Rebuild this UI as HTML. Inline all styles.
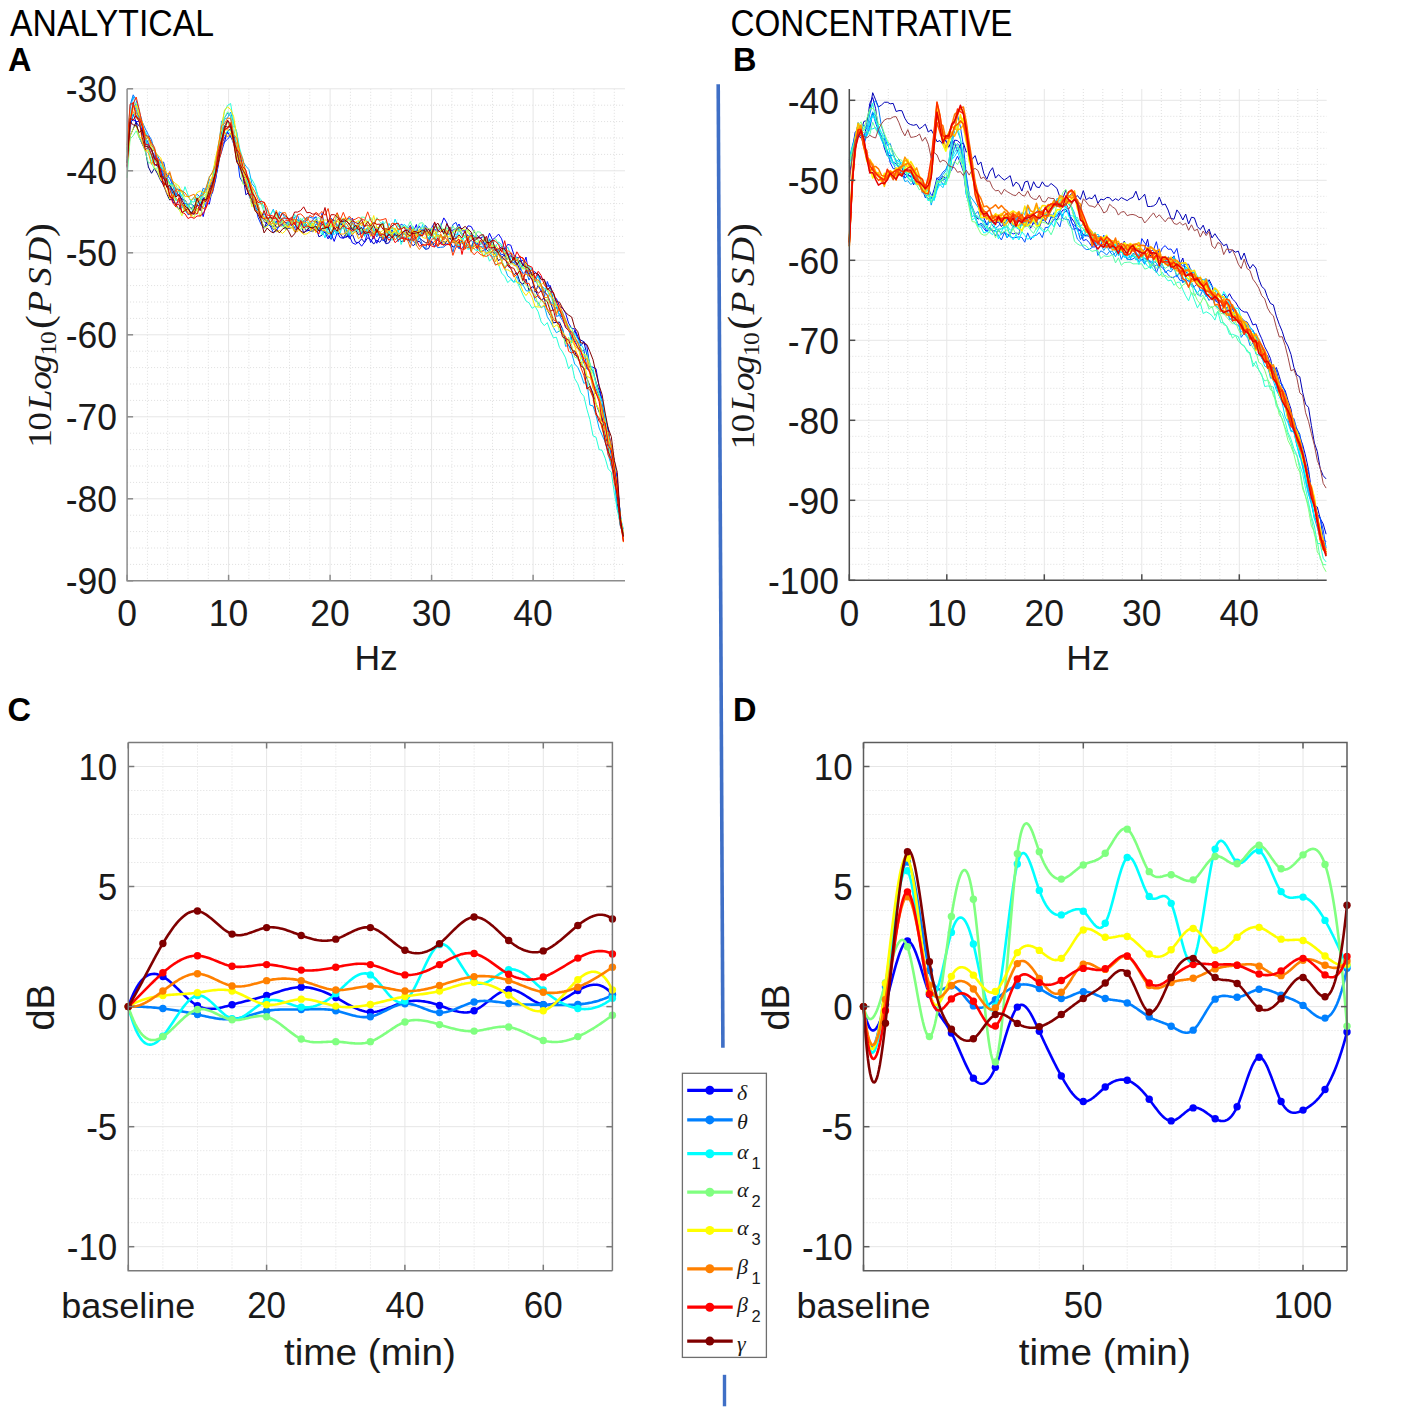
<!DOCTYPE html><html><head><meta charset="utf-8"><style>html,body{margin:0;padding:0;background:#fff;}svg{display:block;}</style></head><body><svg width="1417" height="1415" viewBox="0 0 1417 1415">
<rect width="1417" height="1415" fill="#ffffff"/>
<line x1="147.4" y1="88.8" x2="147.4" y2="580.8" stroke="#dedede" stroke-width="1" stroke-dasharray="1 2"/>
<line x1="167.7" y1="88.8" x2="167.7" y2="580.8" stroke="#dedede" stroke-width="1" stroke-dasharray="1 2"/>
<line x1="188" y1="88.8" x2="188" y2="580.8" stroke="#dedede" stroke-width="1" stroke-dasharray="1 2"/>
<line x1="208.3" y1="88.8" x2="208.3" y2="580.8" stroke="#dedede" stroke-width="1" stroke-dasharray="1 2"/>
<line x1="248.9" y1="88.8" x2="248.9" y2="580.8" stroke="#dedede" stroke-width="1" stroke-dasharray="1 2"/>
<line x1="269.2" y1="88.8" x2="269.2" y2="580.8" stroke="#dedede" stroke-width="1" stroke-dasharray="1 2"/>
<line x1="289.5" y1="88.8" x2="289.5" y2="580.8" stroke="#dedede" stroke-width="1" stroke-dasharray="1 2"/>
<line x1="309.8" y1="88.8" x2="309.8" y2="580.8" stroke="#dedede" stroke-width="1" stroke-dasharray="1 2"/>
<line x1="350.4" y1="88.8" x2="350.4" y2="580.8" stroke="#dedede" stroke-width="1" stroke-dasharray="1 2"/>
<line x1="370.7" y1="88.8" x2="370.7" y2="580.8" stroke="#dedede" stroke-width="1" stroke-dasharray="1 2"/>
<line x1="391" y1="88.8" x2="391" y2="580.8" stroke="#dedede" stroke-width="1" stroke-dasharray="1 2"/>
<line x1="411.3" y1="88.8" x2="411.3" y2="580.8" stroke="#dedede" stroke-width="1" stroke-dasharray="1 2"/>
<line x1="451.9" y1="88.8" x2="451.9" y2="580.8" stroke="#dedede" stroke-width="1" stroke-dasharray="1 2"/>
<line x1="472.2" y1="88.8" x2="472.2" y2="580.8" stroke="#dedede" stroke-width="1" stroke-dasharray="1 2"/>
<line x1="492.5" y1="88.8" x2="492.5" y2="580.8" stroke="#dedede" stroke-width="1" stroke-dasharray="1 2"/>
<line x1="512.8" y1="88.8" x2="512.8" y2="580.8" stroke="#dedede" stroke-width="1" stroke-dasharray="1 2"/>
<line x1="553.4" y1="88.8" x2="553.4" y2="580.8" stroke="#dedede" stroke-width="1" stroke-dasharray="1 2"/>
<line x1="573.7" y1="88.8" x2="573.7" y2="580.8" stroke="#dedede" stroke-width="1" stroke-dasharray="1 2"/>
<line x1="594" y1="88.8" x2="594" y2="580.8" stroke="#dedede" stroke-width="1" stroke-dasharray="1 2"/>
<line x1="614.3" y1="88.8" x2="614.3" y2="580.8" stroke="#dedede" stroke-width="1" stroke-dasharray="1 2"/>
<line x1="127.1" y1="105.2" x2="625" y2="105.2" stroke="#dedede" stroke-width="1" stroke-dasharray="1 2"/>
<line x1="127.1" y1="121.6" x2="625" y2="121.6" stroke="#dedede" stroke-width="1" stroke-dasharray="1 2"/>
<line x1="127.1" y1="138" x2="625" y2="138" stroke="#dedede" stroke-width="1" stroke-dasharray="1 2"/>
<line x1="127.1" y1="154.4" x2="625" y2="154.4" stroke="#dedede" stroke-width="1" stroke-dasharray="1 2"/>
<line x1="127.1" y1="187.2" x2="625" y2="187.2" stroke="#dedede" stroke-width="1" stroke-dasharray="1 2"/>
<line x1="127.1" y1="203.6" x2="625" y2="203.6" stroke="#dedede" stroke-width="1" stroke-dasharray="1 2"/>
<line x1="127.1" y1="220" x2="625" y2="220" stroke="#dedede" stroke-width="1" stroke-dasharray="1 2"/>
<line x1="127.1" y1="236.4" x2="625" y2="236.4" stroke="#dedede" stroke-width="1" stroke-dasharray="1 2"/>
<line x1="127.1" y1="269.2" x2="625" y2="269.2" stroke="#dedede" stroke-width="1" stroke-dasharray="1 2"/>
<line x1="127.1" y1="285.6" x2="625" y2="285.6" stroke="#dedede" stroke-width="1" stroke-dasharray="1 2"/>
<line x1="127.1" y1="302" x2="625" y2="302" stroke="#dedede" stroke-width="1" stroke-dasharray="1 2"/>
<line x1="127.1" y1="318.4" x2="625" y2="318.4" stroke="#dedede" stroke-width="1" stroke-dasharray="1 2"/>
<line x1="127.1" y1="351.2" x2="625" y2="351.2" stroke="#dedede" stroke-width="1" stroke-dasharray="1 2"/>
<line x1="127.1" y1="367.6" x2="625" y2="367.6" stroke="#dedede" stroke-width="1" stroke-dasharray="1 2"/>
<line x1="127.1" y1="384" x2="625" y2="384" stroke="#dedede" stroke-width="1" stroke-dasharray="1 2"/>
<line x1="127.1" y1="400.4" x2="625" y2="400.4" stroke="#dedede" stroke-width="1" stroke-dasharray="1 2"/>
<line x1="127.1" y1="433.2" x2="625" y2="433.2" stroke="#dedede" stroke-width="1" stroke-dasharray="1 2"/>
<line x1="127.1" y1="449.6" x2="625" y2="449.6" stroke="#dedede" stroke-width="1" stroke-dasharray="1 2"/>
<line x1="127.1" y1="466" x2="625" y2="466" stroke="#dedede" stroke-width="1" stroke-dasharray="1 2"/>
<line x1="127.1" y1="482.4" x2="625" y2="482.4" stroke="#dedede" stroke-width="1" stroke-dasharray="1 2"/>
<line x1="127.1" y1="515.2" x2="625" y2="515.2" stroke="#dedede" stroke-width="1" stroke-dasharray="1 2"/>
<line x1="127.1" y1="531.6" x2="625" y2="531.6" stroke="#dedede" stroke-width="1" stroke-dasharray="1 2"/>
<line x1="127.1" y1="548" x2="625" y2="548" stroke="#dedede" stroke-width="1" stroke-dasharray="1 2"/>
<line x1="127.1" y1="564.4" x2="625" y2="564.4" stroke="#dedede" stroke-width="1" stroke-dasharray="1 2"/>
<line x1="228.6" y1="88.8" x2="228.6" y2="580.8" stroke="#e6e6e6" stroke-width="1"/>
<line x1="330.1" y1="88.8" x2="330.1" y2="580.8" stroke="#e6e6e6" stroke-width="1"/>
<line x1="431.6" y1="88.8" x2="431.6" y2="580.8" stroke="#e6e6e6" stroke-width="1"/>
<line x1="533.1" y1="88.8" x2="533.1" y2="580.8" stroke="#e6e6e6" stroke-width="1"/>
<line x1="127.1" y1="88.8" x2="625" y2="88.8" stroke="#e6e6e6" stroke-width="1"/>
<line x1="127.1" y1="170.8" x2="625" y2="170.8" stroke="#e6e6e6" stroke-width="1"/>
<line x1="127.1" y1="252.8" x2="625" y2="252.8" stroke="#e6e6e6" stroke-width="1"/>
<line x1="127.1" y1="334.8" x2="625" y2="334.8" stroke="#e6e6e6" stroke-width="1"/>
<line x1="127.1" y1="416.8" x2="625" y2="416.8" stroke="#e6e6e6" stroke-width="1"/>
<line x1="127.1" y1="498.8" x2="625" y2="498.8" stroke="#e6e6e6" stroke-width="1"/>
<line x1="868.8" y1="89" x2="868.8" y2="580.3" stroke="#dedede" stroke-width="1" stroke-dasharray="1 2"/>
<line x1="888.3" y1="89" x2="888.3" y2="580.3" stroke="#dedede" stroke-width="1" stroke-dasharray="1 2"/>
<line x1="907.8" y1="89" x2="907.8" y2="580.3" stroke="#dedede" stroke-width="1" stroke-dasharray="1 2"/>
<line x1="927.3" y1="89" x2="927.3" y2="580.3" stroke="#dedede" stroke-width="1" stroke-dasharray="1 2"/>
<line x1="966.3" y1="89" x2="966.3" y2="580.3" stroke="#dedede" stroke-width="1" stroke-dasharray="1 2"/>
<line x1="985.8" y1="89" x2="985.8" y2="580.3" stroke="#dedede" stroke-width="1" stroke-dasharray="1 2"/>
<line x1="1005.3" y1="89" x2="1005.3" y2="580.3" stroke="#dedede" stroke-width="1" stroke-dasharray="1 2"/>
<line x1="1024.8" y1="89" x2="1024.8" y2="580.3" stroke="#dedede" stroke-width="1" stroke-dasharray="1 2"/>
<line x1="1063.8" y1="89" x2="1063.8" y2="580.3" stroke="#dedede" stroke-width="1" stroke-dasharray="1 2"/>
<line x1="1083.3" y1="89" x2="1083.3" y2="580.3" stroke="#dedede" stroke-width="1" stroke-dasharray="1 2"/>
<line x1="1102.8" y1="89" x2="1102.8" y2="580.3" stroke="#dedede" stroke-width="1" stroke-dasharray="1 2"/>
<line x1="1122.3" y1="89" x2="1122.3" y2="580.3" stroke="#dedede" stroke-width="1" stroke-dasharray="1 2"/>
<line x1="1161.3" y1="89" x2="1161.3" y2="580.3" stroke="#dedede" stroke-width="1" stroke-dasharray="1 2"/>
<line x1="1180.8" y1="89" x2="1180.8" y2="580.3" stroke="#dedede" stroke-width="1" stroke-dasharray="1 2"/>
<line x1="1200.3" y1="89" x2="1200.3" y2="580.3" stroke="#dedede" stroke-width="1" stroke-dasharray="1 2"/>
<line x1="1219.8" y1="89" x2="1219.8" y2="580.3" stroke="#dedede" stroke-width="1" stroke-dasharray="1 2"/>
<line x1="1258.8" y1="89" x2="1258.8" y2="580.3" stroke="#dedede" stroke-width="1" stroke-dasharray="1 2"/>
<line x1="1278.3" y1="89" x2="1278.3" y2="580.3" stroke="#dedede" stroke-width="1" stroke-dasharray="1 2"/>
<line x1="1297.8" y1="89" x2="1297.8" y2="580.3" stroke="#dedede" stroke-width="1" stroke-dasharray="1 2"/>
<line x1="1317.3" y1="89" x2="1317.3" y2="580.3" stroke="#dedede" stroke-width="1" stroke-dasharray="1 2"/>
<line x1="849.3" y1="116.3" x2="1326.7" y2="116.3" stroke="#dedede" stroke-width="1" stroke-dasharray="1 2"/>
<line x1="849.3" y1="132.3" x2="1326.7" y2="132.3" stroke="#dedede" stroke-width="1" stroke-dasharray="1 2"/>
<line x1="849.3" y1="148.3" x2="1326.7" y2="148.3" stroke="#dedede" stroke-width="1" stroke-dasharray="1 2"/>
<line x1="849.3" y1="164.3" x2="1326.7" y2="164.3" stroke="#dedede" stroke-width="1" stroke-dasharray="1 2"/>
<line x1="849.3" y1="196.3" x2="1326.7" y2="196.3" stroke="#dedede" stroke-width="1" stroke-dasharray="1 2"/>
<line x1="849.3" y1="212.3" x2="1326.7" y2="212.3" stroke="#dedede" stroke-width="1" stroke-dasharray="1 2"/>
<line x1="849.3" y1="228.3" x2="1326.7" y2="228.3" stroke="#dedede" stroke-width="1" stroke-dasharray="1 2"/>
<line x1="849.3" y1="244.3" x2="1326.7" y2="244.3" stroke="#dedede" stroke-width="1" stroke-dasharray="1 2"/>
<line x1="849.3" y1="276.3" x2="1326.7" y2="276.3" stroke="#dedede" stroke-width="1" stroke-dasharray="1 2"/>
<line x1="849.3" y1="292.3" x2="1326.7" y2="292.3" stroke="#dedede" stroke-width="1" stroke-dasharray="1 2"/>
<line x1="849.3" y1="308.3" x2="1326.7" y2="308.3" stroke="#dedede" stroke-width="1" stroke-dasharray="1 2"/>
<line x1="849.3" y1="324.3" x2="1326.7" y2="324.3" stroke="#dedede" stroke-width="1" stroke-dasharray="1 2"/>
<line x1="849.3" y1="356.3" x2="1326.7" y2="356.3" stroke="#dedede" stroke-width="1" stroke-dasharray="1 2"/>
<line x1="849.3" y1="372.3" x2="1326.7" y2="372.3" stroke="#dedede" stroke-width="1" stroke-dasharray="1 2"/>
<line x1="849.3" y1="388.3" x2="1326.7" y2="388.3" stroke="#dedede" stroke-width="1" stroke-dasharray="1 2"/>
<line x1="849.3" y1="404.3" x2="1326.7" y2="404.3" stroke="#dedede" stroke-width="1" stroke-dasharray="1 2"/>
<line x1="849.3" y1="436.3" x2="1326.7" y2="436.3" stroke="#dedede" stroke-width="1" stroke-dasharray="1 2"/>
<line x1="849.3" y1="452.3" x2="1326.7" y2="452.3" stroke="#dedede" stroke-width="1" stroke-dasharray="1 2"/>
<line x1="849.3" y1="468.3" x2="1326.7" y2="468.3" stroke="#dedede" stroke-width="1" stroke-dasharray="1 2"/>
<line x1="849.3" y1="484.3" x2="1326.7" y2="484.3" stroke="#dedede" stroke-width="1" stroke-dasharray="1 2"/>
<line x1="849.3" y1="516.3" x2="1326.7" y2="516.3" stroke="#dedede" stroke-width="1" stroke-dasharray="1 2"/>
<line x1="849.3" y1="532.3" x2="1326.7" y2="532.3" stroke="#dedede" stroke-width="1" stroke-dasharray="1 2"/>
<line x1="849.3" y1="548.3" x2="1326.7" y2="548.3" stroke="#dedede" stroke-width="1" stroke-dasharray="1 2"/>
<line x1="849.3" y1="564.3" x2="1326.7" y2="564.3" stroke="#dedede" stroke-width="1" stroke-dasharray="1 2"/>
<line x1="946.8" y1="89" x2="946.8" y2="580.3" stroke="#e6e6e6" stroke-width="1"/>
<line x1="1044.3" y1="89" x2="1044.3" y2="580.3" stroke="#e6e6e6" stroke-width="1"/>
<line x1="1141.8" y1="89" x2="1141.8" y2="580.3" stroke="#e6e6e6" stroke-width="1"/>
<line x1="1239.3" y1="89" x2="1239.3" y2="580.3" stroke="#e6e6e6" stroke-width="1"/>
<line x1="849.3" y1="100.3" x2="1326.7" y2="100.3" stroke="#e6e6e6" stroke-width="1"/>
<line x1="849.3" y1="180.3" x2="1326.7" y2="180.3" stroke="#e6e6e6" stroke-width="1"/>
<line x1="849.3" y1="260.3" x2="1326.7" y2="260.3" stroke="#e6e6e6" stroke-width="1"/>
<line x1="849.3" y1="340.3" x2="1326.7" y2="340.3" stroke="#e6e6e6" stroke-width="1"/>
<line x1="849.3" y1="420.3" x2="1326.7" y2="420.3" stroke="#e6e6e6" stroke-width="1"/>
<line x1="849.3" y1="500.3" x2="1326.7" y2="500.3" stroke="#e6e6e6" stroke-width="1"/>
<line x1="162.9" y1="742.5" x2="162.9" y2="1270.7" stroke="#dedede" stroke-width="1" stroke-dasharray="1 2"/>
<line x1="197.5" y1="742.5" x2="197.5" y2="1270.7" stroke="#dedede" stroke-width="1" stroke-dasharray="1 2"/>
<line x1="232" y1="742.5" x2="232" y2="1270.7" stroke="#dedede" stroke-width="1" stroke-dasharray="1 2"/>
<line x1="301.2" y1="742.5" x2="301.2" y2="1270.7" stroke="#dedede" stroke-width="1" stroke-dasharray="1 2"/>
<line x1="335.8" y1="742.5" x2="335.8" y2="1270.7" stroke="#dedede" stroke-width="1" stroke-dasharray="1 2"/>
<line x1="370.4" y1="742.5" x2="370.4" y2="1270.7" stroke="#dedede" stroke-width="1" stroke-dasharray="1 2"/>
<line x1="439.5" y1="742.5" x2="439.5" y2="1270.7" stroke="#dedede" stroke-width="1" stroke-dasharray="1 2"/>
<line x1="474.1" y1="742.5" x2="474.1" y2="1270.7" stroke="#dedede" stroke-width="1" stroke-dasharray="1 2"/>
<line x1="508.7" y1="742.5" x2="508.7" y2="1270.7" stroke="#dedede" stroke-width="1" stroke-dasharray="1 2"/>
<line x1="577.8" y1="742.5" x2="577.8" y2="1270.7" stroke="#dedede" stroke-width="1" stroke-dasharray="1 2"/>
<line x1="128.3" y1="1222.7" x2="612.4" y2="1222.7" stroke="#dedede" stroke-width="1" stroke-dasharray="1 2"/>
<line x1="128.3" y1="1198.7" x2="612.4" y2="1198.7" stroke="#dedede" stroke-width="1" stroke-dasharray="1 2"/>
<line x1="128.3" y1="1174.7" x2="612.4" y2="1174.7" stroke="#dedede" stroke-width="1" stroke-dasharray="1 2"/>
<line x1="128.3" y1="1150.7" x2="612.4" y2="1150.7" stroke="#dedede" stroke-width="1" stroke-dasharray="1 2"/>
<line x1="128.3" y1="1102.6" x2="612.4" y2="1102.6" stroke="#dedede" stroke-width="1" stroke-dasharray="1 2"/>
<line x1="128.3" y1="1078.6" x2="612.4" y2="1078.6" stroke="#dedede" stroke-width="1" stroke-dasharray="1 2"/>
<line x1="128.3" y1="1054.6" x2="612.4" y2="1054.6" stroke="#dedede" stroke-width="1" stroke-dasharray="1 2"/>
<line x1="128.3" y1="1030.6" x2="612.4" y2="1030.6" stroke="#dedede" stroke-width="1" stroke-dasharray="1 2"/>
<line x1="128.3" y1="982.6" x2="612.4" y2="982.6" stroke="#dedede" stroke-width="1" stroke-dasharray="1 2"/>
<line x1="128.3" y1="958.6" x2="612.4" y2="958.6" stroke="#dedede" stroke-width="1" stroke-dasharray="1 2"/>
<line x1="128.3" y1="934.6" x2="612.4" y2="934.6" stroke="#dedede" stroke-width="1" stroke-dasharray="1 2"/>
<line x1="128.3" y1="910.6" x2="612.4" y2="910.6" stroke="#dedede" stroke-width="1" stroke-dasharray="1 2"/>
<line x1="128.3" y1="862.5" x2="612.4" y2="862.5" stroke="#dedede" stroke-width="1" stroke-dasharray="1 2"/>
<line x1="128.3" y1="838.5" x2="612.4" y2="838.5" stroke="#dedede" stroke-width="1" stroke-dasharray="1 2"/>
<line x1="128.3" y1="814.5" x2="612.4" y2="814.5" stroke="#dedede" stroke-width="1" stroke-dasharray="1 2"/>
<line x1="128.3" y1="790.5" x2="612.4" y2="790.5" stroke="#dedede" stroke-width="1" stroke-dasharray="1 2"/>
<line x1="266.6" y1="742.5" x2="266.6" y2="1270.7" stroke="#e6e6e6" stroke-width="1"/>
<line x1="404.9" y1="742.5" x2="404.9" y2="1270.7" stroke="#e6e6e6" stroke-width="1"/>
<line x1="543.3" y1="742.5" x2="543.3" y2="1270.7" stroke="#e6e6e6" stroke-width="1"/>
<line x1="128.3" y1="766.5" x2="612.4" y2="766.5" stroke="#e6e6e6" stroke-width="1"/>
<line x1="128.3" y1="886.5" x2="612.4" y2="886.5" stroke="#e6e6e6" stroke-width="1"/>
<line x1="128.3" y1="1006.6" x2="612.4" y2="1006.6" stroke="#e6e6e6" stroke-width="1"/>
<line x1="128.3" y1="1126.7" x2="612.4" y2="1126.7" stroke="#e6e6e6" stroke-width="1"/>
<line x1="128.3" y1="1246.7" x2="612.4" y2="1246.7" stroke="#e6e6e6" stroke-width="1"/>
<line x1="907.5" y1="742.5" x2="907.5" y2="1270.7" stroke="#dedede" stroke-width="1" stroke-dasharray="1 2"/>
<line x1="951.4" y1="742.5" x2="951.4" y2="1270.7" stroke="#dedede" stroke-width="1" stroke-dasharray="1 2"/>
<line x1="995.4" y1="742.5" x2="995.4" y2="1270.7" stroke="#dedede" stroke-width="1" stroke-dasharray="1 2"/>
<line x1="1039.3" y1="742.5" x2="1039.3" y2="1270.7" stroke="#dedede" stroke-width="1" stroke-dasharray="1 2"/>
<line x1="1127.2" y1="742.5" x2="1127.2" y2="1270.7" stroke="#dedede" stroke-width="1" stroke-dasharray="1 2"/>
<line x1="1171.2" y1="742.5" x2="1171.2" y2="1270.7" stroke="#dedede" stroke-width="1" stroke-dasharray="1 2"/>
<line x1="1215.1" y1="742.5" x2="1215.1" y2="1270.7" stroke="#dedede" stroke-width="1" stroke-dasharray="1 2"/>
<line x1="1259.1" y1="742.5" x2="1259.1" y2="1270.7" stroke="#dedede" stroke-width="1" stroke-dasharray="1 2"/>
<line x1="863.5" y1="1222.7" x2="1347" y2="1222.7" stroke="#dedede" stroke-width="1" stroke-dasharray="1 2"/>
<line x1="863.5" y1="1198.7" x2="1347" y2="1198.7" stroke="#dedede" stroke-width="1" stroke-dasharray="1 2"/>
<line x1="863.5" y1="1174.7" x2="1347" y2="1174.7" stroke="#dedede" stroke-width="1" stroke-dasharray="1 2"/>
<line x1="863.5" y1="1150.7" x2="1347" y2="1150.7" stroke="#dedede" stroke-width="1" stroke-dasharray="1 2"/>
<line x1="863.5" y1="1102.6" x2="1347" y2="1102.6" stroke="#dedede" stroke-width="1" stroke-dasharray="1 2"/>
<line x1="863.5" y1="1078.6" x2="1347" y2="1078.6" stroke="#dedede" stroke-width="1" stroke-dasharray="1 2"/>
<line x1="863.5" y1="1054.6" x2="1347" y2="1054.6" stroke="#dedede" stroke-width="1" stroke-dasharray="1 2"/>
<line x1="863.5" y1="1030.6" x2="1347" y2="1030.6" stroke="#dedede" stroke-width="1" stroke-dasharray="1 2"/>
<line x1="863.5" y1="982.6" x2="1347" y2="982.6" stroke="#dedede" stroke-width="1" stroke-dasharray="1 2"/>
<line x1="863.5" y1="958.6" x2="1347" y2="958.6" stroke="#dedede" stroke-width="1" stroke-dasharray="1 2"/>
<line x1="863.5" y1="934.6" x2="1347" y2="934.6" stroke="#dedede" stroke-width="1" stroke-dasharray="1 2"/>
<line x1="863.5" y1="910.6" x2="1347" y2="910.6" stroke="#dedede" stroke-width="1" stroke-dasharray="1 2"/>
<line x1="863.5" y1="862.5" x2="1347" y2="862.5" stroke="#dedede" stroke-width="1" stroke-dasharray="1 2"/>
<line x1="863.5" y1="838.5" x2="1347" y2="838.5" stroke="#dedede" stroke-width="1" stroke-dasharray="1 2"/>
<line x1="863.5" y1="814.5" x2="1347" y2="814.5" stroke="#dedede" stroke-width="1" stroke-dasharray="1 2"/>
<line x1="863.5" y1="790.5" x2="1347" y2="790.5" stroke="#dedede" stroke-width="1" stroke-dasharray="1 2"/>
<line x1="1083.3" y1="742.5" x2="1083.3" y2="1270.7" stroke="#e6e6e6" stroke-width="1"/>
<line x1="1303" y1="742.5" x2="1303" y2="1270.7" stroke="#e6e6e6" stroke-width="1"/>
<line x1="863.5" y1="766.5" x2="1347" y2="766.5" stroke="#e6e6e6" stroke-width="1"/>
<line x1="863.5" y1="886.5" x2="1347" y2="886.5" stroke="#e6e6e6" stroke-width="1"/>
<line x1="863.5" y1="1006.6" x2="1347" y2="1006.6" stroke="#e6e6e6" stroke-width="1"/>
<line x1="863.5" y1="1126.7" x2="1347" y2="1126.7" stroke="#e6e6e6" stroke-width="1"/>
<line x1="863.5" y1="1246.7" x2="1347" y2="1246.7" stroke="#e6e6e6" stroke-width="1"/>
<polyline points="128.3,1006.6 130.03,1001.84 131.76,997.52 133.49,993.61 135.22,990.11 136.95,987 138.67,984.25 140.4,981.87 142.13,979.83 143.86,978.11 145.59,976.71 147.32,975.6 149.05,974.78 150.78,974.23 152.51,973.93 154.24,973.86 155.96,974.02 157.69,974.39 159.42,974.95 161.15,975.69 162.88,976.59 164.61,977.64 166.34,978.82 168.07,980.11 169.8,981.51 171.53,983 173.25,984.56 174.98,986.18 176.71,987.84 178.44,989.53 180.17,991.23 181.9,992.93 183.63,994.61 185.36,996.26 187.09,997.86 188.81,999.4 190.54,1000.87 192.27,1002.23 194,1003.5 195.73,1004.64 197.46,1005.64 199.19,1006.49 200.92,1007.2 202.65,1007.78 204.38,1008.22 206.11,1008.55 207.83,1008.76 209.56,1008.88 211.29,1008.89 213.02,1008.82 214.75,1008.68 216.48,1008.46 218.21,1008.18 219.94,1007.84 221.67,1007.46 223.4,1007.04 225.12,1006.6 226.85,1006.13 228.58,1005.65 230.31,1005.16 232.04,1004.68 233.77,1004.21 235.5,1003.75 237.23,1003.29 238.96,1002.85 240.69,1002.41 242.41,1001.97 244.14,1001.54 245.87,1001.11 247.6,1000.68 249.33,1000.25 251.06,999.82 252.79,999.38 254.52,998.93 256.25,998.48 257.98,998.03 259.7,997.56 261.43,997.08 263.16,996.58 264.89,996.08 266.62,995.56 268.35,995.02 270.08,994.47 271.81,993.91 273.54,993.34 275.26,992.78 276.99,992.22 278.72,991.66 280.45,991.12 282.18,990.6 283.91,990.1 285.64,989.62 287.37,989.17 289.1,988.76 290.83,988.38 292.56,988.05 294.28,987.76 296.01,987.52 297.74,987.34 299.47,987.21 301.2,987.15 302.93,987.16 304.66,987.23 306.39,987.36 308.12,987.56 309.85,987.81 311.57,988.12 313.3,988.49 315.03,988.91 316.76,989.39 318.49,989.91 320.22,990.48 321.95,991.1 323.68,991.76 325.41,992.47 327.13,993.21 328.86,994 330.59,994.82 332.32,995.67 334.05,996.56 335.78,997.48 337.51,998.42 339.24,999.39 340.97,1000.37 342.7,1001.36 344.43,1002.35 346.15,1003.33 347.88,1004.3 349.61,1005.24 351.34,1006.15 353.07,1007.03 354.8,1007.86 356.53,1008.64 358.26,1009.36 359.99,1010.01 361.72,1010.59 363.44,1011.09 365.17,1011.5 366.9,1011.81 368.63,1012.02 370.36,1012.12 372.09,1012.11 373.82,1011.98 375.55,1011.76 377.28,1011.44 379,1011.05 380.73,1010.59 382.46,1010.06 384.19,1009.49 385.92,1008.87 387.65,1008.22 389.38,1007.55 391.11,1006.86 392.84,1006.17 394.57,1005.49 396.3,1004.82 398.02,1004.17 399.75,1003.56 401.48,1003 403.21,1002.49 404.94,1002.04 406.67,1001.66 408.4,1001.35 410.13,1001.11 411.86,1000.94 413.59,1000.83 415.31,1000.78 417.04,1000.8 418.77,1000.87 420.5,1000.99 422.23,1001.17 423.96,1001.4 425.69,1001.68 427.42,1002 429.15,1002.37 430.88,1002.78 432.6,1003.23 434.33,1003.72 436.06,1004.25 437.79,1004.81 439.52,1005.4 441.25,1006.02 442.98,1006.66 444.71,1007.31 446.44,1007.96 448.17,1008.6 449.89,1009.22 451.62,1009.82 453.35,1010.38 455.08,1010.89 456.81,1011.34 458.54,1011.73 460.27,1012.04 462,1012.27 463.73,1012.41 465.46,1012.43 467.18,1012.35 468.91,1012.14 470.64,1011.8 472.37,1011.32 474.1,1010.68 475.83,1009.89 477.56,1008.96 479.29,1007.9 481.02,1006.74 482.75,1005.49 484.47,1004.18 486.2,1002.82 487.93,1001.43 489.66,1000.03 491.39,998.64 493.12,997.29 494.85,995.98 496.58,994.74 498.31,993.58 500.04,992.54 501.76,991.61 503.49,990.83 505.22,990.22 506.95,989.79 508.68,989.55 510.41,989.53 512.14,989.72 513.87,990.08 515.6,990.6 517.33,991.27 519.05,992.05 520.78,992.94 522.51,993.91 524.24,994.94 525.97,996.01 527.7,997.11 529.43,998.21 531.16,999.29 532.89,1000.33 534.62,1001.31 536.34,1002.22 538.07,1003.03 539.8,1003.72 541.53,1004.28 543.26,1004.68 544.99,1004.91 546.72,1004.97 548.45,1004.88 550.18,1004.65 551.9,1004.28 553.63,1003.8 555.36,1003.2 557.09,1002.51 558.82,1001.72 560.55,1000.86 562.28,999.94 564.01,998.96 565.74,997.94 567.47,996.89 569.2,995.81 570.92,994.73 572.65,993.64 574.38,992.57 576.11,991.53 577.84,990.51 579.57,989.55 581.3,988.64 583.03,987.79 584.76,987.03 586.49,986.35 588.21,985.78 589.94,985.32 591.67,984.98 593.4,984.78 595.13,984.72 596.86,984.82 598.59,985.09 600.32,985.54 602.05,986.17 603.78,987.01 605.5,988.06 607.23,989.33 608.96,990.84 610.69,992.59 612.42,994.6" fill="none" stroke="#0000ff" stroke-width="2.6" stroke-linejoin="round"/>
<circle cx="128.3" cy="1006.6" r="3.7" fill="#0000ff"/>
<circle cx="162.88" cy="976.59" r="3.7" fill="#0000ff"/>
<circle cx="197.46" cy="1005.64" r="3.7" fill="#0000ff"/>
<circle cx="232.04" cy="1004.68" r="3.7" fill="#0000ff"/>
<circle cx="266.62" cy="995.56" r="3.7" fill="#0000ff"/>
<circle cx="301.2" cy="987.15" r="3.7" fill="#0000ff"/>
<circle cx="335.78" cy="997.48" r="3.7" fill="#0000ff"/>
<circle cx="370.36" cy="1012.12" r="3.7" fill="#0000ff"/>
<circle cx="404.94" cy="1002.04" r="3.7" fill="#0000ff"/>
<circle cx="439.52" cy="1005.4" r="3.7" fill="#0000ff"/>
<circle cx="474.1" cy="1010.68" r="3.7" fill="#0000ff"/>
<circle cx="508.68" cy="989.55" r="3.7" fill="#0000ff"/>
<circle cx="543.26" cy="1004.68" r="3.7" fill="#0000ff"/>
<circle cx="577.84" cy="990.51" r="3.7" fill="#0000ff"/>
<circle cx="612.42" cy="994.6" r="3.7" fill="#0000ff"/>
<polyline points="128.3,1006.6 130.03,1006.58 131.76,1006.57 133.49,1006.58 135.22,1006.6 136.95,1006.63 138.67,1006.68 140.4,1006.73 142.13,1006.8 143.86,1006.88 145.59,1006.97 147.32,1007.08 149.05,1007.19 150.78,1007.32 152.51,1007.46 154.24,1007.61 155.96,1007.77 157.69,1007.94 159.42,1008.12 161.15,1008.32 162.88,1008.52 164.61,1008.73 166.34,1008.96 168.07,1009.19 169.8,1009.43 171.53,1009.69 173.25,1009.95 174.98,1010.22 176.71,1010.5 178.44,1010.79 180.17,1011.09 181.9,1011.39 183.63,1011.71 185.36,1012.03 187.09,1012.37 188.81,1012.71 190.54,1013.05 192.27,1013.41 194,1013.77 195.73,1014.15 197.46,1014.52 199.19,1014.91 200.92,1015.3 202.65,1015.69 204.38,1016.07 206.11,1016.45 207.83,1016.82 209.56,1017.18 211.29,1017.52 213.02,1017.84 214.75,1018.14 216.48,1018.41 218.21,1018.65 219.94,1018.85 221.67,1019.03 223.4,1019.16 225.12,1019.24 226.85,1019.28 228.58,1019.27 230.31,1019.21 232.04,1019.09 233.77,1018.9 235.5,1018.67 237.23,1018.38 238.96,1018.05 240.69,1017.68 242.41,1017.28 244.14,1016.84 245.87,1016.39 247.6,1015.91 249.33,1015.42 251.06,1014.92 252.79,1014.42 254.52,1013.92 256.25,1013.43 257.98,1012.95 259.7,1012.49 261.43,1012.05 263.16,1011.64 264.89,1011.26 266.62,1010.92 268.35,1010.63 270.08,1010.37 271.81,1010.15 273.54,1009.97 275.26,1009.82 276.99,1009.7 278.72,1009.61 280.45,1009.54 282.18,1009.49 283.91,1009.45 285.64,1009.44 287.37,1009.43 289.1,1009.44 290.83,1009.45 292.56,1009.46 294.28,1009.48 296.01,1009.49 297.74,1009.49 299.47,1009.49 301.2,1009.48 302.93,1009.46 304.66,1009.42 306.39,1009.38 308.12,1009.33 309.85,1009.28 311.57,1009.24 313.3,1009.2 315.03,1009.16 316.76,1009.15 318.49,1009.14 320.22,1009.16 321.95,1009.19 323.68,1009.26 325.41,1009.35 327.13,1009.47 328.86,1009.63 330.59,1009.83 332.32,1010.07 334.05,1010.35 335.78,1010.68 337.51,1011.06 339.24,1011.49 340.97,1011.95 342.7,1012.43 344.43,1012.93 346.15,1013.44 347.88,1013.95 349.61,1014.45 351.34,1014.94 353.07,1015.4 354.8,1015.82 356.53,1016.2 358.26,1016.53 359.99,1016.8 361.72,1017.01 363.44,1017.13 365.17,1017.17 366.9,1017.11 368.63,1016.95 370.36,1016.68 372.09,1016.3 373.82,1015.8 375.55,1015.22 377.28,1014.55 379,1013.81 380.73,1013.02 382.46,1012.2 384.19,1011.34 385.92,1010.47 387.65,1009.59 389.38,1008.73 391.11,1007.9 392.84,1007.1 394.57,1006.36 396.3,1005.68 398.02,1005.08 399.75,1004.57 401.48,1004.16 403.21,1003.87 404.94,1003.72 406.67,1003.7 408.4,1003.82 410.13,1004.05 411.86,1004.38 413.59,1004.81 415.31,1005.31 417.04,1005.87 418.77,1006.48 420.5,1007.13 422.23,1007.8 423.96,1008.47 425.69,1009.14 427.42,1009.79 429.15,1010.4 430.88,1010.97 432.6,1011.47 434.33,1011.9 436.06,1012.24 437.79,1012.48 439.52,1012.6 441.25,1012.6 442.98,1012.48 444.71,1012.25 446.44,1011.92 448.17,1011.5 449.89,1011.01 451.62,1010.45 453.35,1009.84 455.08,1009.18 456.81,1008.48 458.54,1007.77 460.27,1007.04 462,1006.31 463.73,1005.59 465.46,1004.89 467.18,1004.21 468.91,1003.58 470.64,1003 472.37,1002.48 474.1,1002.04 475.83,1001.67 477.56,1001.39 479.29,1001.17 481.02,1001.02 482.75,1000.94 484.47,1000.91 486.2,1000.93 487.93,1001 489.66,1001.11 491.39,1001.26 493.12,1001.43 494.85,1001.63 496.58,1001.85 498.31,1002.08 500.04,1002.33 501.76,1002.57 503.49,1002.81 505.22,1003.05 506.95,1003.27 508.68,1003.48 510.41,1003.66 512.14,1003.82 513.87,1003.96 515.6,1004.09 517.33,1004.19 519.05,1004.28 520.78,1004.36 522.51,1004.42 524.24,1004.47 525.97,1004.51 527.7,1004.54 529.43,1004.56 531.16,1004.58 532.89,1004.6 534.62,1004.61 536.34,1004.62 538.07,1004.63 539.8,1004.64 541.53,1004.66 543.26,1004.68 544.99,1004.71 546.72,1004.74 548.45,1004.77 550.18,1004.81 551.9,1004.84 553.63,1004.88 555.36,1004.91 557.09,1004.94 558.82,1004.96 560.55,1004.98 562.28,1004.98 564.01,1004.98 565.74,1004.97 567.47,1004.94 569.2,1004.9 570.92,1004.85 572.65,1004.77 574.38,1004.68 576.11,1004.57 577.84,1004.44 579.57,1004.28 581.3,1004.1 583.03,1003.9 584.76,1003.67 586.49,1003.41 588.21,1003.11 589.94,1002.79 591.67,1002.44 593.4,1002.05 595.13,1001.62 596.86,1001.16 598.59,1000.66 600.32,1000.11 602.05,999.53 603.78,998.9 605.5,998.23 607.23,997.52 608.96,996.75 610.69,995.94 612.42,995.08" fill="none" stroke="#0080ff" stroke-width="2.6" stroke-linejoin="round"/>
<circle cx="128.3" cy="1006.6" r="3.7" fill="#0080ff"/>
<circle cx="162.88" cy="1008.52" r="3.7" fill="#0080ff"/>
<circle cx="197.46" cy="1014.52" r="3.7" fill="#0080ff"/>
<circle cx="232.04" cy="1019.09" r="3.7" fill="#0080ff"/>
<circle cx="266.62" cy="1010.92" r="3.7" fill="#0080ff"/>
<circle cx="301.2" cy="1009.48" r="3.7" fill="#0080ff"/>
<circle cx="335.78" cy="1010.68" r="3.7" fill="#0080ff"/>
<circle cx="370.36" cy="1016.68" r="3.7" fill="#0080ff"/>
<circle cx="404.94" cy="1003.72" r="3.7" fill="#0080ff"/>
<circle cx="439.52" cy="1012.6" r="3.7" fill="#0080ff"/>
<circle cx="474.1" cy="1002.04" r="3.7" fill="#0080ff"/>
<circle cx="508.68" cy="1003.48" r="3.7" fill="#0080ff"/>
<circle cx="543.26" cy="1004.68" r="3.7" fill="#0080ff"/>
<circle cx="577.84" cy="1004.44" r="3.7" fill="#0080ff"/>
<circle cx="612.42" cy="995.08" r="3.7" fill="#0080ff"/>
<polyline points="128.3,1006.6 130.03,1013.01 131.76,1018.74 133.49,1023.82 135.22,1028.28 136.95,1032.14 138.67,1035.42 140.4,1038.16 142.13,1040.38 143.86,1042.11 145.59,1043.37 147.32,1044.19 149.05,1044.59 150.78,1044.61 152.51,1044.27 154.24,1043.59 155.96,1042.61 157.69,1041.35 159.42,1039.83 161.15,1038.08 162.88,1036.13 164.61,1034.01 166.34,1031.74 168.07,1029.34 169.8,1026.85 171.53,1024.29 173.25,1021.68 174.98,1019.07 176.71,1016.46 178.44,1013.88 180.17,1011.37 181.9,1008.95 183.63,1006.65 185.36,1004.48 187.09,1002.49 188.81,1000.69 190.54,999.11 192.27,997.79 194,996.73 195.73,995.98 197.46,995.56 199.19,995.48 200.92,995.72 202.65,996.25 204.38,997.04 206.11,998.05 207.83,999.26 209.56,1000.64 211.29,1002.14 213.02,1003.74 214.75,1005.4 216.48,1007.1 218.21,1008.8 219.94,1010.47 221.67,1012.07 223.4,1013.59 225.12,1014.97 226.85,1016.2 228.58,1017.23 230.31,1018.05 232.04,1018.61 233.77,1018.89 235.5,1018.9 237.23,1018.68 238.96,1018.24 240.69,1017.61 242.41,1016.81 244.14,1015.86 245.87,1014.79 247.6,1013.63 249.33,1012.39 251.06,1011.1 252.79,1009.78 254.52,1008.46 256.25,1007.15 257.98,1005.89 259.7,1004.7 261.43,1003.6 263.16,1002.61 264.89,1001.77 266.62,1001.08 268.35,1000.57 270.08,1000.23 271.81,1000.05 273.54,1000.01 275.26,1000.1 276.99,1000.3 278.72,1000.6 280.45,1000.99 282.18,1001.45 283.91,1001.96 285.64,1002.52 287.37,1003.11 289.1,1003.7 290.83,1004.3 292.56,1004.89 294.28,1005.44 296.01,1005.95 297.74,1006.4 299.47,1006.79 301.2,1007.08 302.93,1007.28 304.66,1007.38 306.39,1007.38 308.12,1007.28 309.85,1007.09 311.57,1006.8 313.3,1006.42 315.03,1005.95 316.76,1005.39 318.49,1004.74 320.22,1004 321.95,1003.18 323.68,1002.27 325.41,1001.28 327.13,1000.2 328.86,999.05 330.59,997.81 332.32,996.5 334.05,995.1 335.78,993.63 337.51,992.09 339.24,990.5 340.97,988.87 342.7,987.22 344.43,985.58 346.15,983.96 347.88,982.38 349.61,980.87 351.34,979.45 353.07,978.12 354.8,976.92 356.53,975.86 358.26,974.97 359.99,974.25 361.72,973.74 363.44,973.45 365.17,973.4 366.9,973.62 368.63,974.11 370.36,974.91 372.09,976.01 373.82,977.4 375.55,979.02 377.28,980.83 379,982.79 380.73,984.86 382.46,986.99 384.19,989.15 385.92,991.28 387.65,993.35 389.38,995.31 391.11,997.12 392.84,998.74 394.57,1000.12 396.3,1001.23 398.02,1002.01 399.75,1002.43 401.48,1002.44 403.21,1002.01 404.94,1001.08 406.67,999.63 408.4,997.7 410.13,995.35 411.86,992.64 413.59,989.61 415.31,986.32 417.04,982.83 418.77,979.2 420.5,975.48 422.23,971.73 423.96,968 425.69,964.35 427.42,960.83 429.15,957.5 430.88,954.42 432.6,951.64 434.33,949.22 436.06,947.21 437.79,945.67 439.52,944.65 441.25,944.2 442.98,944.28 444.71,944.85 446.44,945.85 448.17,947.23 449.89,948.96 451.62,950.98 453.35,953.23 455.08,955.69 456.81,958.28 458.54,960.98 460.27,963.72 462,966.47 463.73,969.16 465.46,971.76 467.18,974.22 468.91,976.48 470.64,978.5 472.37,980.24 474.1,981.63 475.83,982.65 477.56,983.32 479.29,983.66 481.02,983.7 482.75,983.49 484.47,983.04 486.2,982.39 487.93,981.57 489.66,980.61 491.39,979.54 493.12,978.39 494.85,977.2 496.58,975.98 498.31,974.79 500.04,973.63 501.76,972.56 503.49,971.59 505.22,970.76 506.95,970.09 508.68,969.62 510.41,969.38 512.14,969.35 513.87,969.53 515.6,969.89 517.33,970.43 519.05,971.13 520.78,971.97 522.51,972.95 524.24,974.05 525.97,975.25 527.7,976.54 529.43,977.92 531.16,979.35 532.89,980.84 534.62,982.36 536.34,983.91 538.07,985.46 539.8,987.01 541.53,988.54 543.26,990.03 544.99,991.48 546.72,992.89 548.45,994.24 550.18,995.55 551.9,996.8 553.63,998 555.36,999.15 557.09,1000.24 558.82,1001.27 560.55,1002.24 562.28,1003.16 564.01,1004.01 565.74,1004.81 567.47,1005.54 569.2,1006.2 570.92,1006.8 572.65,1007.34 574.38,1007.8 576.11,1008.2 577.84,1008.52 579.57,1008.77 581.3,1008.95 583.03,1009.06 584.76,1009.09 586.49,1009.04 588.21,1008.91 589.94,1008.7 591.67,1008.42 593.4,1008.05 595.13,1007.59 596.86,1007.06 598.59,1006.43 600.32,1005.72 602.05,1004.92 603.78,1004.03 605.5,1003.05 607.23,1001.98 608.96,1000.81 610.69,999.55 612.42,998.2" fill="none" stroke="#00ffff" stroke-width="2.6" stroke-linejoin="round"/>
<circle cx="128.3" cy="1006.6" r="3.7" fill="#00ffff"/>
<circle cx="162.88" cy="1036.13" r="3.7" fill="#00ffff"/>
<circle cx="197.46" cy="995.56" r="3.7" fill="#00ffff"/>
<circle cx="232.04" cy="1018.61" r="3.7" fill="#00ffff"/>
<circle cx="266.62" cy="1001.08" r="3.7" fill="#00ffff"/>
<circle cx="301.2" cy="1007.08" r="3.7" fill="#00ffff"/>
<circle cx="335.78" cy="993.63" r="3.7" fill="#00ffff"/>
<circle cx="370.36" cy="974.91" r="3.7" fill="#00ffff"/>
<circle cx="404.94" cy="1001.08" r="3.7" fill="#00ffff"/>
<circle cx="439.52" cy="944.65" r="3.7" fill="#00ffff"/>
<circle cx="474.1" cy="981.63" r="3.7" fill="#00ffff"/>
<circle cx="508.68" cy="969.62" r="3.7" fill="#00ffff"/>
<circle cx="543.26" cy="990.03" r="3.7" fill="#00ffff"/>
<circle cx="577.84" cy="1008.52" r="3.7" fill="#00ffff"/>
<circle cx="612.42" cy="998.2" r="3.7" fill="#00ffff"/>
<polyline points="128.3,1006.6 130.03,1011.65 131.76,1016.22 133.49,1020.33 135.22,1023.99 136.95,1027.23 138.67,1030.06 140.4,1032.49 142.13,1034.55 143.86,1036.26 145.59,1037.63 147.32,1038.67 149.05,1039.42 150.78,1039.88 152.51,1040.07 154.24,1040.02 155.96,1039.73 157.69,1039.22 159.42,1038.53 161.15,1037.65 162.88,1036.61 164.61,1035.43 166.34,1034.13 168.07,1032.71 169.8,1031.21 171.53,1029.64 173.25,1028.01 174.98,1026.35 176.71,1024.66 178.44,1022.98 180.17,1021.31 181.9,1019.68 183.63,1018.1 185.36,1016.59 187.09,1015.17 188.81,1013.85 190.54,1012.66 192.27,1011.61 194,1010.72 195.73,1010 197.46,1009.48 199.19,1009.17 200.92,1009.05 202.65,1009.1 204.38,1009.32 206.11,1009.67 207.83,1010.15 209.56,1010.74 211.29,1011.41 213.02,1012.15 214.75,1012.95 216.48,1013.77 218.21,1014.62 219.94,1015.46 221.67,1016.28 223.4,1017.06 225.12,1017.79 226.85,1018.45 228.58,1019.02 230.31,1019.47 232.04,1019.81 233.77,1020 235.5,1020.06 237.23,1020.01 238.96,1019.86 240.69,1019.63 242.41,1019.33 244.14,1018.98 245.87,1018.59 247.6,1018.18 249.33,1017.77 251.06,1017.36 252.79,1016.98 254.52,1016.64 256.25,1016.36 257.98,1016.15 259.7,1016.02 261.43,1015.99 263.16,1016.09 264.89,1016.31 266.62,1016.68 268.35,1017.22 270.08,1017.9 271.81,1018.71 273.54,1019.64 275.26,1020.68 276.99,1021.81 278.72,1023.02 280.45,1024.29 282.18,1025.6 283.91,1026.95 285.64,1028.31 287.37,1029.68 289.1,1031.04 290.83,1032.37 292.56,1033.66 294.28,1034.9 296.01,1036.07 297.74,1037.15 299.47,1038.14 301.2,1039.01 302.93,1039.76 304.66,1040.4 306.39,1040.92 308.12,1041.34 309.85,1041.67 311.57,1041.92 313.3,1042.09 315.03,1042.2 316.76,1042.25 318.49,1042.25 320.22,1042.22 321.95,1042.16 323.68,1042.07 325.41,1041.98 327.13,1041.88 328.86,1041.79 330.59,1041.71 332.32,1041.65 334.05,1041.63 335.78,1041.65 337.51,1041.72 339.24,1041.83 340.97,1041.98 342.7,1042.15 344.43,1042.34 346.15,1042.53 347.88,1042.73 349.61,1042.92 351.34,1043.1 353.07,1043.25 354.8,1043.37 356.53,1043.45 358.26,1043.48 359.99,1043.46 361.72,1043.37 363.44,1043.2 365.17,1042.96 366.9,1042.62 368.63,1042.19 370.36,1041.65 372.09,1041.01 373.82,1040.25 375.55,1039.41 377.28,1038.48 379,1037.49 380.73,1036.44 382.46,1035.34 384.19,1034.21 385.92,1033.05 387.65,1031.88 389.38,1030.71 391.11,1029.55 392.84,1028.41 394.57,1027.3 396.3,1026.23 398.02,1025.23 399.75,1024.28 401.48,1023.42 403.21,1022.64 404.94,1021.97 406.67,1021.4 408.4,1020.94 410.13,1020.58 411.86,1020.31 413.59,1020.14 415.31,1020.05 417.04,1020.04 418.77,1020.1 420.5,1020.23 422.23,1020.42 423.96,1020.67 425.69,1020.98 427.42,1021.32 429.15,1021.71 430.88,1022.14 432.6,1022.59 434.33,1023.07 436.06,1023.57 437.79,1024.09 439.52,1024.61 441.25,1025.13 442.98,1025.66 444.71,1026.18 446.44,1026.69 448.17,1027.19 449.89,1027.68 451.62,1028.15 453.35,1028.6 455.08,1029.02 456.81,1029.42 458.54,1029.79 460.27,1030.12 462,1030.41 463.73,1030.66 465.46,1030.86 467.18,1031.02 468.91,1031.12 470.64,1031.17 472.37,1031.16 474.1,1031.09 475.83,1030.95 477.56,1030.76 479.29,1030.52 481.02,1030.23 482.75,1029.92 484.47,1029.58 486.2,1029.22 487.93,1028.86 489.66,1028.5 491.39,1028.15 493.12,1027.81 494.85,1027.5 496.58,1027.23 498.31,1027 500.04,1026.83 501.76,1026.71 503.49,1026.66 505.22,1026.69 506.95,1026.8 508.68,1027.01 510.41,1027.31 512.14,1027.71 513.87,1028.2 515.6,1028.75 517.33,1029.38 519.05,1030.06 520.78,1030.79 522.51,1031.55 524.24,1032.35 525.97,1033.16 527.7,1033.99 529.43,1034.82 531.16,1035.65 532.89,1036.45 534.62,1037.23 536.34,1037.98 538.07,1038.69 539.8,1039.34 541.53,1039.93 543.26,1040.45 544.99,1040.9 546.72,1041.26 548.45,1041.55 550.18,1041.77 551.9,1041.91 553.63,1041.99 555.36,1041.99 557.09,1041.93 558.82,1041.8 560.55,1041.61 562.28,1041.36 564.01,1041.05 565.74,1040.68 567.47,1040.25 569.2,1039.77 570.92,1039.24 572.65,1038.65 574.38,1038.02 576.11,1037.34 577.84,1036.61 579.57,1035.84 581.3,1035.03 583.03,1034.18 584.76,1033.29 586.49,1032.36 588.21,1031.39 589.94,1030.4 591.67,1029.37 593.4,1028.31 595.13,1027.23 596.86,1026.12 598.59,1024.98 600.32,1023.83 602.05,1022.65 603.78,1021.45 605.5,1020.24 607.23,1019.01 608.96,1017.76 610.69,1016.51 612.42,1015.24" fill="none" stroke="#80ff80" stroke-width="2.6" stroke-linejoin="round"/>
<circle cx="128.3" cy="1006.6" r="3.7" fill="#80ff80"/>
<circle cx="162.88" cy="1036.61" r="3.7" fill="#80ff80"/>
<circle cx="197.46" cy="1009.48" r="3.7" fill="#80ff80"/>
<circle cx="232.04" cy="1019.81" r="3.7" fill="#80ff80"/>
<circle cx="266.62" cy="1016.68" r="3.7" fill="#80ff80"/>
<circle cx="301.2" cy="1039.01" r="3.7" fill="#80ff80"/>
<circle cx="335.78" cy="1041.65" r="3.7" fill="#80ff80"/>
<circle cx="370.36" cy="1041.65" r="3.7" fill="#80ff80"/>
<circle cx="404.94" cy="1021.97" r="3.7" fill="#80ff80"/>
<circle cx="439.52" cy="1024.61" r="3.7" fill="#80ff80"/>
<circle cx="474.1" cy="1031.09" r="3.7" fill="#80ff80"/>
<circle cx="508.68" cy="1027.01" r="3.7" fill="#80ff80"/>
<circle cx="543.26" cy="1040.45" r="3.7" fill="#80ff80"/>
<circle cx="577.84" cy="1036.61" r="3.7" fill="#80ff80"/>
<circle cx="612.42" cy="1015.24" r="3.7" fill="#80ff80"/>
<polyline points="128.3,1006.6 130.03,1005.58 131.76,1004.62 133.49,1003.73 135.22,1002.89 136.95,1002.11 138.67,1001.38 140.4,1000.7 142.13,1000.07 143.86,999.49 145.59,998.95 147.32,998.46 149.05,998 150.78,997.59 152.51,997.21 154.24,996.86 155.96,996.54 157.69,996.26 159.42,996 161.15,995.77 162.88,995.56 164.61,995.36 166.34,995.19 168.07,995.04 169.8,994.89 171.53,994.76 173.25,994.64 174.98,994.52 176.71,994.41 178.44,994.31 180.17,994.2 181.9,994.09 183.63,993.98 185.36,993.86 187.09,993.73 188.81,993.6 190.54,993.45 192.27,993.28 194,993.1 195.73,992.9 197.46,992.67 199.19,992.43 200.92,992.16 202.65,991.89 204.38,991.61 206.11,991.32 207.83,991.05 209.56,990.78 211.29,990.53 213.02,990.3 214.75,990.11 216.48,989.94 218.21,989.82 219.94,989.74 221.67,989.72 223.4,989.75 225.12,989.85 226.85,990.02 228.58,990.26 230.31,990.58 232.04,990.99 233.77,991.49 235.5,992.08 237.23,992.73 238.96,993.45 240.69,994.22 242.41,995.02 244.14,995.86 245.87,996.72 247.6,997.59 249.33,998.45 251.06,999.3 252.79,1000.13 254.52,1000.93 256.25,1001.68 257.98,1002.38 259.7,1003.01 261.43,1003.57 263.16,1004.04 264.89,1004.41 266.62,1004.68 268.35,1004.83 270.08,1004.88 271.81,1004.83 273.54,1004.69 275.26,1004.48 276.99,1004.2 278.72,1003.87 280.45,1003.49 282.18,1003.07 283.91,1002.63 285.64,1002.18 287.37,1001.72 289.1,1001.27 290.83,1000.84 292.56,1000.43 294.28,1000.06 296.01,999.74 297.74,999.47 299.47,999.28 301.2,999.16 302.93,999.12 304.66,999.17 306.39,999.3 308.12,999.49 309.85,999.74 311.57,1000.05 313.3,1000.41 315.03,1000.8 316.76,1001.23 318.49,1001.68 320.22,1002.15 321.95,1002.64 323.68,1003.13 325.41,1003.62 327.13,1004.1 328.86,1004.56 330.59,1005 332.32,1005.41 334.05,1005.79 335.78,1006.12 337.51,1006.4 339.24,1006.64 340.97,1006.82 342.7,1006.96 344.43,1007.06 346.15,1007.11 347.88,1007.13 349.61,1007.11 351.34,1007.05 353.07,1006.95 354.8,1006.82 356.53,1006.66 358.26,1006.47 359.99,1006.25 361.72,1006 363.44,1005.73 365.17,1005.44 366.9,1005.13 368.63,1004.79 370.36,1004.44 372.09,1004.07 373.82,1003.69 375.55,1003.29 377.28,1002.89 379,1002.47 380.73,1002.05 382.46,1001.62 384.19,1001.2 385.92,1000.77 387.65,1000.34 389.38,999.91 391.11,999.49 392.84,999.07 394.57,998.67 396.3,998.27 398.02,997.89 399.75,997.52 401.48,997.17 403.21,996.83 404.94,996.52 406.67,996.22 408.4,995.95 410.13,995.69 411.86,995.44 413.59,995.21 415.31,994.98 417.04,994.76 418.77,994.54 420.5,994.31 422.23,994.09 423.96,993.86 425.69,993.61 427.42,993.36 429.15,993.09 430.88,992.8 432.6,992.49 434.33,992.16 436.06,991.8 437.79,991.41 439.52,990.99 441.25,990.54 442.98,990.05 444.71,989.55 446.44,989.02 448.17,988.48 449.89,987.93 451.62,987.38 453.35,986.84 455.08,986.3 456.81,985.78 458.54,985.28 460.27,984.8 462,984.36 463.73,983.95 465.46,983.59 467.18,983.27 468.91,983 470.64,982.8 472.37,982.66 474.1,982.59 475.83,982.59 477.56,982.67 479.29,982.83 481.02,983.05 482.75,983.34 484.47,983.7 486.2,984.13 487.93,984.62 489.66,985.18 491.39,985.8 493.12,986.48 494.85,987.21 496.58,988.01 498.31,988.86 500.04,989.77 501.76,990.73 503.49,991.74 505.22,992.81 506.95,993.92 508.68,995.08 510.41,996.28 512.14,997.51 513.87,998.77 515.6,1000.03 517.33,1001.29 519.05,1002.53 520.78,1003.73 522.51,1004.89 524.24,1006 525.97,1007.03 527.7,1007.98 529.43,1008.84 531.16,1009.59 532.89,1010.21 534.62,1010.7 536.34,1011.04 538.07,1011.23 539.8,1011.23 541.53,1011.06 543.26,1010.68 544.99,1010.1 546.72,1009.32 548.45,1008.36 550.18,1007.23 551.9,1005.96 553.63,1004.55 555.36,1003.03 557.09,1001.41 558.82,999.69 560.55,997.91 562.28,996.08 564.01,994.2 565.74,992.3 567.47,990.4 569.2,988.5 570.92,986.63 572.65,984.8 574.38,983.03 576.11,981.32 577.84,979.71 579.57,978.2 581.3,976.8 583.03,975.54 584.76,974.44 586.49,973.49 588.21,972.73 589.94,972.17 591.67,971.82 593.4,971.7 595.13,971.83 596.86,972.22 598.59,972.88 600.32,973.83 602.05,975.1 603.78,976.69 605.5,978.61 607.23,980.9 608.96,983.55 610.69,986.59 612.42,990.03" fill="none" stroke="#ffff00" stroke-width="2.6" stroke-linejoin="round"/>
<circle cx="128.3" cy="1006.6" r="3.7" fill="#ffff00"/>
<circle cx="162.88" cy="995.56" r="3.7" fill="#ffff00"/>
<circle cx="197.46" cy="992.67" r="3.7" fill="#ffff00"/>
<circle cx="232.04" cy="990.99" r="3.7" fill="#ffff00"/>
<circle cx="266.62" cy="1004.68" r="3.7" fill="#ffff00"/>
<circle cx="301.2" cy="999.16" r="3.7" fill="#ffff00"/>
<circle cx="335.78" cy="1006.12" r="3.7" fill="#ffff00"/>
<circle cx="370.36" cy="1004.44" r="3.7" fill="#ffff00"/>
<circle cx="404.94" cy="996.52" r="3.7" fill="#ffff00"/>
<circle cx="439.52" cy="990.99" r="3.7" fill="#ffff00"/>
<circle cx="474.1" cy="982.59" r="3.7" fill="#ffff00"/>
<circle cx="508.68" cy="995.08" r="3.7" fill="#ffff00"/>
<circle cx="543.26" cy="1010.68" r="3.7" fill="#ffff00"/>
<circle cx="577.84" cy="979.71" r="3.7" fill="#ffff00"/>
<circle cx="612.42" cy="990.03" r="3.7" fill="#ffff00"/>
<polyline points="128.3,1006.6 130.03,1006.74 131.76,1006.75 133.49,1006.62 135.22,1006.37 136.95,1005.99 138.67,1005.51 140.4,1004.92 142.13,1004.23 143.86,1003.45 145.59,1002.59 147.32,1001.65 149.05,1000.65 150.78,999.58 152.51,998.46 154.24,997.29 155.96,996.08 157.69,994.84 159.42,993.58 161.15,992.29 162.88,990.99 164.61,989.69 166.34,988.39 168.07,987.11 169.8,985.84 171.53,984.59 173.25,983.37 174.98,982.2 176.71,981.07 178.44,979.99 180.17,978.98 181.9,978.03 183.63,977.15 185.36,976.36 187.09,975.66 188.81,975.05 190.54,974.55 192.27,974.15 194,973.88 195.73,973.73 197.46,973.71 199.19,973.82 200.92,974.07 202.65,974.42 204.38,974.88 206.11,975.43 207.83,976.06 209.56,976.75 211.29,977.49 213.02,978.28 214.75,979.09 216.48,979.91 218.21,980.74 219.94,981.56 221.67,982.35 223.4,983.11 225.12,983.82 226.85,984.48 228.58,985.06 230.31,985.55 232.04,985.95 233.77,986.24 235.5,986.43 237.23,986.53 238.96,986.54 240.69,986.47 242.41,986.32 244.14,986.11 245.87,985.84 247.6,985.52 249.33,985.15 251.06,984.75 252.79,984.32 254.52,983.86 256.25,983.39 257.98,982.92 259.7,982.44 261.43,981.97 263.16,981.51 264.89,981.08 266.62,980.67 268.35,980.3 270.08,979.96 271.81,979.66 273.54,979.4 275.26,979.18 276.99,978.99 278.72,978.84 280.45,978.73 282.18,978.67 283.91,978.64 285.64,978.65 287.37,978.7 289.1,978.8 290.83,978.94 292.56,979.12 294.28,979.34 296.01,979.6 297.74,979.91 299.47,980.27 301.2,980.67 302.93,981.11 304.66,981.6 306.39,982.11 308.12,982.66 309.85,983.22 311.57,983.8 313.3,984.39 315.03,984.98 316.76,985.57 318.49,986.14 320.22,986.7 321.95,987.24 323.68,987.75 325.41,988.23 327.13,988.67 328.86,989.06 330.59,989.4 332.32,989.68 334.05,989.89 335.78,990.03 337.51,990.1 339.24,990.1 340.97,990.04 342.7,989.92 344.43,989.75 346.15,989.54 347.88,989.29 349.61,989.02 351.34,988.73 353.07,988.42 354.8,988.11 356.53,987.8 358.26,987.49 359.99,987.2 361.72,986.94 363.44,986.7 365.17,986.5 366.9,986.35 368.63,986.24 370.36,986.19 372.09,986.21 373.82,986.28 375.55,986.41 377.28,986.58 379,986.79 380.73,987.04 382.46,987.32 384.19,987.63 385.92,987.95 387.65,988.28 389.38,988.62 391.11,988.96 392.84,989.3 394.57,989.62 396.3,989.93 398.02,990.21 399.75,990.46 401.48,990.68 403.21,990.86 404.94,990.99 406.67,991.07 408.4,991.1 410.13,991.09 411.86,991.02 413.59,990.91 415.31,990.76 417.04,990.58 418.77,990.35 420.5,990.09 422.23,989.79 423.96,989.46 425.69,989.11 427.42,988.72 429.15,988.32 430.88,987.89 432.6,987.44 434.33,986.97 436.06,986.48 437.79,985.98 439.52,985.47 441.25,984.95 442.98,984.42 444.71,983.89 446.44,983.35 448.17,982.82 449.89,982.29 451.62,981.76 453.35,981.24 455.08,980.73 456.81,980.24 458.54,979.76 460.27,979.3 462,978.86 463.73,978.45 465.46,978.06 467.18,977.69 468.91,977.36 470.64,977.07 472.37,976.81 474.1,976.59 475.83,976.41 477.56,976.27 479.29,976.17 481.02,976.11 482.75,976.1 484.47,976.12 486.2,976.18 487.93,976.28 489.66,976.42 491.39,976.6 493.12,976.81 494.85,977.07 496.58,977.36 498.31,977.69 500.04,978.06 501.76,978.46 503.49,978.9 505.22,979.37 506.95,979.88 508.68,980.43 510.41,981.01 512.14,981.62 513.87,982.25 515.6,982.91 517.33,983.58 519.05,984.26 520.78,984.95 522.51,985.64 524.24,986.32 525.97,987 527.7,987.66 529.43,988.3 531.16,988.92 532.89,989.51 534.62,990.07 536.34,990.59 538.07,991.07 539.8,991.5 541.53,991.88 543.26,992.19 544.99,992.45 546.72,992.65 548.45,992.78 550.18,992.86 551.9,992.88 553.63,992.85 555.36,992.75 557.09,992.61 558.82,992.41 560.55,992.16 562.28,991.87 564.01,991.52 565.74,991.13 567.47,990.69 569.2,990.2 570.92,989.67 572.65,989.1 574.38,988.49 576.11,987.84 577.84,987.15 579.57,986.43 581.3,985.66 583.03,984.86 584.76,984.03 586.49,983.17 588.21,982.28 589.94,981.35 591.67,980.4 593.4,979.42 595.13,978.42 596.86,977.39 598.59,976.33 600.32,975.26 602.05,974.16 603.78,973.05 605.5,971.92 607.23,970.76 608.96,969.6 610.69,968.42 612.42,967.22" fill="none" stroke="#ff8000" stroke-width="2.6" stroke-linejoin="round"/>
<circle cx="128.3" cy="1006.6" r="3.7" fill="#ff8000"/>
<circle cx="162.88" cy="990.99" r="3.7" fill="#ff8000"/>
<circle cx="197.46" cy="973.71" r="3.7" fill="#ff8000"/>
<circle cx="232.04" cy="985.95" r="3.7" fill="#ff8000"/>
<circle cx="266.62" cy="980.67" r="3.7" fill="#ff8000"/>
<circle cx="301.2" cy="980.67" r="3.7" fill="#ff8000"/>
<circle cx="335.78" cy="990.03" r="3.7" fill="#ff8000"/>
<circle cx="370.36" cy="986.19" r="3.7" fill="#ff8000"/>
<circle cx="404.94" cy="990.99" r="3.7" fill="#ff8000"/>
<circle cx="439.52" cy="985.47" r="3.7" fill="#ff8000"/>
<circle cx="474.1" cy="976.59" r="3.7" fill="#ff8000"/>
<circle cx="508.68" cy="980.43" r="3.7" fill="#ff8000"/>
<circle cx="543.26" cy="992.19" r="3.7" fill="#ff8000"/>
<circle cx="577.84" cy="987.15" r="3.7" fill="#ff8000"/>
<circle cx="612.42" cy="967.22" r="3.7" fill="#ff8000"/>
<polyline points="128.3,1006.6 130.03,1004.96 131.76,1003.3 133.49,1001.61 135.22,999.9 136.95,998.17 138.67,996.43 140.4,994.68 142.13,992.92 143.86,991.17 145.59,989.41 147.32,987.66 149.05,985.92 150.78,984.19 152.51,982.48 154.24,980.78 155.96,979.11 157.69,977.47 159.42,975.86 161.15,974.28 162.88,972.75 164.61,971.25 166.34,969.8 168.07,968.4 169.8,967.05 171.53,965.76 173.25,964.53 174.98,963.36 176.71,962.26 178.44,961.24 180.17,960.28 181.9,959.41 183.63,958.62 185.36,957.91 187.09,957.3 188.81,956.78 190.54,956.35 192.27,956.03 194,955.81 195.73,955.7 197.46,955.7 199.19,955.81 200.92,956.03 202.65,956.35 204.38,956.75 206.11,957.22 207.83,957.76 209.56,958.35 211.29,958.98 213.02,959.65 214.75,960.34 216.48,961.05 218.21,961.75 219.94,962.45 221.67,963.13 223.4,963.79 225.12,964.4 226.85,964.96 228.58,965.47 230.31,965.91 232.04,966.26 233.77,966.53 235.5,966.72 237.23,966.83 238.96,966.88 240.69,966.86 242.41,966.79 244.14,966.68 245.87,966.53 247.6,966.35 249.33,966.15 251.06,965.94 252.79,965.71 254.52,965.49 256.25,965.28 257.98,965.08 259.7,964.9 261.43,964.76 263.16,964.65 264.89,964.59 266.62,964.58 268.35,964.63 270.08,964.74 271.81,964.9 273.54,965.1 275.26,965.34 276.99,965.61 278.72,965.92 280.45,966.25 282.18,966.59 283.91,966.95 285.64,967.32 287.37,967.69 289.1,968.06 290.83,968.42 292.56,968.76 294.28,969.09 296.01,969.39 297.74,969.67 299.47,969.91 301.2,970.1 302.93,970.26 304.66,970.37 306.39,970.44 308.12,970.47 309.85,970.47 311.57,970.43 313.3,970.35 315.03,970.25 316.76,970.11 318.49,969.95 320.22,969.76 321.95,969.54 323.68,969.31 325.41,969.06 327.13,968.78 328.86,968.49 330.59,968.19 332.32,967.88 334.05,967.56 335.78,967.22 337.51,966.89 339.24,966.55 340.97,966.21 342.7,965.88 344.43,965.55 346.15,965.25 347.88,964.95 349.61,964.69 351.34,964.44 353.07,964.23 354.8,964.05 356.53,963.9 358.26,963.8 359.99,963.75 361.72,963.74 363.44,963.79 365.17,963.89 366.9,964.05 368.63,964.28 370.36,964.58 372.09,964.95 373.82,965.39 375.55,965.88 377.28,966.42 379,967 380.73,967.61 382.46,968.25 384.19,968.9 385.92,969.55 387.65,970.21 389.38,970.86 391.11,971.49 392.84,972.09 394.57,972.66 396.3,973.19 398.02,973.67 399.75,974.09 401.48,974.44 403.21,974.71 404.94,974.91 406.67,975.01 408.4,975.02 410.13,974.96 411.86,974.81 413.59,974.58 415.31,974.28 417.04,973.91 418.77,973.48 420.5,972.99 422.23,972.43 423.96,971.83 425.69,971.17 427.42,970.47 429.15,969.73 430.88,968.94 432.6,968.12 434.33,967.28 436.06,966.4 437.79,965.5 439.52,964.58 441.25,963.65 442.98,962.71 444.71,961.77 446.44,960.83 448.17,959.92 449.89,959.02 451.62,958.16 453.35,957.34 455.08,956.57 456.81,955.85 458.54,955.2 460.27,954.62 462,954.12 463.73,953.71 465.46,953.39 467.18,953.18 468.91,953.08 470.64,953.1 472.37,953.25 474.1,953.54 475.83,953.96 477.56,954.52 479.29,955.2 481.02,955.99 482.75,956.88 484.47,957.85 486.2,958.9 487.93,960.02 489.66,961.18 491.39,962.39 493.12,963.63 494.85,964.88 496.58,966.14 498.31,967.4 500.04,968.64 501.76,969.85 503.49,971.02 505.22,972.14 506.95,973.2 508.68,974.19 510.41,975.09 512.14,975.91 513.87,976.64 515.6,977.29 517.33,977.86 519.05,978.35 520.78,978.76 522.51,979.09 524.24,979.33 525.97,979.5 527.7,979.6 529.43,979.61 531.16,979.55 532.89,979.42 534.62,979.21 536.34,978.92 538.07,978.57 539.8,978.14 541.53,977.64 543.26,977.07 544.99,976.43 546.72,975.72 548.45,974.96 550.18,974.14 551.9,973.27 553.63,972.36 555.36,971.42 557.09,970.44 558.82,969.43 560.55,968.4 562.28,967.36 564.01,966.3 565.74,965.24 567.47,964.18 569.2,963.12 570.92,962.07 572.65,961.04 574.38,960.03 576.11,959.05 577.84,958.1 579.57,957.19 581.3,956.31 583.03,955.49 584.76,954.72 586.49,954.01 588.21,953.36 589.94,952.78 591.67,952.28 593.4,951.86 595.13,951.52 596.86,951.27 598.59,951.12 600.32,951.07 602.05,951.13 603.78,951.3 605.5,951.59 607.23,952 608.96,952.53 610.69,953.21 612.42,954.02" fill="none" stroke="#ff0000" stroke-width="2.6" stroke-linejoin="round"/>
<circle cx="128.3" cy="1006.6" r="3.7" fill="#ff0000"/>
<circle cx="162.88" cy="972.75" r="3.7" fill="#ff0000"/>
<circle cx="197.46" cy="955.7" r="3.7" fill="#ff0000"/>
<circle cx="232.04" cy="966.26" r="3.7" fill="#ff0000"/>
<circle cx="266.62" cy="964.58" r="3.7" fill="#ff0000"/>
<circle cx="301.2" cy="970.1" r="3.7" fill="#ff0000"/>
<circle cx="335.78" cy="967.22" r="3.7" fill="#ff0000"/>
<circle cx="370.36" cy="964.58" r="3.7" fill="#ff0000"/>
<circle cx="404.94" cy="974.91" r="3.7" fill="#ff0000"/>
<circle cx="439.52" cy="964.58" r="3.7" fill="#ff0000"/>
<circle cx="474.1" cy="953.54" r="3.7" fill="#ff0000"/>
<circle cx="508.68" cy="974.19" r="3.7" fill="#ff0000"/>
<circle cx="543.26" cy="977.07" r="3.7" fill="#ff0000"/>
<circle cx="577.84" cy="958.1" r="3.7" fill="#ff0000"/>
<circle cx="612.42" cy="954.02" r="3.7" fill="#ff0000"/>
<polyline points="128.3,1006.6 130.03,1003.71 131.76,1000.74 133.49,997.7 135.22,994.61 136.95,991.46 138.67,988.27 140.4,985.04 142.13,981.78 143.86,978.51 145.59,975.22 147.32,971.92 149.05,968.64 150.78,965.36 152.51,962.11 154.24,958.88 155.96,955.69 157.69,952.54 159.42,949.45 161.15,946.42 162.88,943.45 164.61,940.57 166.34,937.77 168.07,935.06 169.8,932.45 171.53,929.95 173.25,927.57 174.98,925.31 176.71,923.19 178.44,921.21 180.17,919.37 181.9,917.7 183.63,916.19 185.36,914.85 187.09,913.7 188.81,912.73 190.54,911.97 192.27,911.41 194,911.06 195.73,910.94 197.46,911.04 199.19,911.38 200.92,911.93 202.65,912.68 204.38,913.6 206.11,914.68 207.83,915.88 209.56,917.19 211.29,918.58 213.02,920.04 214.75,921.54 216.48,923.07 218.21,924.59 219.94,926.08 221.67,927.54 223.4,928.92 225.12,930.22 226.85,931.41 228.58,932.46 230.31,933.36 232.04,934.09 233.77,934.62 235.5,934.98 237.23,935.16 238.96,935.2 240.69,935.1 242.41,934.87 244.14,934.55 245.87,934.13 247.6,933.63 249.33,933.08 251.06,932.48 252.79,931.85 254.52,931.21 256.25,930.57 257.98,929.95 259.7,929.36 261.43,928.81 263.16,928.33 264.89,927.92 266.62,927.61 268.35,927.4 270.08,927.29 271.81,927.28 273.54,927.36 275.26,927.52 276.99,927.75 278.72,928.06 280.45,928.43 282.18,928.86 283.91,929.33 285.64,929.86 287.37,930.42 289.1,931.01 290.83,931.63 292.56,932.27 294.28,932.92 296.01,933.58 297.74,934.24 299.47,934.89 301.2,935.53 302.93,936.15 304.66,936.75 306.39,937.32 308.12,937.87 309.85,938.37 311.57,938.84 313.3,939.27 315.03,939.65 316.76,939.98 318.49,940.25 320.22,940.47 321.95,940.62 323.68,940.71 325.41,940.73 327.13,940.67 328.86,940.54 330.59,940.32 332.32,940.02 334.05,939.62 335.78,939.13 337.51,938.55 339.24,937.88 340.97,937.14 342.7,936.35 344.43,935.51 346.15,934.65 347.88,933.77 349.61,932.9 351.34,932.04 353.07,931.2 354.8,930.42 356.53,929.69 358.26,929.03 359.99,928.45 361.72,927.98 363.44,927.62 365.17,927.39 366.9,927.3 368.63,927.37 370.36,927.61 372.09,928.03 373.82,928.61 375.55,929.35 377.28,930.23 379,931.23 380.73,932.34 382.46,933.54 384.19,934.81 385.92,936.14 387.65,937.52 389.38,938.92 391.11,940.33 392.84,941.74 394.57,943.13 396.3,944.49 398.02,945.79 399.75,947.03 401.48,948.18 403.21,949.24 404.94,950.18 406.67,950.99 408.4,951.68 410.13,952.24 411.86,952.67 413.59,952.98 415.31,953.17 417.04,953.23 418.77,953.18 420.5,953 422.23,952.71 423.96,952.31 425.69,951.79 427.42,951.16 429.15,950.41 430.88,949.56 432.6,948.6 434.33,947.53 436.06,946.35 437.79,945.08 439.52,943.69 441.25,942.21 442.98,940.65 444.71,939.02 446.44,937.33 448.17,935.61 449.89,933.88 451.62,932.14 453.35,930.42 455.08,928.73 456.81,927.09 458.54,925.51 460.27,924.02 462,922.63 463.73,921.35 465.46,920.2 467.18,919.21 468.91,918.37 470.64,917.73 472.37,917.28 474.1,917.04 475.83,917.04 477.56,917.25 479.29,917.66 481.02,918.26 482.75,919.03 484.47,919.95 486.2,921.01 487.93,922.2 489.66,923.5 491.39,924.89 493.12,926.36 494.85,927.9 496.58,929.48 498.31,931.09 500.04,932.72 501.76,934.35 503.49,935.96 505.22,937.55 506.95,939.09 508.68,940.57 510.41,941.98 512.14,943.31 513.87,944.56 515.6,945.72 517.33,946.8 519.05,947.79 520.78,948.69 522.51,949.49 524.24,950.2 525.97,950.81 527.7,951.32 529.43,951.72 531.16,952.02 532.89,952.2 534.62,952.28 536.34,952.24 538.07,952.09 539.8,951.81 541.53,951.42 543.26,950.9 544.99,950.25 546.72,949.49 548.45,948.61 550.18,947.64 551.9,946.57 553.63,945.42 555.36,944.2 557.09,942.91 558.82,941.56 560.55,940.16 562.28,938.73 564.01,937.26 565.74,935.77 567.47,934.26 569.2,932.76 570.92,931.25 572.65,929.76 574.38,928.29 576.11,926.85 577.84,925.45 579.57,924.09 581.3,922.79 583.03,921.56 584.76,920.4 586.49,919.32 588.21,918.33 589.94,917.45 591.67,916.67 593.4,916.01 595.13,915.47 596.86,915.07 598.59,914.81 600.32,914.71 602.05,914.76 603.78,914.99 605.5,915.39 607.23,915.98 608.96,916.77 610.69,917.76 612.42,918.96" fill="none" stroke="#800000" stroke-width="2.6" stroke-linejoin="round"/>
<circle cx="128.3" cy="1006.6" r="3.7" fill="#800000"/>
<circle cx="162.88" cy="943.45" r="3.7" fill="#800000"/>
<circle cx="197.46" cy="911.04" r="3.7" fill="#800000"/>
<circle cx="232.04" cy="934.09" r="3.7" fill="#800000"/>
<circle cx="266.62" cy="927.61" r="3.7" fill="#800000"/>
<circle cx="301.2" cy="935.53" r="3.7" fill="#800000"/>
<circle cx="335.78" cy="939.13" r="3.7" fill="#800000"/>
<circle cx="370.36" cy="927.61" r="3.7" fill="#800000"/>
<circle cx="404.94" cy="950.18" r="3.7" fill="#800000"/>
<circle cx="439.52" cy="943.69" r="3.7" fill="#800000"/>
<circle cx="474.1" cy="917.04" r="3.7" fill="#800000"/>
<circle cx="508.68" cy="940.57" r="3.7" fill="#800000"/>
<circle cx="543.26" cy="950.9" r="3.7" fill="#800000"/>
<circle cx="577.84" cy="925.45" r="3.7" fill="#800000"/>
<circle cx="612.42" cy="918.96" r="3.7" fill="#800000"/>
<polyline points="863.5,1006.6 864.6,1012.14 865.7,1016.88 866.8,1020.85 867.9,1024.09 868.99,1026.63 870.09,1028.51 871.19,1029.75 872.29,1030.4 873.39,1030.5 874.49,1030.06 875.59,1029.13 876.69,1027.74 877.79,1025.93 878.88,1023.72 879.98,1021.16 881.08,1018.28 882.18,1015.1 883.28,1011.68 884.38,1008.03 885.48,1004.2 886.58,1000.21 887.68,996.11 888.77,991.93 889.87,987.69 890.97,983.44 892.07,979.21 893.17,975.03 894.27,970.94 895.37,966.97 896.47,963.15 897.57,959.53 898.66,956.12 899.76,952.98 900.86,950.13 901.96,947.6 903.06,945.43 904.16,943.66 905.26,942.32 906.36,941.44 907.46,941.05 908.55,941.19 909.65,941.81 910.75,942.9 911.85,944.4 912.95,946.28 914.05,948.5 915.15,951.03 916.25,953.83 917.34,956.86 918.44,960.08 919.54,963.45 920.64,966.94 921.74,970.52 922.84,974.13 923.94,977.75 925.04,981.33 926.14,984.85 927.23,988.26 928.33,991.52 929.43,994.6 930.53,997.46 931.63,1000.12 932.73,1002.6 933.83,1004.91 934.93,1007.06 936.03,1009.08 937.12,1010.99 938.22,1012.79 939.32,1014.52 940.42,1016.17 941.52,1017.78 942.62,1019.36 943.72,1020.93 944.82,1022.51 945.92,1024.1 947.01,1025.73 948.11,1027.42 949.21,1029.19 950.31,1031.05 951.41,1033.01 952.51,1035.1 953.61,1037.29 954.71,1039.58 955.81,1041.96 956.9,1044.39 958,1046.88 959.1,1049.39 960.2,1051.93 961.3,1054.47 962.4,1057 963.5,1059.49 964.6,1061.95 965.7,1064.34 966.79,1066.66 967.89,1068.89 968.99,1071.02 970.09,1073.02 971.19,1074.89 972.29,1076.6 973.39,1078.15 974.49,1079.52 975.59,1080.7 976.68,1081.69 977.78,1082.5 978.88,1083.11 979.98,1083.52 981.08,1083.74 982.18,1083.75 983.28,1083.57 984.38,1083.17 985.48,1082.57 986.57,1081.76 987.67,1080.73 988.77,1079.49 989.87,1078.03 990.97,1076.34 992.07,1074.44 993.17,1072.3 994.27,1069.94 995.37,1067.35 996.46,1064.52 997.56,1061.49 998.66,1058.29 999.76,1054.95 1000.86,1051.5 1001.96,1047.96 1003.06,1044.38 1004.16,1040.77 1005.25,1037.17 1006.35,1033.62 1007.45,1030.14 1008.55,1026.76 1009.65,1023.51 1010.75,1020.43 1011.85,1017.54 1012.95,1014.87 1014.05,1012.47 1015.14,1010.34 1016.24,1008.54 1017.34,1007.08 1018.44,1005.99 1019.54,1005.26 1020.64,1004.87 1021.74,1004.8 1022.84,1005.03 1023.94,1005.54 1025.03,1006.32 1026.13,1007.33 1027.23,1008.57 1028.33,1010.01 1029.43,1011.63 1030.53,1013.42 1031.63,1015.36 1032.73,1017.42 1033.83,1019.58 1034.92,1021.84 1036.02,1024.16 1037.12,1026.53 1038.22,1028.92 1039.32,1031.33 1040.42,1033.73 1041.52,1036.12 1042.62,1038.49 1043.72,1040.86 1044.81,1043.2 1045.91,1045.54 1047.01,1047.85 1048.11,1050.15 1049.21,1052.43 1050.31,1054.69 1051.41,1056.93 1052.51,1059.15 1053.61,1061.34 1054.7,1063.52 1055.8,1065.66 1056.9,1067.78 1058,1069.88 1059.1,1071.94 1060.2,1073.98 1061.3,1075.99 1062.4,1077.96 1063.5,1079.9 1064.59,1081.8 1065.69,1083.64 1066.79,1085.43 1067.89,1087.16 1068.99,1088.82 1070.09,1090.41 1071.19,1091.91 1072.29,1093.33 1073.39,1094.66 1074.48,1095.89 1075.58,1097.02 1076.68,1098.03 1077.78,1098.93 1078.88,1099.7 1079.98,1100.34 1081.08,1100.85 1082.18,1101.22 1083.28,1101.44 1084.37,1101.51 1085.47,1101.43 1086.57,1101.22 1087.67,1100.89 1088.77,1100.45 1089.87,1099.9 1090.97,1099.26 1092.07,1098.53 1093.16,1097.73 1094.26,1096.87 1095.36,1095.96 1096.46,1095 1097.56,1094.01 1098.66,1093 1099.76,1091.98 1100.86,1090.95 1101.96,1089.94 1103.05,1088.94 1104.15,1087.97 1105.25,1087.03 1106.35,1086.15 1107.45,1085.31 1108.55,1084.53 1109.65,1083.79 1110.75,1083.11 1111.85,1082.49 1112.94,1081.92 1114.04,1081.41 1115.14,1080.96 1116.24,1080.57 1117.34,1080.25 1118.44,1079.98 1119.54,1079.78 1120.64,1079.65 1121.74,1079.58 1122.83,1079.59 1123.93,1079.66 1125.03,1079.8 1126.13,1080.02 1127.23,1080.31 1128.33,1080.68 1129.43,1081.12 1130.53,1081.63 1131.63,1082.21 1132.72,1082.86 1133.82,1083.57 1134.92,1084.35 1136.02,1085.18 1137.12,1086.08 1138.22,1087.03 1139.32,1088.04 1140.42,1089.11 1141.52,1090.22 1142.61,1091.38 1143.71,1092.59 1144.81,1093.85 1145.91,1095.15 1147.01,1096.49 1148.11,1097.86 1149.21,1099.28 1150.31,1100.73 1151.41,1102.2 1152.5,1103.69 1153.6,1105.18 1154.7,1106.66 1155.8,1108.12 1156.9,1109.56 1158,1110.96 1159.1,1112.31 1160.2,1113.6 1161.3,1114.82 1162.39,1115.95 1163.49,1117 1164.59,1117.95 1165.69,1118.78 1166.79,1119.49 1167.89,1120.06 1168.99,1120.5 1170.09,1120.77 1171.18,1120.89 1172.28,1120.83 1173.38,1120.61 1174.48,1120.25 1175.58,1119.76 1176.68,1119.17 1177.78,1118.47 1178.88,1117.7 1179.98,1116.87 1181.07,1115.99 1182.17,1115.08 1183.27,1114.16 1184.37,1113.24 1185.47,1112.34 1186.57,1111.47 1187.67,1110.66 1188.77,1109.91 1189.87,1109.25 1190.96,1108.68 1192.06,1108.24 1193.16,1107.92 1194.26,1107.75 1195.36,1107.72 1196.46,1107.81 1197.56,1108.02 1198.66,1108.34 1199.76,1108.76 1200.85,1109.25 1201.95,1109.83 1203.05,1110.47 1204.15,1111.16 1205.25,1111.89 1206.35,1112.66 1207.45,1113.45 1208.55,1114.25 1209.65,1115.06 1210.74,1115.85 1211.84,1116.63 1212.94,1117.37 1214.04,1118.07 1215.14,1118.73 1216.24,1119.32 1217.34,1119.84 1218.44,1120.28 1219.54,1120.63 1220.63,1120.88 1221.73,1121.02 1222.83,1121.05 1223.93,1120.96 1225.03,1120.73 1226.13,1120.35 1227.23,1119.83 1228.33,1119.14 1229.43,1118.28 1230.52,1117.24 1231.62,1116.01 1232.72,1114.59 1233.82,1112.95 1234.92,1111.1 1236.02,1109.03 1237.12,1106.72 1238.22,1104.18 1239.32,1101.43 1240.41,1098.5 1241.51,1095.44 1242.61,1092.28 1243.71,1089.06 1244.81,1085.81 1245.91,1082.57 1247.01,1079.36 1248.11,1076.24 1249.21,1073.24 1250.3,1070.38 1251.4,1067.71 1252.5,1065.26 1253.6,1063.08 1254.7,1061.18 1255.8,1059.62 1256.9,1058.42 1258,1057.62 1259.1,1057.26 1260.19,1057.36 1261.29,1057.9 1262.39,1058.84 1263.49,1060.15 1264.59,1061.78 1265.69,1063.71 1266.79,1065.9 1267.89,1068.31 1268.98,1070.9 1270.08,1073.65 1271.18,1076.51 1272.28,1079.44 1273.38,1082.42 1274.48,1085.41 1275.58,1088.36 1276.68,1091.25 1277.78,1094.04 1278.87,1096.69 1279.97,1099.17 1281.07,1101.44 1282.17,1103.47 1283.27,1105.27 1284.37,1106.84 1285.47,1108.2 1286.57,1109.36 1287.67,1110.33 1288.76,1111.12 1289.86,1111.75 1290.96,1112.21 1292.06,1112.53 1293.16,1112.71 1294.26,1112.77 1295.36,1112.72 1296.46,1112.56 1297.56,1112.31 1298.65,1111.98 1299.75,1111.59 1300.85,1111.13 1301.95,1110.62 1303.05,1110.08 1304.15,1109.51 1305.25,1108.92 1306.35,1108.29 1307.45,1107.62 1308.54,1106.92 1309.64,1106.17 1310.74,1105.38 1311.84,1104.54 1312.94,1103.64 1314.04,1102.69 1315.14,1101.69 1316.24,1100.62 1317.34,1099.48 1318.43,1098.28 1319.53,1097.01 1320.63,1095.66 1321.73,1094.23 1322.83,1092.72 1323.93,1091.12 1325.03,1089.43 1326.13,1087.66 1327.23,1085.79 1328.32,1083.82 1329.42,1081.74 1330.52,1079.57 1331.62,1077.28 1332.72,1074.89 1333.82,1072.37 1334.92,1069.74 1336.02,1066.99 1337.12,1064.11 1338.21,1061.11 1339.31,1057.97 1340.41,1054.7 1341.51,1051.29 1342.61,1047.74 1343.71,1044.04 1344.81,1040.2 1345.91,1036.2 1347.01,1032.05" fill="none" stroke="#0000ff" stroke-width="2.6" stroke-linejoin="round"/>
<circle cx="863.5" cy="1006.6" r="3.7" fill="#0000ff"/>
<circle cx="885.48" cy="1004.2" r="3.7" fill="#0000ff"/>
<circle cx="907.46" cy="941.05" r="3.7" fill="#0000ff"/>
<circle cx="929.43" cy="994.6" r="3.7" fill="#0000ff"/>
<circle cx="951.41" cy="1033.01" r="3.7" fill="#0000ff"/>
<circle cx="973.39" cy="1078.15" r="3.7" fill="#0000ff"/>
<circle cx="995.37" cy="1067.35" r="3.7" fill="#0000ff"/>
<circle cx="1017.34" cy="1007.08" r="3.7" fill="#0000ff"/>
<circle cx="1039.32" cy="1031.33" r="3.7" fill="#0000ff"/>
<circle cx="1061.3" cy="1075.99" r="3.7" fill="#0000ff"/>
<circle cx="1083.28" cy="1101.44" r="3.7" fill="#0000ff"/>
<circle cx="1105.25" cy="1087.03" r="3.7" fill="#0000ff"/>
<circle cx="1127.23" cy="1080.31" r="3.7" fill="#0000ff"/>
<circle cx="1149.21" cy="1099.28" r="3.7" fill="#0000ff"/>
<circle cx="1171.18" cy="1120.89" r="3.7" fill="#0000ff"/>
<circle cx="1193.16" cy="1107.92" r="3.7" fill="#0000ff"/>
<circle cx="1215.14" cy="1118.73" r="3.7" fill="#0000ff"/>
<circle cx="1237.12" cy="1106.72" r="3.7" fill="#0000ff"/>
<circle cx="1259.1" cy="1057.26" r="3.7" fill="#0000ff"/>
<circle cx="1281.07" cy="1101.44" r="3.7" fill="#0000ff"/>
<circle cx="1303.05" cy="1110.08" r="3.7" fill="#0000ff"/>
<circle cx="1325.03" cy="1089.43" r="3.7" fill="#0000ff"/>
<circle cx="1347.01" cy="1032.05" r="3.7" fill="#0000ff"/>
<polyline points="863.5,1006.6 864.6,1016.57 865.7,1024.97 866.8,1031.87 867.9,1037.35 868.99,1041.46 870.09,1044.28 871.19,1045.88 872.29,1046.33 873.39,1045.69 874.49,1044.04 875.59,1041.44 876.69,1037.95 877.79,1033.66 878.88,1028.63 879.98,1022.92 881.08,1016.6 882.18,1009.75 883.28,1002.44 884.38,994.72 885.48,986.67 886.58,978.36 887.68,969.86 888.77,961.24 889.87,952.55 890.97,943.88 892.07,935.3 893.17,926.86 894.27,918.64 895.37,910.71 896.47,903.13 897.57,895.98 898.66,889.33 899.76,883.23 900.86,877.76 901.96,873 903.06,869 904.16,865.84 905.26,863.58 906.36,862.3 907.46,862.06 908.55,862.9 909.65,864.77 910.75,867.57 911.85,871.2 912.95,875.59 914.05,880.65 915.15,886.27 916.25,892.38 917.34,898.88 918.44,905.68 919.54,912.69 920.64,919.83 921.74,927 922.84,934.12 923.94,941.08 925.04,947.82 926.14,954.22 927.23,960.21 928.33,965.7 929.43,970.59 930.53,974.81 931.63,978.4 932.73,981.39 933.83,983.84 934.93,985.78 936.03,987.26 937.12,988.34 938.22,989.05 939.32,989.44 940.42,989.56 941.52,989.44 942.62,989.15 943.72,988.72 944.82,988.2 945.92,987.63 947.01,987.06 948.11,986.54 949.21,986.11 950.31,985.82 951.41,985.71 952.51,985.82 953.61,986.14 954.71,986.65 955.81,987.33 956.9,988.17 958,989.13 959.1,990.21 960.2,991.39 961.3,992.64 962.4,993.94 963.5,995.29 964.6,996.65 965.7,998.01 966.79,999.35 967.89,1000.65 968.99,1001.89 970.09,1003.05 971.19,1004.12 972.29,1005.07 973.39,1005.88 974.49,1006.54 975.59,1007.06 976.68,1007.43 977.78,1007.68 978.88,1007.79 979.98,1007.79 981.08,1007.68 982.18,1007.47 983.28,1007.16 984.38,1006.77 985.48,1006.29 986.57,1005.74 987.67,1005.13 988.77,1004.46 989.87,1003.74 990.97,1002.97 992.07,1002.17 993.17,1001.35 994.27,1000.5 995.37,999.64 996.46,998.77 997.56,997.9 998.66,997.03 999.76,996.17 1000.86,995.31 1001.96,994.47 1003.06,993.63 1004.16,992.82 1005.25,992.02 1006.35,991.25 1007.45,990.5 1008.55,989.78 1009.65,989.09 1010.75,988.44 1011.85,987.83 1012.95,987.26 1014.05,986.74 1015.14,986.27 1016.24,985.84 1017.34,985.47 1018.44,985.16 1019.54,984.9 1020.64,984.7 1021.74,984.56 1022.84,984.46 1023.94,984.42 1025.03,984.43 1026.13,984.49 1027.23,984.59 1028.33,984.75 1029.43,984.94 1030.53,985.19 1031.63,985.47 1032.73,985.8 1033.83,986.17 1034.92,986.58 1036.02,987.03 1037.12,987.52 1038.22,988.04 1039.32,988.59 1040.42,989.18 1041.52,989.8 1042.62,990.43 1043.72,991.09 1044.81,991.75 1045.91,992.41 1047.01,993.07 1048.11,993.72 1049.21,994.35 1050.31,994.96 1051.41,995.54 1052.51,996.09 1053.61,996.59 1054.7,997.05 1055.8,997.45 1056.9,997.79 1058,998.07 1059.1,998.27 1060.2,998.4 1061.3,998.44 1062.4,998.39 1063.5,998.25 1064.59,998.05 1065.69,997.77 1066.79,997.45 1067.89,997.07 1068.99,996.65 1070.09,996.21 1071.19,995.74 1072.29,995.26 1073.39,994.78 1074.48,994.3 1075.58,993.84 1076.68,993.4 1077.78,992.99 1078.88,992.62 1079.98,992.3 1081.08,992.03 1082.18,991.84 1083.28,991.71 1084.37,991.67 1085.47,991.71 1086.57,991.82 1087.67,992 1088.77,992.23 1089.87,992.51 1090.97,992.84 1092.07,993.22 1093.16,993.62 1094.26,994.05 1095.36,994.5 1096.46,994.97 1097.56,995.44 1098.66,995.91 1099.76,996.38 1100.86,996.84 1101.96,997.28 1103.05,997.7 1104.15,998.09 1105.25,998.44 1106.35,998.75 1107.45,999.02 1108.55,999.25 1109.65,999.46 1110.75,999.65 1111.85,999.81 1112.94,999.97 1114.04,1000.11 1115.14,1000.26 1116.24,1000.4 1117.34,1000.55 1118.44,1000.71 1119.54,1000.89 1120.64,1001.08 1121.74,1001.31 1122.83,1001.57 1123.93,1001.86 1125.03,1002.19 1126.13,1002.57 1127.23,1003 1128.33,1003.48 1129.43,1004.02 1130.53,1004.6 1131.63,1005.22 1132.72,1005.88 1133.82,1006.57 1134.92,1007.29 1136.02,1008.03 1137.12,1008.79 1138.22,1009.56 1139.32,1010.34 1140.42,1011.12 1141.52,1011.9 1142.61,1012.68 1143.71,1013.44 1144.81,1014.19 1145.91,1014.92 1147.01,1015.62 1148.11,1016.29 1149.21,1016.92 1150.31,1017.52 1151.41,1018.08 1152.5,1018.61 1153.6,1019.11 1154.7,1019.59 1155.8,1020.04 1156.9,1020.48 1158,1020.9 1159.1,1021.32 1160.2,1021.72 1161.3,1022.13 1162.39,1022.54 1163.49,1022.95 1164.59,1023.37 1165.69,1023.8 1166.79,1024.25 1167.89,1024.72 1168.99,1025.21 1170.09,1025.74 1171.18,1026.29 1172.28,1026.87 1173.38,1027.48 1174.48,1028.11 1175.58,1028.73 1176.68,1029.35 1177.78,1029.94 1178.88,1030.51 1179.98,1031.03 1181.07,1031.51 1182.17,1031.92 1183.27,1032.25 1184.37,1032.5 1185.47,1032.66 1186.57,1032.7 1187.67,1032.63 1188.77,1032.43 1189.87,1032.09 1190.96,1031.6 1192.06,1030.95 1193.16,1030.13 1194.26,1029.13 1195.36,1027.96 1196.46,1026.65 1197.56,1025.2 1198.66,1023.64 1199.76,1022 1200.85,1020.27 1201.95,1018.49 1203.05,1016.67 1204.15,1014.82 1205.25,1012.98 1206.35,1011.14 1207.45,1009.34 1208.55,1007.59 1209.65,1005.91 1210.74,1004.32 1211.84,1002.82 1212.94,1001.46 1214.04,1000.23 1215.14,999.16 1216.24,998.26 1217.34,997.52 1218.44,996.94 1219.54,996.49 1220.63,996.16 1221.73,995.95 1222.83,995.83 1223.93,995.8 1225.03,995.84 1226.13,995.93 1227.23,996.08 1228.33,996.25 1229.43,996.44 1230.52,996.64 1231.62,996.84 1232.72,997.01 1233.82,997.15 1234.92,997.24 1236.02,997.28 1237.12,997.24 1238.22,997.11 1239.32,996.92 1240.41,996.65 1241.51,996.32 1242.61,995.93 1243.71,995.51 1244.81,995.04 1245.91,994.55 1247.01,994.03 1248.11,993.5 1249.21,992.97 1250.3,992.44 1251.4,991.93 1252.5,991.43 1253.6,990.96 1254.7,990.53 1255.8,990.14 1256.9,989.8 1258,989.52 1259.1,989.31 1260.19,989.18 1261.29,989.12 1262.39,989.12 1263.49,989.19 1264.59,989.31 1265.69,989.49 1266.79,989.72 1267.89,990 1268.98,990.31 1270.08,990.66 1271.18,991.04 1272.28,991.44 1273.38,991.87 1274.48,992.31 1275.58,992.77 1276.68,993.23 1277.78,993.7 1278.87,994.17 1279.97,994.63 1281.07,995.08 1282.17,995.51 1283.27,995.94 1284.37,996.35 1285.47,996.76 1286.57,997.17 1287.67,997.58 1288.76,998 1289.86,998.43 1290.96,998.86 1292.06,999.31 1293.16,999.78 1294.26,1000.28 1295.36,1000.79 1296.46,1001.34 1297.56,1001.92 1298.65,1002.53 1299.75,1003.18 1300.85,1003.87 1301.95,1004.61 1303.05,1005.4 1304.15,1006.24 1305.25,1007.11 1306.35,1008.02 1307.45,1008.95 1308.54,1009.89 1309.64,1010.83 1310.74,1011.76 1311.84,1012.67 1312.94,1013.55 1314.04,1014.38 1315.14,1015.16 1316.24,1015.88 1317.34,1016.53 1318.43,1017.09 1319.53,1017.56 1320.63,1017.92 1321.73,1018.17 1322.83,1018.3 1323.93,1018.28 1325.03,1018.12 1326.13,1017.81 1327.23,1017.33 1328.32,1016.67 1329.42,1015.82 1330.52,1014.77 1331.62,1013.52 1332.72,1012.04 1333.82,1010.34 1334.92,1008.4 1336.02,1006.2 1337.12,1003.75 1338.21,1001.02 1339.31,998.01 1340.41,994.71 1341.51,991.11 1342.61,987.19 1343.71,982.95 1344.81,978.38 1345.91,973.46 1347.01,968.18" fill="none" stroke="#0080ff" stroke-width="2.6" stroke-linejoin="round"/>
<circle cx="863.5" cy="1006.6" r="3.7" fill="#0080ff"/>
<circle cx="885.48" cy="986.67" r="3.7" fill="#0080ff"/>
<circle cx="907.46" cy="862.06" r="3.7" fill="#0080ff"/>
<circle cx="929.43" cy="970.59" r="3.7" fill="#0080ff"/>
<circle cx="951.41" cy="985.71" r="3.7" fill="#0080ff"/>
<circle cx="973.39" cy="1005.88" r="3.7" fill="#0080ff"/>
<circle cx="995.37" cy="999.64" r="3.7" fill="#0080ff"/>
<circle cx="1017.34" cy="985.47" r="3.7" fill="#0080ff"/>
<circle cx="1039.32" cy="988.59" r="3.7" fill="#0080ff"/>
<circle cx="1061.3" cy="998.44" r="3.7" fill="#0080ff"/>
<circle cx="1083.28" cy="991.71" r="3.7" fill="#0080ff"/>
<circle cx="1105.25" cy="998.44" r="3.7" fill="#0080ff"/>
<circle cx="1127.23" cy="1003" r="3.7" fill="#0080ff"/>
<circle cx="1149.21" cy="1016.92" r="3.7" fill="#0080ff"/>
<circle cx="1171.18" cy="1026.29" r="3.7" fill="#0080ff"/>
<circle cx="1193.16" cy="1030.13" r="3.7" fill="#0080ff"/>
<circle cx="1215.14" cy="999.16" r="3.7" fill="#0080ff"/>
<circle cx="1237.12" cy="997.24" r="3.7" fill="#0080ff"/>
<circle cx="1259.1" cy="989.31" r="3.7" fill="#0080ff"/>
<circle cx="1281.07" cy="995.08" r="3.7" fill="#0080ff"/>
<circle cx="1303.05" cy="1005.4" r="3.7" fill="#0080ff"/>
<circle cx="1325.03" cy="1018.12" r="3.7" fill="#0080ff"/>
<circle cx="1347.01" cy="968.18" r="3.7" fill="#0080ff"/>
<polyline points="863.5,1006.6 864.6,1017.83 865.7,1027.34 866.8,1035.21 867.9,1041.52 868.99,1046.35 870.09,1049.76 871.19,1051.85 872.29,1052.67 873.39,1052.31 874.49,1050.85 875.59,1048.36 876.69,1044.92 877.79,1040.6 878.88,1035.47 879.98,1029.63 881.08,1023.13 882.18,1016.07 883.28,1008.5 884.38,1000.52 885.48,992.19 886.58,983.6 887.68,974.81 888.77,965.91 889.87,956.97 890.97,948.07 892.07,939.28 893.17,930.67 894.27,922.34 895.37,914.34 896.47,906.76 897.57,899.68 898.66,893.17 899.76,887.3 900.86,882.15 901.96,877.8 903.06,874.33 904.16,871.81 905.26,870.31 906.36,869.92 907.46,870.7 908.55,872.71 909.65,875.86 910.75,880.02 911.85,885.09 912.95,890.93 914.05,897.44 915.15,904.5 916.25,911.99 917.34,919.78 918.44,927.77 919.54,935.83 920.64,943.85 921.74,951.7 922.84,959.27 923.94,966.45 925.04,973.1 926.14,979.12 927.23,984.39 928.33,988.79 929.43,992.19 930.53,994.52 931.63,995.83 932.73,996.18 933.83,995.65 934.93,994.34 936.03,992.3 937.12,989.63 938.22,986.39 939.32,982.68 940.42,978.56 941.52,974.12 942.62,969.43 943.72,964.57 944.82,959.62 945.92,954.66 947.01,949.76 948.11,945.01 949.21,940.48 950.31,936.26 951.41,932.41 952.51,929 953.61,926.05 954.71,923.55 955.81,921.48 956.9,919.85 958,918.65 959.1,917.88 960.2,917.52 961.3,917.58 962.4,918.05 963.5,918.91 964.6,920.18 965.7,921.84 966.79,923.88 967.89,926.3 968.99,929.1 970.09,932.27 971.19,935.8 972.29,939.69 973.39,943.93 974.49,948.51 975.59,953.37 976.68,958.43 977.78,963.62 978.88,968.87 979.98,974.11 981.08,979.26 982.18,984.26 983.28,989.03 984.38,993.5 985.48,997.6 986.57,1001.25 987.67,1004.39 988.77,1006.94 989.87,1008.83 990.97,1009.99 992.07,1010.35 993.17,1009.83 994.27,1008.36 995.37,1005.88 996.46,1002.33 997.56,997.8 998.66,992.38 999.76,986.17 1000.86,979.28 1001.96,971.82 1003.06,963.88 1004.16,955.56 1005.25,946.98 1006.35,938.23 1007.45,929.41 1008.55,920.62 1009.65,911.98 1010.75,903.58 1011.85,895.52 1012.95,887.91 1014.05,880.85 1015.14,874.44 1016.24,868.78 1017.34,863.98 1018.44,860.11 1019.54,857.15 1020.64,855.02 1021.74,853.68 1022.84,853.06 1023.94,853.1 1025.03,853.75 1026.13,854.95 1027.23,856.63 1028.33,858.74 1029.43,861.22 1030.53,864.01 1031.63,867.05 1032.73,870.28 1033.83,873.64 1034.92,877.08 1036.02,880.54 1037.12,883.94 1038.22,887.25 1039.32,890.39 1040.42,893.32 1041.52,896.04 1042.62,898.55 1043.72,900.85 1044.81,902.96 1045.91,904.87 1047.01,906.6 1048.11,908.15 1049.21,909.52 1050.31,910.73 1051.41,911.77 1052.51,912.66 1053.61,913.4 1054.7,914 1055.8,914.45 1056.9,914.78 1058,914.98 1059.1,915.06 1060.2,915.02 1061.3,914.88 1062.4,914.64 1063.5,914.31 1064.59,913.91 1065.69,913.45 1066.79,912.95 1067.89,912.43 1068.99,911.9 1070.09,911.38 1071.19,910.88 1072.29,910.42 1073.39,910.01 1074.48,909.67 1075.58,909.41 1076.68,909.25 1077.78,909.21 1078.88,909.3 1079.98,909.54 1081.08,909.94 1082.18,910.51 1083.28,911.28 1084.37,912.25 1085.47,913.39 1086.57,914.67 1087.67,916.06 1088.77,917.51 1089.87,918.99 1090.97,920.47 1092.07,921.91 1093.16,923.27 1094.26,924.53 1095.36,925.64 1096.46,926.57 1097.56,927.29 1098.66,927.75 1099.76,927.93 1100.86,927.79 1101.96,927.29 1103.05,926.39 1104.15,925.07 1105.25,923.29 1106.35,921.02 1107.45,918.31 1108.55,915.21 1109.65,911.78 1110.75,908.07 1111.85,904.15 1112.94,900.06 1114.04,895.87 1115.14,891.63 1116.24,887.38 1117.34,883.2 1118.44,879.14 1119.54,875.24 1120.64,871.58 1121.74,868.2 1122.83,865.15 1123.93,862.51 1125.03,860.31 1126.13,858.62 1127.23,857.5 1128.33,856.97 1129.43,857.02 1130.53,857.58 1131.63,858.6 1132.72,860.04 1133.82,861.84 1134.92,863.95 1136.02,866.33 1137.12,868.91 1138.22,871.65 1139.32,874.49 1140.42,877.39 1141.52,880.29 1142.61,883.15 1143.71,885.9 1144.81,888.51 1145.91,890.91 1147.01,893.06 1148.11,894.9 1149.21,896.39 1150.31,897.49 1151.41,898.23 1152.5,898.66 1153.6,898.82 1154.7,898.76 1155.8,898.52 1156.9,898.17 1158,897.73 1159.1,897.26 1160.2,896.8 1161.3,896.41 1162.39,896.12 1163.49,895.99 1164.59,896.06 1165.69,896.38 1166.79,897 1167.89,897.96 1168.99,899.31 1170.09,901.09 1171.18,903.36 1172.28,906.13 1173.38,909.37 1174.48,912.98 1175.58,916.9 1176.68,921.05 1177.78,925.35 1178.88,929.74 1179.98,934.13 1181.07,938.46 1182.17,942.65 1183.27,946.62 1184.37,950.29 1185.47,953.6 1186.57,956.48 1187.67,958.83 1188.77,960.6 1189.87,961.7 1190.96,962.06 1192.06,961.6 1193.16,960.26 1194.26,957.98 1195.36,954.83 1196.46,950.89 1197.56,946.25 1198.66,941 1199.76,935.23 1200.85,929.03 1201.95,922.48 1203.05,915.67 1204.15,908.69 1205.25,901.64 1206.35,894.59 1207.45,887.64 1208.55,880.87 1209.65,874.38 1210.74,868.25 1211.84,862.56 1212.94,857.42 1214.04,852.9 1215.14,849.09 1216.24,846.07 1217.34,843.78 1218.44,842.19 1219.54,841.21 1220.63,840.8 1221.73,840.9 1222.83,841.45 1223.93,842.38 1225.03,843.65 1226.13,845.18 1227.23,846.92 1228.33,848.81 1229.43,850.8 1230.52,852.82 1231.62,854.81 1232.72,856.72 1233.82,858.48 1234.92,860.04 1236.02,861.33 1237.12,862.3 1238.22,862.9 1239.32,863.16 1240.41,863.12 1241.51,862.8 1242.61,862.24 1243.71,861.49 1244.81,860.57 1245.91,859.53 1247.01,858.41 1248.11,857.23 1249.21,856.04 1250.3,854.87 1251.4,853.77 1252.5,852.75 1253.6,851.88 1254.7,851.17 1255.8,850.67 1256.9,850.41 1258,850.43 1259.1,850.78 1260.19,851.46 1261.29,852.47 1262.39,853.77 1263.49,855.33 1264.59,857.13 1265.69,859.14 1266.79,861.31 1267.89,863.63 1268.98,866.06 1270.08,868.57 1271.18,871.14 1272.28,873.72 1273.38,876.3 1274.48,878.84 1275.58,881.32 1276.68,883.69 1277.78,885.93 1278.87,888.02 1279.97,889.92 1281.07,891.59 1282.17,893.03 1283.27,894.23 1284.37,895.22 1285.47,896.02 1286.57,896.63 1287.67,897.09 1288.76,897.41 1289.86,897.61 1290.96,897.71 1292.06,897.71 1293.16,897.66 1294.26,897.55 1295.36,897.41 1296.46,897.26 1297.56,897.11 1298.65,896.99 1299.75,896.91 1300.85,896.9 1301.95,896.96 1303.05,897.11 1304.15,897.38 1305.25,897.77 1306.35,898.26 1307.45,898.85 1308.54,899.55 1309.64,900.35 1310.74,901.25 1311.84,902.24 1312.94,903.33 1314.04,904.5 1315.14,905.75 1316.24,907.09 1317.34,908.51 1318.43,910.01 1319.53,911.57 1320.63,913.21 1321.73,914.92 1322.83,916.68 1323.93,918.52 1325.03,920.4 1326.13,922.35 1327.23,924.34 1328.32,926.39 1329.42,928.48 1330.52,930.62 1331.62,932.79 1332.72,935 1333.82,937.25 1334.92,939.53 1336.02,941.83 1337.12,944.16 1338.21,946.52 1339.31,948.89 1340.41,951.28 1341.51,953.68 1342.61,956.09 1343.71,958.51 1344.81,960.94 1345.91,963.36 1347.01,965.78" fill="none" stroke="#00ffff" stroke-width="2.6" stroke-linejoin="round"/>
<circle cx="863.5" cy="1006.6" r="3.7" fill="#00ffff"/>
<circle cx="885.48" cy="992.19" r="3.7" fill="#00ffff"/>
<circle cx="907.46" cy="870.7" r="3.7" fill="#00ffff"/>
<circle cx="929.43" cy="992.19" r="3.7" fill="#00ffff"/>
<circle cx="951.41" cy="932.41" r="3.7" fill="#00ffff"/>
<circle cx="973.39" cy="943.93" r="3.7" fill="#00ffff"/>
<circle cx="995.37" cy="1005.88" r="3.7" fill="#00ffff"/>
<circle cx="1017.34" cy="863.98" r="3.7" fill="#00ffff"/>
<circle cx="1039.32" cy="890.39" r="3.7" fill="#00ffff"/>
<circle cx="1061.3" cy="914.88" r="3.7" fill="#00ffff"/>
<circle cx="1083.28" cy="911.28" r="3.7" fill="#00ffff"/>
<circle cx="1105.25" cy="923.29" r="3.7" fill="#00ffff"/>
<circle cx="1127.23" cy="857.5" r="3.7" fill="#00ffff"/>
<circle cx="1149.21" cy="896.39" r="3.7" fill="#00ffff"/>
<circle cx="1171.18" cy="903.36" r="3.7" fill="#00ffff"/>
<circle cx="1193.16" cy="960.26" r="3.7" fill="#00ffff"/>
<circle cx="1215.14" cy="849.09" r="3.7" fill="#00ffff"/>
<circle cx="1237.12" cy="862.3" r="3.7" fill="#00ffff"/>
<circle cx="1259.1" cy="850.78" r="3.7" fill="#00ffff"/>
<circle cx="1281.07" cy="891.59" r="3.7" fill="#00ffff"/>
<circle cx="1303.05" cy="897.11" r="3.7" fill="#00ffff"/>
<circle cx="1325.03" cy="920.4" r="3.7" fill="#00ffff"/>
<circle cx="1347.01" cy="965.78" r="3.7" fill="#00ffff"/>
<polyline points="863.5,1006.6 864.6,1010.46 865.7,1013.56 866.8,1015.93 867.9,1017.62 868.99,1018.65 870.09,1019.08 871.19,1018.93 872.29,1018.25 873.39,1017.07 874.49,1015.44 875.59,1013.39 876.69,1010.96 877.79,1008.2 878.88,1005.13 879.98,1001.8 881.08,998.25 882.18,994.52 883.28,990.64 884.38,986.65 885.48,982.59 886.58,978.5 887.68,974.43 888.77,970.4 889.87,966.46 890.97,962.64 892.07,958.99 893.17,955.54 894.27,952.33 895.37,949.41 896.47,946.8 897.57,944.55 898.66,942.7 899.76,941.28 900.86,940.34 901.96,939.91 903.06,940.03 904.16,940.75 905.26,942.09 906.36,944.1 907.46,946.82 908.55,950.26 909.65,954.35 910.75,959.01 911.85,964.15 912.95,969.66 914.05,975.47 915.15,981.48 916.25,987.6 917.34,993.74 918.44,999.8 919.54,1005.71 920.64,1011.36 921.74,1016.67 922.84,1021.55 923.94,1025.9 925.04,1029.64 926.14,1032.67 927.23,1034.9 928.33,1036.25 929.43,1036.61 930.53,1035.94 931.63,1034.27 932.73,1031.67 933.83,1028.22 934.93,1024 936.03,1019.07 937.12,1013.5 938.22,1007.38 939.32,1000.76 940.42,993.73 941.52,986.36 942.62,978.72 943.72,970.88 944.82,962.91 945.92,954.89 947.01,946.9 948.11,938.99 949.21,931.25 950.31,923.75 951.41,916.56 952.51,909.75 953.61,903.35 954.71,897.41 955.81,891.96 956.9,887.02 958,882.65 959.1,878.86 960.2,875.7 961.3,873.21 962.4,871.41 963.5,870.33 964.6,870.03 965.7,870.52 966.79,871.85 967.89,874.04 968.99,877.14 970.09,881.18 971.19,886.19 972.29,892.21 973.39,899.28 974.49,907.38 975.59,916.41 976.68,926.22 977.78,936.64 978.88,947.52 979.98,958.71 981.08,970.06 982.18,981.41 983.28,992.62 984.38,1003.51 985.48,1013.96 986.57,1023.79 987.67,1032.86 988.77,1041.01 989.87,1048.09 990.97,1053.95 992.07,1058.42 993.17,1061.37 994.27,1062.64 995.37,1062.06 996.46,1059.55 997.56,1055.21 998.66,1049.22 999.76,1041.73 1000.86,1032.91 1001.96,1022.92 1003.06,1011.94 1004.16,1000.13 1005.25,987.64 1006.35,974.66 1007.45,961.34 1008.55,947.85 1009.65,934.36 1010.75,921.02 1011.85,908.01 1012.95,895.5 1014.05,883.64 1015.14,872.6 1016.24,862.55 1017.34,853.66 1018.44,846.04 1019.54,839.67 1020.64,834.46 1021.74,830.35 1022.84,827.26 1023.94,825.1 1025.03,823.82 1026.13,823.33 1027.23,823.55 1028.33,824.41 1029.43,825.84 1030.53,827.76 1031.63,830.1 1032.73,832.77 1033.83,835.71 1034.92,838.84 1036.02,842.08 1037.12,845.36 1038.22,848.6 1039.32,851.74 1040.42,854.69 1041.52,857.46 1042.62,860.05 1043.72,862.46 1044.81,864.7 1045.91,866.76 1047.01,868.65 1048.11,870.37 1049.21,871.93 1050.31,873.33 1051.41,874.57 1052.51,875.66 1053.61,876.59 1054.7,877.38 1055.8,878.01 1056.9,878.51 1058,878.86 1059.1,879.08 1060.2,879.16 1061.3,879.11 1062.4,878.93 1063.5,878.63 1064.59,878.23 1065.69,877.72 1066.79,877.14 1067.89,876.47 1068.99,875.74 1070.09,874.95 1071.19,874.12 1072.29,873.25 1073.39,872.36 1074.48,871.45 1075.58,870.54 1076.68,869.63 1077.78,868.75 1078.88,867.89 1079.98,867.07 1081.08,866.3 1082.18,865.58 1083.28,864.94 1084.37,864.37 1085.47,863.87 1086.57,863.43 1087.67,863.03 1088.77,862.67 1089.87,862.32 1090.97,861.99 1092.07,861.65 1093.16,861.3 1094.26,860.93 1095.36,860.51 1096.46,860.05 1097.56,859.53 1098.66,858.93 1099.76,858.25 1100.86,857.47 1101.96,856.59 1103.05,855.59 1104.15,854.45 1105.25,853.18 1106.35,851.75 1107.45,850.2 1108.55,848.54 1109.65,846.8 1110.75,845.01 1111.85,843.2 1112.94,841.38 1114.04,839.58 1115.14,837.84 1116.24,836.17 1117.34,834.6 1118.44,833.15 1119.54,831.86 1120.64,830.74 1121.74,829.82 1122.83,829.14 1123.93,828.7 1125.03,828.54 1126.13,828.69 1127.23,829.17 1128.33,829.99 1129.43,831.13 1130.53,832.57 1131.63,834.27 1132.72,836.2 1133.82,838.33 1134.92,840.62 1136.02,843.06 1137.12,845.6 1138.22,848.22 1139.32,850.87 1140.42,853.55 1141.52,856.2 1142.61,858.81 1143.71,861.33 1144.81,863.75 1145.91,866.02 1147.01,868.11 1148.11,870.01 1149.21,871.66 1150.31,873.06 1151.41,874.21 1152.5,875.14 1153.6,875.85 1154.7,876.38 1155.8,876.74 1156.9,876.94 1158,877.02 1159.1,876.98 1160.2,876.85 1161.3,876.65 1162.39,876.4 1163.49,876.11 1164.59,875.81 1165.69,875.51 1166.79,875.24 1167.89,875.01 1168.99,874.85 1170.09,874.77 1171.18,874.79 1172.28,874.92 1173.38,875.16 1174.48,875.49 1175.58,875.9 1176.68,876.37 1177.78,876.88 1178.88,877.41 1179.98,877.96 1181.07,878.51 1182.17,879.03 1183.27,879.53 1184.37,879.97 1185.47,880.35 1186.57,880.64 1187.67,880.84 1188.77,880.92 1189.87,880.88 1190.96,880.69 1192.06,880.35 1193.16,879.83 1194.26,879.12 1195.36,878.24 1196.46,877.22 1197.56,876.06 1198.66,874.8 1199.76,873.44 1200.85,872.02 1201.95,870.55 1203.05,869.05 1204.15,867.54 1205.25,866.05 1206.35,864.59 1207.45,863.18 1208.55,861.85 1209.65,860.61 1210.74,859.48 1211.84,858.49 1212.94,857.66 1214.04,857 1215.14,856.54 1216.24,856.28 1217.34,856.22 1218.44,856.34 1219.54,856.6 1220.63,857 1221.73,857.5 1222.83,858.09 1223.93,858.74 1225.03,859.44 1226.13,860.16 1227.23,860.88 1228.33,861.57 1229.43,862.22 1230.52,862.81 1231.62,863.31 1232.72,863.7 1233.82,863.96 1234.92,864.07 1236.02,864 1237.12,863.74 1238.22,863.27 1239.32,862.61 1240.41,861.77 1241.51,860.8 1242.61,859.7 1243.71,858.51 1244.81,857.24 1245.91,855.93 1247.01,854.59 1248.11,853.26 1249.21,851.95 1250.3,850.69 1251.4,849.5 1252.5,848.4 1253.6,847.43 1254.7,846.61 1255.8,845.96 1256.9,845.49 1258,845.25 1259.1,845.25 1260.19,845.51 1261.29,846.01 1262.39,846.73 1263.49,847.64 1264.59,848.73 1265.69,849.95 1266.79,851.3 1267.89,852.75 1268.98,854.26 1270.08,855.83 1271.18,857.42 1272.28,859.01 1273.38,860.57 1274.48,862.09 1275.58,863.53 1276.68,864.87 1277.78,866.09 1278.87,867.17 1279.97,868.07 1281.07,868.78 1282.17,869.28 1283.27,869.57 1284.37,869.67 1285.47,869.59 1286.57,869.35 1287.67,868.95 1288.76,868.41 1289.86,867.75 1290.96,866.97 1292.06,866.1 1293.16,865.14 1294.26,864.11 1295.36,863.02 1296.46,861.88 1297.56,860.71 1298.65,859.53 1299.75,858.33 1300.85,857.15 1301.95,855.99 1303.05,854.86 1304.15,853.78 1305.25,852.76 1306.35,851.82 1307.45,850.99 1308.54,850.26 1309.64,849.67 1310.74,849.23 1311.84,848.95 1312.94,848.85 1314.04,848.95 1315.14,849.26 1316.24,849.8 1317.34,850.6 1318.43,851.65 1319.53,852.99 1320.63,854.62 1321.73,856.57 1322.83,858.85 1323.93,861.47 1325.03,864.46 1326.13,867.83 1327.23,871.6 1328.32,875.78 1329.42,880.39 1330.52,885.45 1331.62,890.97 1332.72,896.97 1333.82,903.47 1334.92,910.49 1336.02,918.03 1337.12,926.12 1338.21,934.77 1339.31,944.01 1340.41,953.84 1341.51,964.28 1342.61,975.36 1343.71,987.08 1344.81,999.46 1345.91,1012.53 1347.01,1026.29" fill="none" stroke="#80ff80" stroke-width="2.6" stroke-linejoin="round"/>
<circle cx="863.5" cy="1006.6" r="3.7" fill="#80ff80"/>
<circle cx="885.48" cy="982.59" r="3.7" fill="#80ff80"/>
<circle cx="907.46" cy="946.82" r="3.7" fill="#80ff80"/>
<circle cx="929.43" cy="1036.61" r="3.7" fill="#80ff80"/>
<circle cx="951.41" cy="916.56" r="3.7" fill="#80ff80"/>
<circle cx="973.39" cy="899.28" r="3.7" fill="#80ff80"/>
<circle cx="995.37" cy="1062.06" r="3.7" fill="#80ff80"/>
<circle cx="1017.34" cy="853.66" r="3.7" fill="#80ff80"/>
<circle cx="1039.32" cy="851.74" r="3.7" fill="#80ff80"/>
<circle cx="1061.3" cy="879.11" r="3.7" fill="#80ff80"/>
<circle cx="1083.28" cy="864.94" r="3.7" fill="#80ff80"/>
<circle cx="1105.25" cy="853.18" r="3.7" fill="#80ff80"/>
<circle cx="1127.23" cy="829.17" r="3.7" fill="#80ff80"/>
<circle cx="1149.21" cy="871.66" r="3.7" fill="#80ff80"/>
<circle cx="1171.18" cy="874.79" r="3.7" fill="#80ff80"/>
<circle cx="1193.16" cy="879.83" r="3.7" fill="#80ff80"/>
<circle cx="1215.14" cy="856.54" r="3.7" fill="#80ff80"/>
<circle cx="1237.12" cy="863.74" r="3.7" fill="#80ff80"/>
<circle cx="1259.1" cy="845.25" r="3.7" fill="#80ff80"/>
<circle cx="1281.07" cy="868.78" r="3.7" fill="#80ff80"/>
<circle cx="1303.05" cy="854.86" r="3.7" fill="#80ff80"/>
<circle cx="1325.03" cy="864.46" r="3.7" fill="#80ff80"/>
<circle cx="1347.01" cy="1026.29" r="3.7" fill="#80ff80"/>
<polyline points="863.5,1006.6 864.6,1017.38 865.7,1026.45 866.8,1033.88 867.9,1039.75 868.99,1044.13 870.09,1047.1 871.19,1048.74 872.29,1049.13 873.39,1048.33 874.49,1046.44 875.59,1043.52 876.69,1039.65 877.79,1034.92 878.88,1029.38 879.98,1023.13 881.08,1016.24 882.18,1008.78 883.28,1000.84 884.38,992.48 885.48,983.79 886.58,974.84 887.68,965.71 888.77,956.48 889.87,947.22 890.97,938.01 892.07,928.93 893.17,920.05 894.27,911.45 895.37,903.2 896.47,895.39 897.57,888.09 898.66,881.37 899.76,875.32 900.86,870.01 901.96,865.51 903.06,861.91 904.16,859.28 905.26,857.7 906.36,857.24 907.46,857.98 908.55,859.96 909.65,863.12 910.75,867.32 911.85,872.47 912.95,878.45 914.05,885.16 915.15,892.47 916.25,900.27 917.34,908.47 918.44,916.93 919.54,925.56 920.64,934.25 921.74,942.87 922.84,951.32 923.94,959.49 925.04,967.26 926.14,974.53 927.23,981.19 928.33,987.11 929.43,992.19 930.53,996.36 931.63,999.63 932.73,1002.07 933.83,1003.75 934.93,1004.72 936.03,1005.05 937.12,1004.79 938.22,1004.01 939.32,1002.77 940.42,1001.14 941.52,999.16 942.62,996.91 943.72,994.45 944.82,991.83 945.92,989.12 947.01,986.38 948.11,983.67 949.21,981.06 950.31,978.59 951.41,976.35 952.51,974.36 953.61,972.65 954.71,971.19 955.81,969.97 956.9,968.99 958,968.23 959.1,967.68 960.2,967.34 961.3,967.19 962.4,967.22 963.5,967.42 964.6,967.78 965.7,968.29 966.79,968.93 967.89,969.71 968.99,970.61 970.09,971.61 971.19,972.7 972.29,973.89 973.39,975.15 974.49,976.47 975.59,977.84 976.68,979.24 977.78,980.66 978.88,982.07 979.98,983.46 981.08,984.82 982.18,986.12 983.28,987.36 984.38,988.5 985.48,989.54 986.57,990.47 987.67,991.25 988.77,991.88 989.87,992.34 990.97,992.61 992.07,992.67 993.17,992.52 994.27,992.12 995.37,991.47 996.46,990.56 997.56,989.39 998.66,988 999.76,986.41 1000.86,984.64 1001.96,982.71 1003.06,980.66 1004.16,978.49 1005.25,976.24 1006.35,973.93 1007.45,971.58 1008.55,969.21 1009.65,966.86 1010.75,964.53 1011.85,962.26 1012.95,960.07 1014.05,957.99 1015.14,956.03 1016.24,954.22 1017.34,952.58 1018.44,951.13 1019.54,949.87 1020.64,948.79 1021.74,947.89 1022.84,947.15 1023.94,946.56 1025.03,946.13 1026.13,945.83 1027.23,945.67 1028.33,945.63 1029.43,945.71 1030.53,945.9 1031.63,946.2 1032.73,946.58 1033.83,947.05 1034.92,947.6 1036.02,948.22 1037.12,948.9 1038.22,949.64 1039.32,950.42 1040.42,951.24 1041.52,952.08 1042.62,952.94 1043.72,953.8 1044.81,954.66 1045.91,955.49 1047.01,956.29 1048.11,957.05 1049.21,957.75 1050.31,958.38 1051.41,958.93 1052.51,959.39 1053.61,959.74 1054.7,959.98 1055.8,960.1 1056.9,960.07 1058,959.89 1059.1,959.55 1060.2,959.04 1061.3,958.34 1062.4,957.45 1063.5,956.38 1064.59,955.15 1065.69,953.78 1066.79,952.3 1067.89,950.72 1068.99,949.07 1070.09,947.36 1071.19,945.62 1072.29,943.86 1073.39,942.11 1074.48,940.38 1075.58,938.71 1076.68,937.1 1077.78,935.58 1078.88,934.16 1079.98,932.88 1081.08,931.75 1082.18,930.78 1083.28,930.01 1084.37,929.44 1085.47,929.06 1086.57,928.87 1087.67,928.83 1088.77,928.95 1089.87,929.19 1090.97,929.55 1092.07,930 1093.16,930.54 1094.26,931.14 1095.36,931.79 1096.46,932.47 1097.56,933.17 1098.66,933.88 1099.76,934.56 1100.86,935.22 1101.96,935.83 1103.05,936.38 1104.15,936.84 1105.25,937.21 1106.35,937.47 1107.45,937.64 1108.55,937.71 1109.65,937.71 1110.75,937.64 1111.85,937.51 1112.94,937.34 1114.04,937.14 1115.14,936.93 1116.24,936.7 1117.34,936.47 1118.44,936.26 1119.54,936.08 1120.64,935.94 1121.74,935.84 1122.83,935.8 1123.93,935.84 1125.03,935.96 1126.13,936.17 1127.23,936.49 1128.33,936.93 1129.43,937.47 1130.53,938.11 1131.63,938.84 1132.72,939.64 1133.82,940.51 1134.92,941.44 1136.02,942.42 1137.12,943.43 1138.22,944.46 1139.32,945.52 1140.42,946.58 1141.52,947.63 1142.61,948.67 1143.71,949.68 1144.81,950.66 1145.91,951.59 1147.01,952.47 1148.11,953.28 1149.21,954.02 1150.31,954.67 1151.41,955.23 1152.5,955.71 1153.6,956.09 1154.7,956.39 1155.8,956.6 1156.9,956.72 1158,956.74 1159.1,956.68 1160.2,956.52 1161.3,956.27 1162.39,955.92 1163.49,955.48 1164.59,954.95 1165.69,954.32 1166.79,953.59 1167.89,952.76 1168.99,951.84 1170.09,950.82 1171.18,949.7 1172.28,948.48 1173.38,947.18 1174.48,945.81 1175.58,944.39 1176.68,942.94 1177.78,941.47 1178.88,940 1179.98,938.55 1181.07,937.13 1182.17,935.77 1183.27,934.47 1184.37,933.25 1185.47,932.14 1186.57,931.14 1187.67,930.28 1188.77,929.57 1189.87,929.02 1190.96,928.66 1192.06,928.51 1193.16,928.57 1194.26,928.86 1195.36,929.36 1196.46,930.05 1197.56,930.91 1198.66,931.93 1199.76,933.06 1200.85,934.31 1201.95,935.63 1203.05,937.02 1204.15,938.45 1205.25,939.9 1206.35,941.34 1207.45,942.76 1208.55,944.13 1209.65,945.44 1210.74,946.65 1211.84,947.75 1212.94,948.72 1214.04,949.54 1215.14,950.18 1216.24,950.62 1217.34,950.88 1218.44,950.97 1219.54,950.89 1220.63,950.67 1221.73,950.3 1222.83,949.81 1223.93,949.2 1225.03,948.49 1226.13,947.68 1227.23,946.8 1228.33,945.85 1229.43,944.84 1230.52,943.79 1231.62,942.71 1232.72,941.6 1233.82,940.49 1234.92,939.38 1236.02,938.28 1237.12,937.21 1238.22,936.18 1239.32,935.19 1240.41,934.24 1241.51,933.33 1242.61,932.48 1243.71,931.68 1244.81,930.93 1245.91,930.24 1247.01,929.61 1248.11,929.04 1249.21,928.54 1250.3,928.1 1251.4,927.74 1252.5,927.44 1253.6,927.22 1254.7,927.09 1255.8,927.03 1256.9,927.05 1258,927.17 1259.1,927.37 1260.19,927.66 1261.29,928.03 1262.39,928.48 1263.49,928.99 1264.59,929.57 1265.69,930.19 1266.79,930.84 1267.89,931.54 1268.98,932.25 1270.08,932.98 1271.18,933.71 1272.28,934.44 1273.38,935.16 1274.48,935.86 1275.58,936.53 1276.68,937.16 1277.78,937.74 1278.87,938.27 1279.97,938.74 1281.07,939.13 1282.17,939.45 1283.27,939.69 1284.37,939.87 1285.47,939.99 1286.57,940.06 1287.67,940.09 1288.76,940.09 1289.86,940.06 1290.96,940.01 1292.06,939.96 1293.16,939.9 1294.26,939.84 1295.36,939.8 1296.46,939.79 1297.56,939.8 1298.65,939.85 1299.75,939.94 1300.85,940.09 1301.95,940.3 1303.05,940.57 1304.15,940.92 1305.25,941.35 1306.35,941.84 1307.45,942.39 1308.54,943 1309.64,943.66 1310.74,944.38 1311.84,945.13 1312.94,945.93 1314.04,946.76 1315.14,947.62 1316.24,948.51 1317.34,949.41 1318.43,950.33 1319.53,951.27 1320.63,952.21 1321.73,953.15 1322.83,954.09 1323.93,955.02 1325.03,955.94 1326.13,956.84 1327.23,957.72 1328.32,958.58 1329.42,959.4 1330.52,960.19 1331.62,960.94 1332.72,961.64 1333.82,962.3 1334.92,962.9 1336.02,963.44 1337.12,963.91 1338.21,964.32 1339.31,964.66 1340.41,964.92 1341.51,965.1 1342.61,965.19 1343.71,965.18 1344.81,965.09 1345.91,964.89 1347.01,964.58" fill="none" stroke="#ffff00" stroke-width="2.6" stroke-linejoin="round"/>
<circle cx="863.5" cy="1006.6" r="3.7" fill="#ffff00"/>
<circle cx="885.48" cy="983.79" r="3.7" fill="#ffff00"/>
<circle cx="907.46" cy="857.98" r="3.7" fill="#ffff00"/>
<circle cx="929.43" cy="992.19" r="3.7" fill="#ffff00"/>
<circle cx="951.41" cy="976.35" r="3.7" fill="#ffff00"/>
<circle cx="973.39" cy="975.15" r="3.7" fill="#ffff00"/>
<circle cx="995.37" cy="991.47" r="3.7" fill="#ffff00"/>
<circle cx="1017.34" cy="952.58" r="3.7" fill="#ffff00"/>
<circle cx="1039.32" cy="950.42" r="3.7" fill="#ffff00"/>
<circle cx="1061.3" cy="958.34" r="3.7" fill="#ffff00"/>
<circle cx="1083.28" cy="930.01" r="3.7" fill="#ffff00"/>
<circle cx="1105.25" cy="937.21" r="3.7" fill="#ffff00"/>
<circle cx="1127.23" cy="936.49" r="3.7" fill="#ffff00"/>
<circle cx="1149.21" cy="954.02" r="3.7" fill="#ffff00"/>
<circle cx="1171.18" cy="949.7" r="3.7" fill="#ffff00"/>
<circle cx="1193.16" cy="928.57" r="3.7" fill="#ffff00"/>
<circle cx="1215.14" cy="950.18" r="3.7" fill="#ffff00"/>
<circle cx="1237.12" cy="937.21" r="3.7" fill="#ffff00"/>
<circle cx="1259.1" cy="927.37" r="3.7" fill="#ffff00"/>
<circle cx="1281.07" cy="939.13" r="3.7" fill="#ffff00"/>
<circle cx="1303.05" cy="940.57" r="3.7" fill="#ffff00"/>
<circle cx="1325.03" cy="955.94" r="3.7" fill="#ffff00"/>
<circle cx="1347.01" cy="964.58" r="3.7" fill="#ffff00"/>
<polyline points="863.5,1006.6 864.6,1015.68 865.7,1023.42 866.8,1029.87 867.9,1035.1 868.99,1039.16 870.09,1042.11 871.19,1044.01 872.29,1044.91 873.39,1044.88 874.49,1043.97 875.59,1042.24 876.69,1039.75 877.79,1036.56 878.88,1032.72 879.98,1028.3 881.08,1023.34 882.18,1017.92 883.28,1012.08 884.38,1005.89 885.48,999.4 886.58,992.67 887.68,985.76 888.77,978.73 889.87,971.64 890.97,964.54 892.07,957.49 893.17,950.56 894.27,943.79 895.37,937.25 896.47,930.99 897.57,925.08 898.66,919.56 899.76,914.51 900.86,909.97 901.96,906.01 903.06,902.69 904.16,900.05 905.26,898.16 906.36,897.09 907.46,896.87 908.55,897.56 909.65,899.1 910.75,901.41 911.85,904.42 912.95,908.04 914.05,912.22 915.15,916.85 916.25,921.89 917.34,927.23 918.44,932.82 919.54,938.58 920.64,944.42 921.74,950.27 922.84,956.06 923.94,961.72 925.04,967.15 926.14,972.3 927.23,977.08 928.33,981.41 929.43,985.23 930.53,988.47 931.63,991.15 932.73,993.31 933.83,994.99 934.93,996.21 936.03,997.03 937.12,997.46 938.22,997.56 939.32,997.35 940.42,996.88 941.52,996.18 942.62,995.28 943.72,994.22 944.82,993.04 945.92,991.78 947.01,990.47 948.11,989.15 949.21,987.85 950.31,986.61 951.41,985.47 952.51,984.46 953.61,983.58 954.71,982.83 955.81,982.21 956.9,981.72 958,981.36 959.1,981.13 960.2,981.02 961.3,981.03 962.4,981.17 963.5,981.43 964.6,981.81 965.7,982.31 966.79,982.93 967.89,983.67 968.99,984.52 970.09,985.49 971.19,986.57 972.29,987.77 973.39,989.07 974.49,990.49 975.59,991.99 976.68,993.55 977.78,995.16 978.88,996.78 979.98,998.41 981.08,1000 982.18,1001.55 983.28,1003.03 984.38,1004.41 985.48,1005.68 986.57,1006.8 987.67,1007.76 988.77,1008.54 989.87,1009.11 990.97,1009.45 992.07,1009.53 993.17,1009.34 994.27,1008.85 995.37,1008.04 996.46,1006.89 997.56,1005.44 998.66,1003.7 999.76,1001.72 1000.86,999.52 1001.96,997.15 1003.06,994.63 1004.16,992 1005.25,989.29 1006.35,986.53 1007.45,983.75 1008.55,981 1009.65,978.3 1010.75,975.68 1011.85,973.18 1012.95,970.83 1014.05,968.67 1015.14,966.73 1016.24,965.03 1017.34,963.62 1018.44,962.52 1019.54,961.72 1020.64,961.19 1021.74,960.94 1022.84,960.93 1023.94,961.14 1025.03,961.58 1026.13,962.2 1027.23,963 1028.33,963.96 1029.43,965.07 1030.53,966.3 1031.63,967.63 1032.73,969.06 1033.83,970.55 1034.92,972.1 1036.02,973.69 1037.12,975.3 1038.22,976.91 1039.32,978.51 1040.42,980.07 1041.52,981.6 1042.62,983.07 1043.72,984.49 1044.81,985.83 1045.91,987.11 1047.01,988.3 1048.11,989.39 1049.21,990.39 1050.31,991.27 1051.41,992.04 1052.51,992.68 1053.61,993.18 1054.7,993.54 1055.8,993.75 1056.9,993.8 1058,993.67 1059.1,993.37 1060.2,992.88 1061.3,992.19 1062.4,991.31 1063.5,990.24 1064.59,989.01 1065.69,987.64 1066.79,986.15 1067.89,984.57 1068.99,982.91 1070.09,981.19 1071.19,979.44 1072.29,977.68 1073.39,975.92 1074.48,974.2 1075.58,972.53 1076.68,970.94 1077.78,969.44 1078.88,968.05 1079.98,966.8 1081.08,965.72 1082.18,964.81 1083.28,964.1 1084.37,963.61 1085.47,963.33 1086.57,963.22 1087.67,963.28 1088.77,963.47 1089.87,963.79 1090.97,964.21 1092.07,964.71 1093.16,965.26 1094.26,965.86 1095.36,966.47 1096.46,967.08 1097.56,967.66 1098.66,968.2 1099.76,968.68 1100.86,969.07 1101.96,969.36 1103.05,969.52 1104.15,969.54 1105.25,969.38 1106.35,969.05 1107.45,968.55 1108.55,967.91 1109.65,967.15 1110.75,966.28 1111.85,965.34 1112.94,964.35 1114.04,963.32 1115.14,962.28 1116.24,961.25 1117.34,960.26 1118.44,959.31 1119.54,958.45 1120.64,957.69 1121.74,957.04 1122.83,956.54 1123.93,956.21 1125.03,956.06 1126.13,956.13 1127.23,956.42 1128.33,956.96 1129.43,957.73 1130.53,958.71 1131.63,959.88 1132.72,961.21 1133.82,962.68 1134.92,964.27 1136.02,965.95 1137.12,967.71 1138.22,969.52 1139.32,971.36 1140.42,973.2 1141.52,975.03 1142.61,976.82 1143.71,978.55 1144.81,980.19 1145.91,981.73 1147.01,983.13 1148.11,984.39 1149.21,985.47 1150.31,986.36 1151.41,987.07 1152.5,987.6 1153.6,987.98 1154.7,988.21 1155.8,988.3 1156.9,988.28 1158,988.14 1159.1,987.91 1160.2,987.6 1161.3,987.21 1162.39,986.77 1163.49,986.27 1164.59,985.75 1165.69,985.2 1166.79,984.65 1167.89,984.1 1168.99,983.56 1170.09,983.05 1171.18,982.59 1172.28,982.18 1173.38,981.81 1174.48,981.49 1175.58,981.21 1176.68,980.97 1177.78,980.75 1178.88,980.56 1179.98,980.4 1181.07,980.24 1182.17,980.1 1183.27,979.97 1184.37,979.83 1185.47,979.7 1186.57,979.56 1187.67,979.4 1188.77,979.23 1189.87,979.03 1190.96,978.81 1192.06,978.56 1193.16,978.27 1194.26,977.94 1195.36,977.57 1196.46,977.17 1197.56,976.75 1198.66,976.29 1199.76,975.81 1200.85,975.32 1201.95,974.81 1203.05,974.29 1204.15,973.76 1205.25,973.23 1206.35,972.7 1207.45,972.17 1208.55,971.65 1209.65,971.14 1210.74,970.65 1211.84,970.17 1212.94,969.72 1214.04,969.3 1215.14,968.9 1216.24,968.54 1217.34,968.21 1218.44,967.91 1219.54,967.64 1220.63,967.39 1221.73,967.17 1222.83,966.97 1223.93,966.78 1225.03,966.62 1226.13,966.47 1227.23,966.33 1228.33,966.2 1229.43,966.08 1230.52,965.97 1231.62,965.86 1232.72,965.75 1233.82,965.64 1234.92,965.54 1236.02,965.42 1237.12,965.3 1238.22,965.18 1239.32,965.04 1240.41,964.91 1241.51,964.78 1242.61,964.66 1243.71,964.55 1244.81,964.45 1245.91,964.37 1247.01,964.32 1248.11,964.28 1249.21,964.28 1250.3,964.32 1251.4,964.39 1252.5,964.5 1253.6,964.66 1254.7,964.87 1255.8,965.13 1256.9,965.44 1258,965.82 1259.1,966.26 1260.19,966.77 1261.29,967.34 1262.39,967.95 1263.49,968.6 1264.59,969.28 1265.69,969.98 1266.79,970.68 1267.89,971.37 1268.98,972.06 1270.08,972.71 1271.18,973.33 1272.28,973.91 1273.38,974.43 1274.48,974.88 1275.58,975.26 1276.68,975.55 1277.78,975.74 1278.87,975.83 1279.97,975.79 1281.07,975.63 1282.17,975.33 1283.27,974.9 1284.37,974.36 1285.47,973.73 1286.57,973 1287.67,972.2 1288.76,971.33 1289.86,970.42 1290.96,969.47 1292.06,968.49 1293.16,967.51 1294.26,966.52 1295.36,965.56 1296.46,964.61 1297.56,963.71 1298.65,962.87 1299.75,962.08 1300.85,961.38 1301.95,960.77 1303.05,960.26 1304.15,959.87 1305.25,959.58 1306.35,959.4 1307.45,959.32 1308.54,959.32 1309.64,959.41 1310.74,959.57 1311.84,959.8 1312.94,960.09 1314.04,960.44 1315.14,960.83 1316.24,961.26 1317.34,961.72 1318.43,962.21 1319.53,962.72 1320.63,963.24 1321.73,963.77 1322.83,964.29 1323.93,964.81 1325.03,965.3 1326.13,965.78 1327.23,966.22 1328.32,966.63 1329.42,966.99 1330.52,967.3 1331.62,967.55 1332.72,967.73 1333.82,967.85 1334.92,967.88 1336.02,967.83 1337.12,967.68 1338.21,967.43 1339.31,967.08 1340.41,966.61 1341.51,966.01 1342.61,965.29 1343.71,964.44 1344.81,963.44 1345.91,962.29 1347.01,960.98" fill="none" stroke="#ff8000" stroke-width="2.6" stroke-linejoin="round"/>
<circle cx="863.5" cy="1006.6" r="3.7" fill="#ff8000"/>
<circle cx="885.48" cy="999.4" r="3.7" fill="#ff8000"/>
<circle cx="907.46" cy="896.87" r="3.7" fill="#ff8000"/>
<circle cx="929.43" cy="985.23" r="3.7" fill="#ff8000"/>
<circle cx="951.41" cy="985.47" r="3.7" fill="#ff8000"/>
<circle cx="973.39" cy="989.07" r="3.7" fill="#ff8000"/>
<circle cx="995.37" cy="1008.04" r="3.7" fill="#ff8000"/>
<circle cx="1017.34" cy="963.62" r="3.7" fill="#ff8000"/>
<circle cx="1039.32" cy="978.51" r="3.7" fill="#ff8000"/>
<circle cx="1061.3" cy="992.19" r="3.7" fill="#ff8000"/>
<circle cx="1083.28" cy="964.1" r="3.7" fill="#ff8000"/>
<circle cx="1105.25" cy="969.38" r="3.7" fill="#ff8000"/>
<circle cx="1127.23" cy="956.42" r="3.7" fill="#ff8000"/>
<circle cx="1149.21" cy="985.47" r="3.7" fill="#ff8000"/>
<circle cx="1171.18" cy="982.59" r="3.7" fill="#ff8000"/>
<circle cx="1193.16" cy="978.27" r="3.7" fill="#ff8000"/>
<circle cx="1215.14" cy="968.9" r="3.7" fill="#ff8000"/>
<circle cx="1237.12" cy="965.3" r="3.7" fill="#ff8000"/>
<circle cx="1259.1" cy="966.26" r="3.7" fill="#ff8000"/>
<circle cx="1281.07" cy="975.63" r="3.7" fill="#ff8000"/>
<circle cx="1303.05" cy="960.26" r="3.7" fill="#ff8000"/>
<circle cx="1325.03" cy="965.3" r="3.7" fill="#ff8000"/>
<circle cx="1347.01" cy="960.98" r="3.7" fill="#ff8000"/>
<polyline points="863.5,1006.6 864.6,1018.24 865.7,1028.26 866.8,1036.74 867.9,1043.73 868.99,1049.32 870.09,1053.56 871.19,1056.53 872.29,1058.29 873.39,1058.92 874.49,1058.49 875.59,1057.06 876.69,1054.7 877.79,1051.48 878.88,1047.47 879.98,1042.74 881.08,1037.35 882.18,1031.39 883.28,1024.91 884.38,1017.98 885.48,1010.68 886.58,1003.07 887.68,995.23 888.77,987.21 889.87,979.09 890.97,970.94 892.07,962.83 893.17,954.83 894.27,947 895.37,939.41 896.47,932.14 897.57,925.25 898.66,918.81 899.76,912.9 900.86,907.57 901.96,902.9 903.06,898.95 904.16,895.81 905.26,893.53 906.36,892.18 907.46,891.83 908.55,892.53 909.65,894.22 910.75,896.8 911.85,900.2 912.95,904.32 914.05,909.08 915.15,914.39 916.25,920.16 917.34,926.32 918.44,932.76 919.54,939.41 920.64,946.17 921.74,952.97 922.84,959.71 923.94,966.31 925.04,972.67 926.14,978.73 927.23,984.37 928.33,989.53 929.43,994.11 930.53,998.05 931.63,1001.37 932.73,1004.1 933.83,1006.28 934.93,1007.96 936.03,1009.17 937.12,1009.95 938.22,1010.34 939.32,1010.39 940.42,1010.12 941.52,1009.57 942.62,1008.8 943.72,1007.83 944.82,1006.71 945.92,1005.47 947.01,1004.16 948.11,1002.8 949.21,1001.45 950.31,1000.15 951.41,998.92 952.51,997.8 953.61,996.81 954.71,995.94 955.81,995.19 956.9,994.56 958,994.07 959.1,993.7 960.2,993.46 961.3,993.36 962.4,993.39 963.5,993.55 964.6,993.85 965.7,994.28 966.79,994.86 967.89,995.57 968.99,996.43 970.09,997.43 971.19,998.58 972.29,999.88 973.39,1001.32 974.49,1002.91 975.59,1004.62 976.68,1006.42 977.78,1008.3 978.88,1010.22 979.98,1012.16 981.08,1014.08 982.18,1015.97 983.28,1017.8 984.38,1019.53 985.48,1021.15 986.57,1022.62 987.67,1023.93 988.77,1025.04 989.87,1025.92 990.97,1026.55 992.07,1026.91 993.17,1026.96 994.27,1026.68 995.37,1026.05 996.46,1025.04 997.56,1023.68 998.66,1022.01 999.76,1020.06 1000.86,1017.86 1001.96,1015.45 1003.06,1012.87 1004.16,1010.14 1005.25,1007.31 1006.35,1004.4 1007.45,1001.46 1008.55,998.52 1009.65,995.6 1010.75,992.75 1011.85,990 1012.95,987.39 1014.05,984.95 1015.14,982.71 1016.24,980.71 1017.34,978.99 1018.44,977.56 1019.54,976.43 1020.64,975.56 1021.74,974.94 1022.84,974.54 1023.94,974.36 1025.03,974.37 1026.13,974.54 1027.23,974.87 1028.33,975.32 1029.43,975.89 1030.53,976.54 1031.63,977.26 1032.73,978.03 1033.83,978.83 1034.92,979.64 1036.02,980.45 1037.12,981.22 1038.22,981.94 1039.32,982.59 1040.42,983.16 1041.52,983.63 1042.62,984.03 1043.72,984.34 1044.81,984.58 1045.91,984.73 1047.01,984.82 1048.11,984.83 1049.21,984.78 1050.31,984.66 1051.41,984.47 1052.51,984.23 1053.61,983.93 1054.7,983.57 1055.8,983.16 1056.9,982.7 1058,982.2 1059.1,981.65 1060.2,981.06 1061.3,980.43 1062.4,979.76 1063.5,979.07 1064.59,978.35 1065.69,977.61 1066.79,976.86 1067.89,976.11 1068.99,975.36 1070.09,974.61 1071.19,973.88 1072.29,973.16 1073.39,972.48 1074.48,971.82 1075.58,971.2 1076.68,970.62 1077.78,970.09 1078.88,969.62 1079.98,969.22 1081.08,968.88 1082.18,968.61 1083.28,968.42 1084.37,968.32 1085.47,968.3 1086.57,968.34 1087.67,968.43 1088.77,968.57 1089.87,968.74 1090.97,968.94 1092.07,969.14 1093.16,969.35 1094.26,969.55 1095.36,969.73 1096.46,969.87 1097.56,969.98 1098.66,970.03 1099.76,970.02 1100.86,969.94 1101.96,969.78 1103.05,969.51 1104.15,969.15 1105.25,968.66 1106.35,968.06 1107.45,967.34 1108.55,966.54 1109.65,965.66 1110.75,964.72 1111.85,963.75 1112.94,962.75 1114.04,961.75 1115.14,960.77 1116.24,959.82 1117.34,958.92 1118.44,958.08 1119.54,957.33 1120.64,956.68 1121.74,956.15 1122.83,955.77 1123.93,955.53 1125.03,955.47 1126.13,955.6 1127.23,955.94 1128.33,956.5 1129.43,957.26 1130.53,958.21 1131.63,959.33 1132.72,960.59 1133.82,961.97 1134.92,963.46 1136.02,965.03 1137.12,966.67 1138.22,968.35 1139.32,970.05 1140.42,971.76 1141.52,973.45 1142.61,975.1 1143.71,976.69 1144.81,978.2 1145.91,979.62 1147.01,980.92 1148.11,982.07 1149.21,983.07 1150.31,983.89 1151.41,984.54 1152.5,985.03 1153.6,985.37 1154.7,985.57 1155.8,985.63 1156.9,985.56 1158,985.38 1159.1,985.1 1160.2,984.71 1161.3,984.24 1162.39,983.69 1163.49,983.07 1164.59,982.39 1165.69,981.66 1166.79,980.88 1167.89,980.08 1168.99,979.24 1170.09,978.4 1171.18,977.55 1172.28,976.7 1173.38,975.86 1174.48,975.02 1175.58,974.2 1176.68,973.39 1177.78,972.6 1178.88,971.83 1179.98,971.07 1181.07,970.35 1182.17,969.64 1183.27,968.97 1184.37,968.32 1185.47,967.71 1186.57,967.14 1187.67,966.6 1188.77,966.11 1189.87,965.65 1190.96,965.25 1192.06,964.89 1193.16,964.58 1194.26,964.33 1195.36,964.12 1196.46,963.96 1197.56,963.84 1198.66,963.76 1199.76,963.72 1200.85,963.7 1201.95,963.71 1203.05,963.75 1204.15,963.8 1205.25,963.87 1206.35,963.95 1207.45,964.04 1208.55,964.14 1209.65,964.23 1210.74,964.32 1211.84,964.41 1212.94,964.48 1214.04,964.54 1215.14,964.58 1216.24,964.6 1217.34,964.61 1218.44,964.59 1219.54,964.57 1220.63,964.54 1221.73,964.5 1222.83,964.46 1223.93,964.42 1225.03,964.39 1226.13,964.36 1227.23,964.35 1228.33,964.35 1229.43,964.37 1230.52,964.41 1231.62,964.48 1232.72,964.57 1233.82,964.7 1234.92,964.86 1236.02,965.06 1237.12,965.3 1238.22,965.59 1239.32,965.92 1240.41,966.28 1241.51,966.68 1242.61,967.1 1243.71,967.55 1244.81,968.02 1245.91,968.5 1247.01,968.99 1248.11,969.49 1249.21,970 1250.3,970.5 1251.4,971 1252.5,971.48 1253.6,971.95 1254.7,972.41 1255.8,972.84 1256.9,973.24 1258,973.61 1259.1,973.95 1260.19,974.24 1261.29,974.5 1262.39,974.71 1263.49,974.88 1264.59,975 1265.69,975.08 1266.79,975.12 1267.89,975.1 1268.98,975.04 1270.08,974.93 1271.18,974.76 1272.28,974.55 1273.38,974.28 1274.48,973.96 1275.58,973.58 1276.68,973.15 1277.78,972.65 1278.87,972.1 1279.97,971.5 1281.07,970.83 1282.17,970.1 1283.27,969.31 1284.37,968.49 1285.47,967.64 1286.57,966.77 1287.67,965.89 1288.76,965 1289.86,964.13 1290.96,963.28 1292.06,962.47 1293.16,961.69 1294.26,960.97 1295.36,960.31 1296.46,959.73 1297.56,959.23 1298.65,958.82 1299.75,958.52 1300.85,958.33 1301.95,958.27 1303.05,958.34 1304.15,958.56 1305.25,958.91 1306.35,959.38 1307.45,959.97 1308.54,960.65 1309.64,961.42 1310.74,962.27 1311.84,963.19 1312.94,964.15 1314.04,965.16 1315.14,966.19 1316.24,967.25 1317.34,968.31 1318.43,969.36 1319.53,970.4 1320.63,971.4 1321.73,972.37 1322.83,973.28 1323.93,974.13 1325.03,974.91 1326.13,975.59 1327.23,976.18 1328.32,976.65 1329.42,977.01 1330.52,977.23 1331.62,977.3 1332.72,977.21 1333.82,976.96 1334.92,976.52 1336.02,975.89 1337.12,975.06 1338.21,974.01 1339.31,972.73 1340.41,971.21 1341.51,969.44 1342.61,967.41 1343.71,965.11 1344.81,962.51 1345.91,959.62 1347.01,956.42" fill="none" stroke="#ff0000" stroke-width="2.6" stroke-linejoin="round"/>
<circle cx="863.5" cy="1006.6" r="3.7" fill="#ff0000"/>
<circle cx="885.48" cy="1010.68" r="3.7" fill="#ff0000"/>
<circle cx="907.46" cy="891.83" r="3.7" fill="#ff0000"/>
<circle cx="929.43" cy="994.11" r="3.7" fill="#ff0000"/>
<circle cx="951.41" cy="998.92" r="3.7" fill="#ff0000"/>
<circle cx="973.39" cy="1001.32" r="3.7" fill="#ff0000"/>
<circle cx="995.37" cy="1026.05" r="3.7" fill="#ff0000"/>
<circle cx="1017.34" cy="978.99" r="3.7" fill="#ff0000"/>
<circle cx="1039.32" cy="982.59" r="3.7" fill="#ff0000"/>
<circle cx="1061.3" cy="980.43" r="3.7" fill="#ff0000"/>
<circle cx="1083.28" cy="968.42" r="3.7" fill="#ff0000"/>
<circle cx="1105.25" cy="968.66" r="3.7" fill="#ff0000"/>
<circle cx="1127.23" cy="955.94" r="3.7" fill="#ff0000"/>
<circle cx="1149.21" cy="983.07" r="3.7" fill="#ff0000"/>
<circle cx="1171.18" cy="977.55" r="3.7" fill="#ff0000"/>
<circle cx="1193.16" cy="964.58" r="3.7" fill="#ff0000"/>
<circle cx="1215.14" cy="964.58" r="3.7" fill="#ff0000"/>
<circle cx="1237.12" cy="965.3" r="3.7" fill="#ff0000"/>
<circle cx="1259.1" cy="973.95" r="3.7" fill="#ff0000"/>
<circle cx="1281.07" cy="970.83" r="3.7" fill="#ff0000"/>
<circle cx="1303.05" cy="958.34" r="3.7" fill="#ff0000"/>
<circle cx="1325.03" cy="974.91" r="3.7" fill="#ff0000"/>
<circle cx="1347.01" cy="956.42" r="3.7" fill="#ff0000"/>
<polyline points="863.5,1006.6 864.6,1022.76 865.7,1036.77 866.8,1048.74 867.9,1058.73 868.99,1066.85 870.09,1073.18 871.19,1077.81 872.29,1080.83 873.39,1082.31 874.49,1082.37 875.59,1081.07 876.69,1078.51 877.79,1074.78 878.88,1069.96 879.98,1064.14 881.08,1057.41 882.18,1049.86 883.28,1041.58 884.38,1032.65 885.48,1023.17 886.58,1013.21 887.68,1002.87 888.77,992.24 889.87,981.4 890.97,970.44 892.07,959.46 893.17,948.53 894.27,937.75 895.37,927.2 896.47,916.97 897.57,907.15 898.66,897.83 899.76,889.09 900.86,881.03 901.96,873.73 903.06,867.28 904.16,861.77 905.26,857.28 906.36,853.91 907.46,851.74 908.55,850.82 909.65,851.11 910.75,852.51 911.85,854.94 912.95,858.31 914.05,862.53 915.15,867.51 916.25,873.16 917.34,879.4 918.44,886.14 919.54,893.3 920.64,900.77 921.74,908.48 922.84,916.34 923.94,924.27 925.04,932.16 926.14,939.94 927.23,947.51 928.33,954.8 929.43,961.7 930.53,968.16 931.63,974.17 932.73,979.76 933.83,984.94 934.93,989.73 936.03,994.16 937.12,998.24 938.22,1002 939.32,1005.46 940.42,1008.63 941.52,1011.54 942.62,1014.2 943.72,1016.64 944.82,1018.88 945.92,1020.93 947.01,1022.82 948.11,1024.57 949.21,1026.2 950.31,1027.73 951.41,1029.17 952.51,1030.55 953.61,1031.86 954.71,1033.1 955.81,1034.26 956.9,1035.35 958,1036.35 959.1,1037.26 960.2,1038.07 961.3,1038.79 962.4,1039.4 963.5,1039.91 964.6,1040.3 965.7,1040.57 966.79,1040.72 967.89,1040.74 968.99,1040.63 970.09,1040.38 971.19,1039.99 972.29,1039.46 973.39,1038.77 974.49,1037.94 975.59,1036.96 976.68,1035.86 977.78,1034.65 978.88,1033.36 979.98,1031.99 981.08,1030.57 982.18,1029.1 983.28,1027.62 984.38,1026.12 985.48,1024.64 986.57,1023.19 987.67,1021.78 988.77,1020.43 989.87,1019.15 990.97,1017.97 992.07,1016.9 993.17,1015.96 994.27,1015.16 995.37,1014.52 996.46,1014.06 997.56,1013.75 998.66,1013.61 999.76,1013.6 1000.86,1013.72 1001.96,1013.97 1003.06,1014.32 1004.16,1014.77 1005.25,1015.3 1006.35,1015.9 1007.45,1016.57 1008.55,1017.28 1009.65,1018.03 1010.75,1018.81 1011.85,1019.61 1012.95,1020.41 1014.05,1021.2 1015.14,1021.97 1016.24,1022.71 1017.34,1023.41 1018.44,1024.05 1019.54,1024.64 1020.64,1025.18 1021.74,1025.67 1022.84,1026.1 1023.94,1026.49 1025.03,1026.82 1026.13,1027.1 1027.23,1027.33 1028.33,1027.51 1029.43,1027.65 1030.53,1027.73 1031.63,1027.77 1032.73,1027.77 1033.83,1027.71 1034.92,1027.61 1036.02,1027.47 1037.12,1027.28 1038.22,1027.05 1039.32,1026.77 1040.42,1026.45 1041.52,1026.09 1042.62,1025.69 1043.72,1025.25 1044.81,1024.78 1045.91,1024.27 1047.01,1023.73 1048.11,1023.16 1049.21,1022.56 1050.31,1021.93 1051.41,1021.28 1052.51,1020.6 1053.61,1019.9 1054.7,1019.18 1055.8,1018.44 1056.9,1017.68 1058,1016.91 1059.1,1016.13 1060.2,1015.33 1061.3,1014.52 1062.4,1013.71 1063.5,1012.89 1064.59,1012.06 1065.69,1011.22 1066.79,1010.39 1067.89,1009.55 1068.99,1008.71 1070.09,1007.88 1071.19,1007.04 1072.29,1006.22 1073.39,1005.39 1074.48,1004.57 1075.58,1003.76 1076.68,1002.96 1077.78,1002.17 1078.88,1001.4 1079.98,1000.63 1081.08,999.88 1082.18,999.15 1083.28,998.44 1084.37,997.74 1085.47,997.06 1086.57,996.39 1087.67,995.73 1088.77,995.07 1089.87,994.41 1090.97,993.75 1092.07,993.08 1093.16,992.4 1094.26,991.7 1095.36,990.98 1096.46,990.25 1097.56,989.48 1098.66,988.69 1099.76,987.86 1100.86,986.99 1101.96,986.08 1103.05,985.13 1104.15,984.13 1105.25,983.07 1106.35,981.96 1107.45,980.81 1108.55,979.64 1109.65,978.46 1110.75,977.3 1111.85,976.17 1112.94,975.08 1114.04,974.06 1115.14,973.13 1116.24,972.29 1117.34,971.57 1118.44,970.98 1119.54,970.55 1120.64,970.28 1121.74,970.2 1122.83,970.33 1123.93,970.68 1125.03,971.26 1126.13,972.11 1127.23,973.23 1128.33,974.63 1129.43,976.28 1130.53,978.17 1131.63,980.24 1132.72,982.47 1133.82,984.83 1134.92,987.27 1136.02,989.78 1137.12,992.3 1138.22,994.82 1139.32,997.3 1140.42,999.7 1141.52,1001.98 1142.61,1004.13 1143.71,1006.1 1144.81,1007.86 1145.91,1009.37 1147.01,1010.61 1148.11,1011.54 1149.21,1012.12 1150.31,1012.34 1151.41,1012.2 1152.5,1011.74 1153.6,1010.97 1154.7,1009.92 1155.8,1008.62 1156.9,1007.09 1158,1005.36 1159.1,1003.45 1160.2,1001.38 1161.3,999.17 1162.39,996.87 1163.49,994.48 1164.59,992.03 1165.69,989.56 1166.79,987.07 1167.89,984.6 1168.99,982.18 1170.09,979.82 1171.18,977.55 1172.28,975.39 1173.38,973.35 1174.48,971.43 1175.58,969.63 1176.68,967.95 1177.78,966.39 1178.88,964.96 1179.98,963.65 1181.07,962.47 1182.17,961.42 1183.27,960.5 1184.37,959.72 1185.47,959.06 1186.57,958.54 1187.67,958.16 1188.77,957.91 1189.87,957.81 1190.96,957.84 1192.06,958.02 1193.16,958.34 1194.26,958.8 1195.36,959.4 1196.46,960.11 1197.56,960.93 1198.66,961.84 1199.76,962.83 1200.85,963.89 1201.95,965 1203.05,966.14 1204.15,967.32 1205.25,968.5 1206.35,969.69 1207.45,970.86 1208.55,972 1209.65,973.1 1210.74,974.15 1211.84,975.14 1212.94,976.04 1214.04,976.85 1215.14,977.55 1216.24,978.13 1217.34,978.61 1218.44,979 1219.54,979.3 1220.63,979.54 1221.73,979.71 1222.83,979.85 1223.93,979.96 1225.03,980.04 1226.13,980.13 1227.23,980.22 1228.33,980.33 1229.43,980.48 1230.52,980.68 1231.62,980.93 1232.72,981.26 1233.82,981.67 1234.92,982.18 1236.02,982.8 1237.12,983.55 1238.22,984.43 1239.32,985.43 1240.41,986.54 1241.51,987.74 1242.61,989.03 1243.71,990.38 1244.81,991.78 1245.91,993.22 1247.01,994.68 1248.11,996.16 1249.21,997.62 1250.3,999.07 1251.4,1000.49 1252.5,1001.86 1253.6,1003.16 1254.7,1004.4 1255.8,1005.54 1256.9,1006.57 1258,1007.49 1259.1,1008.28 1260.19,1008.92 1261.29,1009.42 1262.39,1009.79 1263.49,1010.02 1264.59,1010.11 1265.69,1010.08 1266.79,1009.93 1267.89,1009.66 1268.98,1009.28 1270.08,1008.79 1271.18,1008.19 1272.28,1007.49 1273.38,1006.68 1274.48,1005.79 1275.58,1004.81 1276.68,1003.74 1277.78,1002.58 1278.87,1001.35 1279.97,1000.05 1281.07,998.68 1282.17,997.24 1283.27,995.75 1284.37,994.23 1285.47,992.68 1286.57,991.13 1287.67,989.59 1288.76,988.08 1289.86,986.6 1290.96,985.18 1292.06,983.84 1293.16,982.57 1294.26,981.41 1295.36,980.36 1296.46,979.45 1297.56,978.68 1298.65,978.07 1299.75,977.64 1300.85,977.39 1301.95,977.36 1303.05,977.55 1304.15,977.97 1305.25,978.59 1306.35,979.41 1307.45,980.38 1308.54,981.49 1309.64,982.71 1310.74,984.01 1311.84,985.37 1312.94,986.75 1314.04,988.15 1315.14,989.52 1316.24,990.85 1317.34,992.11 1318.43,993.27 1319.53,994.31 1320.63,995.19 1321.73,995.91 1322.83,996.43 1323.93,996.72 1325.03,996.76 1326.13,996.52 1327.23,995.98 1328.32,995.11 1329.42,993.89 1330.52,992.29 1331.62,990.28 1332.72,987.85 1333.82,984.95 1334.92,981.58 1336.02,977.69 1337.12,973.28 1338.21,968.3 1339.31,962.74 1340.41,956.57 1341.51,949.76 1342.61,942.29 1343.71,934.13 1344.81,925.26 1345.91,915.65 1347.01,905.28" fill="none" stroke="#800000" stroke-width="2.6" stroke-linejoin="round"/>
<circle cx="863.5" cy="1006.6" r="3.7" fill="#800000"/>
<circle cx="885.48" cy="1023.17" r="3.7" fill="#800000"/>
<circle cx="907.46" cy="851.74" r="3.7" fill="#800000"/>
<circle cx="929.43" cy="961.7" r="3.7" fill="#800000"/>
<circle cx="951.41" cy="1029.17" r="3.7" fill="#800000"/>
<circle cx="973.39" cy="1038.77" r="3.7" fill="#800000"/>
<circle cx="995.37" cy="1014.52" r="3.7" fill="#800000"/>
<circle cx="1017.34" cy="1023.41" r="3.7" fill="#800000"/>
<circle cx="1039.32" cy="1026.77" r="3.7" fill="#800000"/>
<circle cx="1061.3" cy="1014.52" r="3.7" fill="#800000"/>
<circle cx="1083.28" cy="998.44" r="3.7" fill="#800000"/>
<circle cx="1105.25" cy="983.07" r="3.7" fill="#800000"/>
<circle cx="1127.23" cy="973.23" r="3.7" fill="#800000"/>
<circle cx="1149.21" cy="1012.12" r="3.7" fill="#800000"/>
<circle cx="1171.18" cy="977.55" r="3.7" fill="#800000"/>
<circle cx="1193.16" cy="958.34" r="3.7" fill="#800000"/>
<circle cx="1215.14" cy="977.55" r="3.7" fill="#800000"/>
<circle cx="1237.12" cy="983.55" r="3.7" fill="#800000"/>
<circle cx="1259.1" cy="1008.28" r="3.7" fill="#800000"/>
<circle cx="1281.07" cy="998.68" r="3.7" fill="#800000"/>
<circle cx="1303.05" cy="977.55" r="3.7" fill="#800000"/>
<circle cx="1325.03" cy="996.76" r="3.7" fill="#800000"/>
<circle cx="1347.01" cy="905.28" r="3.7" fill="#800000"/>
<polyline points="127.1,165.9 130.1,135.8 133.2,129 136.2,121.7 139.3,137.5 142.3,144.2 145.4,150.5 148.4,167 151.5,173.3 154.5,168.4 157.6,173.9 160.6,180.4 163.6,185.1 166.7,193.6 169.7,200 172.8,198.7 175.8,204.5 178.9,209.4 181.9,204 185,208.2 188,207.7 191,213.4 194.1,211.6 197.1,209.7 200.2,206 203.2,198.7 206.3,198.1 209.3,189 212.4,181 215.4,161.5 218.4,156.8 221.5,132.5 224.5,126.2 227.6,120.7 230.6,128.7 233.7,135.1 236.7,145.2 239.8,161.2 242.8,169 245.9,177.9 248.9,180.1 251.9,192.6 255,208.5 258,209.7 261.1,219.6 264.1,228.1 267.2,221.3 270.2,216 273.3,221.6 276.3,227.2 279.4,226.7 282.4,219.1 285.4,222.7 288.5,223.3 291.5,223.5 294.6,223.4 297.6,220.4 300.7,221.6 303.7,223.2 306.8,227.8 309.8,222.2 312.8,226.6 315.9,219.8 318.9,228.6 322,224.7 325,224.4 328.1,229.7 331.1,219 334.2,220.2 337.2,227.6 340.2,223.7 343.3,225.6 346.3,237.3 349.4,227.5 352.4,229.7 355.5,229.9 358.5,234.9 361.6,232.4 364.6,232.6 367.7,228.3 370.7,231.9 373.7,233.5 376.8,228.6 379.8,236.9 382.9,236.7 385.9,242.5 389,230.4 392,233.2 395.1,233.8 398.1,235.4 401.1,237.7 404.2,237.8 407.2,240.1 410.3,240.3 413.3,239.5 416.4,234.5 419.4,238.1 422.5,240.6 425.5,242.6 428.6,242.5 431.6,234.5 434.6,238.5 437.7,240.4 440.7,242.3 443.8,245.2 446.8,241.2 449.9,237.9 452.9,242.7 456,242.3 459,242.6 462,241.8 465.1,248.5 468.1,243.7 471.2,246.5 474.2,240.8 477.3,247.7 480.3,243.9 483.4,241.1 486.4,249.6 489.5,252.7 492.5,251.8 495.5,254.6 498.6,260.8 501.6,257.7 504.7,254.5 507.7,266 510.8,268.4 513.8,274.8 516.9,272.7 519.9,281.9 523,284.4 526,279.1 529,290.5 532.1,286.6 535.1,288.8 538.2,297.1 541.2,299.8 544.3,298.4 547.3,310.2 550.4,315.6 553.4,322.9 556.4,322.3 559.5,322.1 562.5,329.1 565.6,341.1 568.6,345.5 571.7,349.2 574.7,351.5 577.8,358.8 580.8,363 583.9,369 586.9,378.5 589.9,385.6 593,393.4 596,403.8 599.1,412 602.1,417.9 605.2,434 608.2,447.1 611.3,465.7 614.3,472.8 617.3,503.6 620.4,526.3 623.4,534.6" fill="none" stroke="#00007f" stroke-width="1" stroke-linejoin="round"/>
<polyline points="127.1,167.5 130.1,127.8 133.2,114.1 136.2,122.3 139.3,126.2 142.3,128.9 145.4,137.1 148.4,150 151.5,155.5 154.5,163.9 157.6,166.5 160.6,168.1 163.6,174.5 166.7,181.4 169.7,182.8 172.8,193.7 175.8,194.7 178.9,195.2 181.9,199 185,200.1 188,204.7 191,208.5 194.1,206.1 197.1,208.8 200.2,208.7 203.2,198 206.3,197.7 209.3,191.9 212.4,191.9 215.4,174.8 218.4,159.1 221.5,145.3 224.5,141.9 227.6,130.9 230.6,129 233.7,140.5 236.7,158.4 239.8,168.6 242.8,174.2 245.9,194.8 248.9,192.4 251.9,198.3 255,205.6 258,208.2 261.1,214.4 264.1,221.5 267.2,224.1 270.2,224 273.3,229.4 276.3,228.1 279.4,224.8 282.4,220.9 285.4,228.7 288.5,228.4 291.5,227.8 294.6,223.8 297.6,229 300.7,223.6 303.7,232.9 306.8,230.4 309.8,230.6 312.8,227.4 315.9,226.8 318.9,236.8 322,235.2 325,231.5 328.1,235.7 331.1,239.4 334.2,230.6 337.2,233.2 340.2,233.8 343.3,238.2 346.3,232.9 349.4,238.5 352.4,234.1 355.5,242.2 358.5,242.6 361.6,238.8 364.6,242.4 367.7,237.7 370.7,239.6 373.7,244.1 376.8,240.2 379.8,242.3 382.9,237.7 385.9,243.8 389,242.8 392,236.9 395.1,233 398.1,234.3 401.1,241.7 404.2,240.9 407.2,236.1 410.3,242.7 413.3,245.9 416.4,242.2 419.4,241.2 422.5,246 425.5,249.3 428.6,248.6 431.6,241.1 434.6,246.6 437.7,244.4 440.7,243.1 443.8,241.2 446.8,244.6 449.9,241.6 452.9,247.2 456,245.5 459,248.3 462,240.5 465.1,245.2 468.1,247.9 471.2,246.9 474.2,246.5 477.3,243.2 480.3,252.1 483.4,250.5 486.4,248.9 489.5,239.1 492.5,245.6 495.5,250.6 498.6,249.3 501.6,246.3 504.7,256.5 507.7,259.2 510.8,255.5 513.8,261 516.9,262.9 519.9,270.1 523,264.1 526,268.1 529,275.9 532.1,279.1 535.1,292.2 538.2,285.3 541.2,291.2 544.3,292.3 547.3,294.8 550.4,302.2 553.4,310.9 556.4,307 559.5,314.9 562.5,317.5 565.6,322.9 568.6,326.7 571.7,338.7 574.7,330.4 577.8,338.6 580.8,340.1 583.9,341.8 586.9,354.8 589.9,367.4 593,371.3 596,382.1 599.1,390.5 602.1,400.5 605.2,421.8 608.2,428.1 611.3,450 614.3,459.6 617.3,483 620.4,517.1 623.4,538" fill="none" stroke="#0000bb" stroke-width="1" stroke-linejoin="round"/>
<polyline points="127.1,157.7 130.1,122.4 133.2,119.9 136.2,121.6 139.3,121.6 142.3,132.3 145.4,137.4 148.4,143.5 151.5,151 154.5,149.9 157.6,167 160.6,167.7 163.6,179 166.7,177.7 169.7,183.6 172.8,202.1 175.8,203.6 178.9,201.6 181.9,205.2 185,209 188,214.6 191,214.1 194.1,213.7 197.1,213.9 200.2,207.1 203.2,216.6 206.3,202.7 209.3,204.2 212.4,188.8 215.4,180 218.4,165 221.5,143.9 224.5,138 227.6,132.2 230.6,137 233.7,141.3 236.7,153.6 239.8,163.6 242.8,176.2 245.9,178.7 248.9,189.3 251.9,197.3 255,202.4 258,206.7 261.1,216.2 264.1,219 267.2,221.6 270.2,222.4 273.3,227.2 276.3,220.9 279.4,226.8 282.4,223.8 285.4,228.8 288.5,224.7 291.5,224.9 294.6,228.3 297.6,219.8 300.7,226.2 303.7,221.6 306.8,224.9 309.8,231.3 312.8,231 315.9,228.5 318.9,230.3 322,230.9 325,232.6 328.1,238.9 331.1,233.6 334.2,241.4 337.2,232.7 340.2,237.6 343.3,238.2 346.3,236.9 349.4,235.9 352.4,242.9 355.5,244.3 358.5,242.1 361.6,246.2 364.6,242.1 367.7,232.6 370.7,242.5 373.7,236 376.8,243.3 379.8,236.6 382.9,238.6 385.9,237.6 389,235.2 392,230 395.1,235.1 398.1,234.5 401.1,238 404.2,231.4 407.2,234.1 410.3,229.5 413.3,231.8 416.4,224.5 419.4,237.7 422.5,230.7 425.5,225.5 428.6,229.8 431.6,231.2 434.6,228.9 437.7,232.4 440.7,226.6 443.8,217.9 446.8,222.7 449.9,231 452.9,230.1 456,228.9 459,224 462,230.8 465.1,230.9 468.1,225.8 471.2,226.5 474.2,232.1 477.3,235.6 480.3,238.5 483.4,236.3 486.4,242.8 489.5,233.2 492.5,239.8 495.5,237.3 498.6,234.1 501.6,238.8 504.7,249.5 507.7,244.4 510.8,245.2 513.8,254.5 516.9,257.7 519.9,257.2 523,265.7 526,257.1 529,274.2 532.1,271.9 535.1,271.9 538.2,275.2 541.2,277.4 544.3,280.5 547.3,286.2 550.4,285.6 553.4,302 556.4,298.6 559.5,306.1 562.5,308.1 565.6,313.2 568.6,323.2 571.7,328.3 574.7,328.9 577.8,336.3 580.8,345.9 583.9,341.8 586.9,346.6 589.9,366.5 593,367.2 596,368.8 599.1,386.1 602.1,400.3 605.2,415.6 608.2,431.7 611.3,445.5 614.3,462.9 617.3,480 620.4,517.5 623.4,539.3" fill="none" stroke="#0000f7" stroke-width="1" stroke-linejoin="round"/>
<polyline points="127.1,162 130.1,117.9 133.2,103.6 136.2,110.3 139.3,118.7 142.3,135.2 145.4,133.7 148.4,139 151.5,150.4 154.5,155.7 157.6,165.6 160.6,162.5 163.6,162.1 166.7,175.2 169.7,178.2 172.8,185.3 175.8,195.1 178.9,190.2 181.9,203.8 185,203.4 188,204.2 191,203.9 194.1,205.9 197.1,204.3 200.2,206.7 203.2,206.7 206.3,199 209.3,197.9 212.4,193.2 215.4,180.8 218.4,161.4 221.5,152 224.5,142 227.6,139.2 230.6,135.4 233.7,144.2 236.7,152.2 239.8,177.2 242.8,182.7 245.9,184.1 248.9,195.1 251.9,203.3 255,203.2 258,217.4 261.1,224.4 264.1,228.2 267.2,224.7 270.2,225.8 273.3,232.5 276.3,231.1 279.4,225.3 282.4,224.7 285.4,228.8 288.5,223.6 291.5,223.3 294.6,231.4 297.6,225.5 300.7,222.6 303.7,226 306.8,231.5 309.8,224.3 312.8,219.9 315.9,216.6 318.9,231 322,213.3 325,227.5 328.1,220.4 331.1,219.6 334.2,220.9 337.2,224.8 340.2,230.2 343.3,224.1 346.3,229.6 349.4,237.1 352.4,218.1 355.5,226.6 358.5,223.2 361.6,233.9 364.6,225.7 367.7,225.4 370.7,225.8 373.7,231.9 376.8,236.8 379.8,233.4 382.9,240.8 385.9,239 389,232.2 392,235.8 395.1,232.8 398.1,232 401.1,224.1 404.2,225.9 407.2,230.3 410.3,225.3 413.3,232.3 416.4,230.8 419.4,225.9 422.5,233.6 425.5,229.8 428.6,233.5 431.6,227.9 434.6,222.4 437.7,231.7 440.7,227.8 443.8,232 446.8,233.3 449.9,234 452.9,224.6 456,222.4 459,230.2 462,235.4 465.1,231.4 468.1,236.4 471.2,233.2 474.2,236.2 477.3,237.4 480.3,237.6 483.4,243 486.4,244 489.5,250.3 492.5,247.4 495.5,253.1 498.6,250.4 501.6,255.1 504.7,253 507.7,253.6 510.8,262.6 513.8,262.7 516.9,265.4 519.9,261.4 523,260.3 526,265.9 529,272.6 532.1,268.3 535.1,282.1 538.2,274.3 541.2,285.6 544.3,297.5 547.3,281.5 550.4,289.9 553.4,304 556.4,304.5 559.5,310.9 562.5,315.4 565.6,327.4 568.6,330.5 571.7,332.1 574.7,339 577.8,341.4 580.8,351.8 583.9,349.9 586.9,367.4 589.9,370.6 593,386.6 596,393.9 599.1,395 602.1,415.2 605.2,422.7 608.2,438.2 611.3,455.2 614.3,468.1 617.3,490.8 620.4,520.2 623.4,534.9" fill="none" stroke="#0034ff" stroke-width="1" stroke-linejoin="round"/>
<polyline points="127.1,149.8 130.1,105.4 133.2,94.8 136.2,100.2 139.3,111.3 142.3,122 145.4,129 148.4,134.7 151.5,139.9 154.5,150.9 157.6,155.4 160.6,162.3 163.6,164.2 166.7,179.8 169.7,173.1 172.8,184.2 175.8,189.2 178.9,189.2 181.9,190.5 185,196.5 188,196.3 191,201 194.1,197.1 197.1,194.3 200.2,197 203.2,188.3 206.3,189.9 209.3,186.1 212.4,182 215.4,167 218.4,145.6 221.5,136.2 224.5,117.9 227.6,113 230.6,116.2 233.7,137.2 236.7,145.6 239.8,156.7 242.8,171.4 245.9,175.8 248.9,192.7 251.9,189.7 255,202.8 258,203.8 261.1,218.5 264.1,213.2 267.2,219.3 270.2,216.7 273.3,224.3 276.3,224.2 279.4,213.5 282.4,224.9 285.4,224.4 288.5,222.8 291.5,225.5 294.6,217.3 297.6,215.4 300.7,224.3 303.7,228 306.8,217.2 309.8,217.2 312.8,218.2 315.9,217.2 318.9,224.3 322,221.9 325,226.4 328.1,226.7 331.1,218 334.2,224.2 337.2,213.7 340.2,222.2 343.3,225.5 346.3,221 349.4,217.7 352.4,223.1 355.5,230.4 358.5,225.2 361.6,222.3 364.6,229.8 367.7,231.5 370.7,225.4 373.7,229.6 376.8,235 379.8,232.9 382.9,235.1 385.9,232 389,233.2 392,230.4 395.1,232.7 398.1,241.6 401.1,234.8 404.2,234 407.2,236.5 410.3,235.1 413.3,241.5 416.4,243.6 419.4,237 422.5,244.6 425.5,249.2 428.6,237.7 431.6,244.4 434.6,243.4 437.7,247.7 440.7,247.3 443.8,247 446.8,244.3 449.9,241.8 452.9,252.2 456,241.3 459,248.6 462,248.6 465.1,242.6 468.1,245.3 471.2,251.2 474.2,239.2 477.3,249.8 480.3,246.3 483.4,247.3 486.4,243.3 489.5,251.3 492.5,247.1 495.5,255.3 498.6,250 501.6,258.7 504.7,259.4 507.7,252.5 510.8,260.2 513.8,263 516.9,257.3 519.9,266.6 523,273.7 526,270.7 529,280.1 532.1,274.2 535.1,277 538.2,286.5 541.2,290.2 544.3,291 547.3,295.8 550.4,303.5 553.4,302.1 556.4,316.4 559.5,315.4 562.5,320.6 565.6,325.9 568.6,329.4 571.7,340.5 574.7,339.2 577.8,347.5 580.8,355 583.9,363.4 586.9,369 589.9,370 593,382.9 596,388.8 599.1,395.8 602.1,407.8 605.2,418.7 608.2,439 611.3,455.2 614.3,462.9 617.3,487.7 620.4,514.3 623.4,537.7" fill="none" stroke="#0070ff" stroke-width="1" stroke-linejoin="round"/>
<polyline points="127.1,152.6 130.1,109 133.2,96.7 136.2,107.2 139.3,114.4 142.3,127.6 145.4,139.1 148.4,148.8 151.5,149.6 154.5,161.2 157.6,159.6 160.6,166 163.6,175.4 166.7,182.8 169.7,189 172.8,181 175.8,196.6 178.9,189.7 181.9,196.7 185,203 188,207.7 191,200.8 194.1,198.3 197.1,205.3 200.2,199.7 203.2,191.8 206.3,190.6 209.3,179.5 212.4,180.6 215.4,163.1 218.4,150.9 221.5,121 224.5,119.3 227.6,117.6 230.6,112 233.7,123.7 236.7,131.9 239.8,153.8 242.8,161.3 245.9,166.1 248.9,169.6 251.9,183.5 255,187.4 258,196 261.1,203.7 264.1,206.3 267.2,210 270.2,215.5 273.3,209.2 276.3,220.1 279.4,211.8 282.4,213.6 285.4,218.7 288.5,222 291.5,221 294.6,219.3 297.6,219.5 300.7,222.2 303.7,220.6 306.8,226.9 309.8,224.9 312.8,232.1 315.9,223.9 318.9,226.4 322,229 325,223.8 328.1,225.5 331.1,238.7 334.2,228.3 337.2,234.2 340.2,225 343.3,220.3 346.3,231.8 349.4,229.9 352.4,231.7 355.5,230.1 358.5,229.1 361.6,227.2 364.6,235.8 367.7,226.8 370.7,236.3 373.7,232.3 376.8,229.5 379.8,231.7 382.9,238 385.9,237.6 389,237.6 392,236.1 395.1,232 398.1,241.2 401.1,234.7 404.2,234 407.2,234.3 410.3,234.5 413.3,230.8 416.4,234.4 419.4,232.7 422.5,233 425.5,227.9 428.6,241.1 431.6,229 434.6,234.2 437.7,234 440.7,236.3 443.8,239.5 446.8,233.7 449.9,234.9 452.9,231.1 456,238.9 459,228.6 462,233.5 465.1,236.4 468.1,239.2 471.2,240.5 474.2,243.6 477.3,243 480.3,242.6 483.4,245.8 486.4,252.9 489.5,251.7 492.5,257.1 495.5,256.3 498.6,253 501.6,260.9 504.7,267.7 507.7,275.9 510.8,278.3 513.8,282.3 516.9,276.3 519.9,285 523,284.9 526,290.7 529,291.2 532.1,289.8 535.1,300.7 538.2,302.5 541.2,307.9 544.3,305.6 547.3,316.8 550.4,321.6 553.4,327.4 556.4,332.7 559.5,331 562.5,328.3 565.6,346.5 568.6,344.8 571.7,353.1 574.7,364 577.8,367.3 580.8,374 583.9,383.3 586.9,382 589.9,405.1 593,405.9 596,415.2 599.1,428 602.1,435.1 605.2,442 608.2,454.7 611.3,465.3 614.3,479 617.3,510.1 620.4,517.6 623.4,529.3" fill="none" stroke="#00acff" stroke-width="1" stroke-linejoin="round"/>
<polyline points="127.1,162.9 130.1,123.5 133.2,114.5 136.2,111.3 139.3,120.4 142.3,128.1 145.4,131.7 148.4,138.7 151.5,141.9 154.5,149 157.6,158.8 160.6,163.7 163.6,171.2 166.7,177.1 169.7,182.6 172.8,191 175.8,200.5 178.9,199.5 181.9,208.3 185,203.7 188,206.1 191,214.2 194.1,205.7 197.1,202.7 200.2,203.2 203.2,194.9 206.3,191.1 209.3,197.9 212.4,181.9 215.4,171.3 218.4,154.6 221.5,137.7 224.5,135.5 227.6,131 230.6,134.1 233.7,141.9 236.7,152 239.8,168.5 242.8,175.4 245.9,176.8 248.9,186.3 251.9,192.5 255,208.4 258,210.7 261.1,214.9 264.1,216.4 267.2,221.8 270.2,217.9 273.3,222.5 276.3,223 279.4,223.8 282.4,221.8 285.4,226.9 288.5,221.7 291.5,224.7 294.6,226.6 297.6,227.4 300.7,226 303.7,224.5 306.8,225.4 309.8,228 312.8,226.6 315.9,229.4 318.9,225.3 322,230.1 325,237.9 328.1,225.5 331.1,229.7 334.2,234.6 337.2,231.1 340.2,233.3 343.3,222.2 346.3,228.1 349.4,235.5 352.4,227.3 355.5,230.4 358.5,221.6 361.6,232.2 364.6,236.4 367.7,227.8 370.7,228.9 373.7,228.9 376.8,235.2 379.8,225.8 382.9,221.3 385.9,234.2 389,223.3 392,229.6 395.1,219.1 398.1,226.2 401.1,228.7 404.2,224.3 407.2,226.9 410.3,232 413.3,227.8 416.4,232.9 419.4,237.9 422.5,224.5 425.5,233.7 428.6,235.2 431.6,232 434.6,239.2 437.7,238.9 440.7,236.2 443.8,236.8 446.8,234.8 449.9,230.9 452.9,237 456,234.2 459,234.1 462,240.6 465.1,236.3 468.1,241.1 471.2,234 474.2,236.6 477.3,238.8 480.3,244.3 483.4,239.6 486.4,243.5 489.5,238.7 492.5,242.6 495.5,246.7 498.6,242 501.6,244.6 504.7,251.5 507.7,246.9 510.8,254.6 513.8,256.8 516.9,258 519.9,264.5 523,266.9 526,269.2 529,266.2 532.1,269.7 535.1,279.1 538.2,275.8 541.2,285.6 544.3,288.2 547.3,290.6 550.4,297.2 553.4,293.7 556.4,306 559.5,315.9 562.5,311.3 565.6,322.8 568.6,327.7 571.7,343 574.7,333.4 577.8,339.1 580.8,344.2 583.9,348.9 586.9,352.2 589.9,364.8 593,368.6 596,384.6 599.1,394 602.1,400.8 605.2,416.7 608.2,437.5 611.3,445.6 614.3,463.5 617.3,487.9 620.4,515.3 623.4,539.2" fill="none" stroke="#00e8ff" stroke-width="1" stroke-linejoin="round"/>
<polyline points="127.1,160.3 130.1,116.5 133.2,103.2 136.2,111.8 139.3,121.2 142.3,126.4 145.4,133.2 148.4,150.6 151.5,161.3 154.5,161.1 157.6,163.7 160.6,166.1 163.6,169.5 166.7,177.7 169.7,184.1 172.8,184.6 175.8,192 178.9,191.6 181.9,196.5 185,186.7 188,195 191,201.6 194.1,202.1 197.1,196.8 200.2,197.8 203.2,191.5 206.3,187.8 209.3,176.8 212.4,173.4 215.4,161.4 218.4,145.7 221.5,127.4 224.5,111.3 227.6,105.4 230.6,103.5 233.7,122.3 236.7,132.6 239.8,148.8 242.8,158.8 245.9,173.5 248.9,178.2 251.9,179.3 255,185.2 258,196.6 261.1,199.6 264.1,208.5 267.2,211.6 270.2,215 273.3,210.5 276.3,214.1 279.4,217.5 282.4,219 285.4,216.5 288.5,218.1 291.5,223.2 294.6,214.4 297.6,221 300.7,222.4 303.7,217.5 306.8,219.8 309.8,224.8 312.8,223 315.9,229.7 318.9,228.5 322,234.8 325,222.6 328.1,234.4 331.1,225 334.2,231.1 337.2,232 340.2,229.5 343.3,228 346.3,227.1 349.4,223.1 352.4,228.4 355.5,227 358.5,232.5 361.6,228.2 364.6,230.9 367.7,233.7 370.7,232.9 373.7,232.8 376.8,232 379.8,231.7 382.9,235.2 385.9,236.4 389,231.1 392,240.4 395.1,236.5 398.1,228.8 401.1,244.5 404.2,237.3 407.2,232.5 410.3,241.6 413.3,226.5 416.4,245.9 419.4,231.2 422.5,230.7 425.5,233.6 428.6,238.1 431.6,235.9 434.6,240.5 437.7,234.5 440.7,241.3 443.8,238.3 446.8,234.2 449.9,242.7 452.9,240.8 456,239.9 459,246.2 462,238 465.1,241.9 468.1,249.7 471.2,245.5 474.2,249.3 477.3,250.8 480.3,250.2 483.4,255.7 486.4,252.1 489.5,261.2 492.5,257.7 495.5,264.4 498.6,264.5 501.6,273.1 504.7,276.3 507.7,282.6 510.8,279.7 513.8,282.1 516.9,281.3 519.9,287.9 523,295 526,301 529,302.8 532.1,308.3 535.1,306.3 538.2,311.8 541.2,321.9 544.3,325.6 547.3,322.6 550.4,331.2 553.4,337.8 556.4,337.2 559.5,347.6 562.5,351.9 565.6,357.9 568.6,368.9 571.7,364.3 574.7,378.6 577.8,383.8 580.8,392.7 583.9,396.3 586.9,409.2 589.9,419.6 593,435.8 596,437.2 599.1,449.5 602.1,450.4 605.2,458.2 608.2,468.8 611.3,472.2 614.3,493 617.3,509.3 620.4,525.3 623.4,538.4" fill="none" stroke="#25ffd9" stroke-width="1" stroke-linejoin="round"/>
<polyline points="127.1,177.9 130.1,139.1 133.2,135.7 136.2,130.8 139.3,138.1 142.3,143.2 145.4,152.2 148.4,163 151.5,162.6 154.5,169.5 157.6,167.5 160.6,176.8 163.6,176.4 166.7,185.3 169.7,189.1 172.8,195.9 175.8,199.5 178.9,200.8 181.9,203.1 185,212.1 188,209.1 191,201.9 194.1,211.8 197.1,209.3 200.2,207.9 203.2,207.6 206.3,194.3 209.3,193.2 212.4,184.1 215.4,165.2 218.4,144.1 221.5,138.1 224.5,117.7 227.6,111.7 230.6,115.5 233.7,127.3 236.7,146.3 239.8,154.4 242.8,166.6 245.9,174.9 248.9,178.6 251.9,187.9 255,197.4 258,204.3 261.1,203.8 264.1,212.3 267.2,217.3 270.2,221.9 273.3,221 276.3,224.5 279.4,220.9 282.4,221 285.4,229.7 288.5,222.5 291.5,220.1 294.6,222.3 297.6,226.2 300.7,218.2 303.7,225.7 306.8,227.5 309.8,226.7 312.8,222.7 315.9,218.9 318.9,217.6 322,220.7 325,225.7 328.1,223.5 331.1,224.1 334.2,221.4 337.2,227.2 340.2,220.3 343.3,218.3 346.3,221.2 349.4,219 352.4,224.5 355.5,226.2 358.5,223.8 361.6,217 364.6,217.4 367.7,223.3 370.7,217.4 373.7,223.9 376.8,217.6 379.8,221.8 382.9,225.5 385.9,221.4 389,227.3 392,228.5 395.1,230.2 398.1,224.6 401.1,226.1 404.2,226.4 407.2,227.7 410.3,221.5 413.3,228.8 416.4,230.4 419.4,223.3 422.5,222.7 425.5,226.8 428.6,234.5 431.6,230.6 434.6,226.6 437.7,229.2 440.7,223.6 443.8,234.6 446.8,227.4 449.9,232.5 452.9,225.8 456,231.5 459,228 462,234.9 465.1,237.9 468.1,237.3 471.2,236.3 474.2,238.9 477.3,231.7 480.3,232.2 483.4,237 486.4,243.3 489.5,241.2 492.5,244.8 495.5,238.7 498.6,244.3 501.6,245.8 504.7,251 507.7,259.5 510.8,257 513.8,260.8 516.9,258 519.9,262.1 523,268.2 526,269.7 529,265.5 532.1,278 535.1,280.9 538.2,281.4 541.2,286.7 544.3,289.6 547.3,290.1 550.4,289.9 553.4,307.1 556.4,304.9 559.5,309.1 562.5,314.5 565.6,320.5 568.6,326.8 571.7,327.5 574.7,338.4 577.8,342.6 580.8,347.8 583.9,353.4 586.9,360.3 589.9,362.3 593,373.6 596,382.7 599.1,394.3 602.1,409.8 605.2,422.6 608.2,437.6 611.3,447.2 614.3,466.3 617.3,489.6 620.4,516.3 623.4,535.8" fill="none" stroke="#61ff9d" stroke-width="1" stroke-linejoin="round"/>
<polyline points="127.1,154.6 130.1,118.3 133.2,102.9 136.2,103.6 139.3,114 142.3,125.7 145.4,136.1 148.4,138.2 151.5,146.7 154.5,150.5 157.6,159.7 160.6,164.6 163.6,168.6 166.7,178.7 169.7,185 172.8,186.1 175.8,184.8 178.9,191.9 181.9,191.3 185,200.8 188,204.2 191,209.8 194.1,207.6 197.1,197.9 200.2,199.8 203.2,196.2 206.3,193.7 209.3,192.3 212.4,185.7 215.4,172 218.4,152.7 221.5,137.4 224.5,126.8 227.6,122.2 230.6,128.6 233.7,138.4 236.7,157.2 239.8,163.7 242.8,184.2 245.9,184.4 248.9,182.1 251.9,199.9 255,210.7 258,212.8 261.1,212 264.1,221.2 267.2,220.9 270.2,223.8 273.3,226.4 276.3,213.6 279.4,225.1 282.4,226.9 285.4,226.8 288.5,223.7 291.5,223.5 294.6,221.6 297.6,223.9 300.7,229.8 303.7,222.6 306.8,225.5 309.8,225.2 312.8,229.5 315.9,226.6 318.9,227.2 322,224.7 325,229.7 328.1,224.4 331.1,224.5 334.2,229.1 337.2,227.6 340.2,229.1 343.3,222.8 346.3,235.9 349.4,228.2 352.4,233.6 355.5,229.8 358.5,225.6 361.6,231.4 364.6,229.1 367.7,233.1 370.7,223.5 373.7,227.5 376.8,227 379.8,236.7 382.9,236.2 385.9,228.9 389,233.5 392,234.1 395.1,232 398.1,237.7 401.1,230.2 404.2,233.2 407.2,231.5 410.3,235.4 413.3,230.6 416.4,235.2 419.4,229.1 422.5,228 425.5,227.9 428.6,229 431.6,228.3 434.6,240.2 437.7,226.8 440.7,230.4 443.8,228.7 446.8,230.3 449.9,234.8 452.9,232 456,228.2 459,226.7 462,235 465.1,236.8 468.1,229.2 471.2,239.1 474.2,229.8 477.3,238.8 480.3,244.1 483.4,239 486.4,238.6 489.5,252.7 492.5,244.5 495.5,254.2 498.6,250.8 501.6,260.5 504.7,267.5 507.7,262.8 510.8,264.2 513.8,263.3 516.9,267.7 519.9,274.8 523,281.6 526,285.6 529,287.6 532.1,293 535.1,294.3 538.2,306.2 541.2,299.6 544.3,304.2 547.3,298.7 550.4,309.4 553.4,318.5 556.4,319.4 559.5,331.4 562.5,334.4 565.6,344.2 568.6,337.1 571.7,345.3 574.7,357.2 577.8,358.5 580.8,360.6 583.9,368.7 586.9,376.5 589.9,389.1 593,397 596,403.7 599.1,410.9 602.1,428.3 605.2,440.7 608.2,443.5 611.3,463.2 614.3,470.5 617.3,495.8 620.4,517.9 623.4,531.3" fill="none" stroke="#9dff61" stroke-width="1" stroke-linejoin="round"/>
<polyline points="127.1,165.3 130.1,136.1 133.2,128.5 136.2,125.7 139.3,137.2 142.3,138.2 145.4,151.2 148.4,149.9 151.5,155.9 154.5,167.2 157.6,171.5 160.6,179.5 163.6,182.2 166.7,184.5 169.7,199.1 172.8,194.6 175.8,207 178.9,208.7 181.9,215.8 185,204.2 188,213.7 191,214.3 194.1,217.6 197.1,208.1 200.2,216.7 203.2,206 206.3,194.7 209.3,199.5 212.4,189.7 215.4,174.4 218.4,162.5 221.5,143.9 224.5,131.2 227.6,129.3 230.6,131.3 233.7,142.9 236.7,154 239.8,167.1 242.8,170.2 245.9,179.8 248.9,190.8 251.9,206.8 255,203 258,209.3 261.1,219.8 264.1,227.5 267.2,226.9 270.2,221.1 273.3,229 276.3,227.4 279.4,225.1 282.4,221.3 285.4,226.5 288.5,226.6 291.5,228.2 294.6,219.7 297.6,221.5 300.7,225.3 303.7,229.7 306.8,227.2 309.8,221.7 312.8,226.3 315.9,220.1 318.9,221.5 322,221.5 325,219.9 328.1,220.2 331.1,225.1 334.2,223.1 337.2,213.5 340.2,227 343.3,224.7 346.3,219.6 349.4,224.8 352.4,227.6 355.5,230 358.5,223.8 361.6,222.8 364.6,222 367.7,227.6 370.7,224.8 373.7,232.8 376.8,229 379.8,232.7 382.9,230.4 385.9,228.8 389,228.2 392,236.2 395.1,227.8 398.1,234.4 401.1,236.4 404.2,233.3 407.2,237.8 410.3,232.1 413.3,231.1 416.4,232.5 419.4,229.5 422.5,232.1 425.5,230.8 428.6,236 431.6,230.1 434.6,233.6 437.7,232.1 440.7,230.6 443.8,229.8 446.8,236.9 449.9,236.7 452.9,232.2 456,230.1 459,231.2 462,230 465.1,229.1 468.1,232.9 471.2,235.9 474.2,241 477.3,242.1 480.3,241.6 483.4,240.2 486.4,241.9 489.5,244.2 492.5,246.3 495.5,245.2 498.6,248.9 501.6,250.7 504.7,252.9 507.7,257.9 510.8,261.7 513.8,258.1 516.9,260.6 519.9,265.7 523,269.4 526,262.1 529,275.7 532.1,276.3 535.1,277.1 538.2,285.5 541.2,284.5 544.3,282.2 547.3,289.7 550.4,294.8 553.4,299.4 556.4,305.7 559.5,307.6 562.5,317.3 565.6,324.2 568.6,328.2 571.7,331 574.7,338.9 577.8,343.5 580.8,359.5 583.9,353.9 586.9,355.8 589.9,366.3 593,380.3 596,392 599.1,398.5 602.1,415.1 605.2,421.7 608.2,439.7 611.3,447.6 614.3,461.6 617.3,496.2 620.4,517.3 623.4,540.3" fill="none" stroke="#d9ff25" stroke-width="1" stroke-linejoin="round"/>
<polyline points="127.1,151.5 130.1,116.1 133.2,109.7 136.2,105.2 139.3,116.5 142.3,121.7 145.4,135.9 148.4,138.3 151.5,149.8 154.5,150.2 157.6,155.2 160.6,157.6 163.6,165.9 166.7,173.3 169.7,174.5 172.8,181.4 175.8,183.7 178.9,186 181.9,192.7 185,196.5 188,196.6 191,200.4 194.1,197.8 197.1,192.5 200.2,190.9 203.2,192.6 206.3,192.7 209.3,183.7 212.4,176 215.4,158.6 218.4,145.9 221.5,126.9 224.5,110.1 227.6,106.9 230.6,109.3 233.7,116.7 236.7,136.2 239.8,154.7 242.8,165.8 245.9,178.5 248.9,180.8 251.9,191.2 255,199 258,208.8 261.1,212.6 264.1,217.4 267.2,219.5 270.2,217.7 273.3,223 276.3,231.9 279.4,230.4 282.4,233.5 285.4,230.8 288.5,226.3 291.5,227.4 294.6,231.2 297.6,228.2 300.7,231.9 303.7,234.3 306.8,233.9 309.8,231.9 312.8,223.1 315.9,232.8 318.9,222.6 322,221.9 325,226.4 328.1,225.6 331.1,227.1 334.2,224.3 337.2,221.3 340.2,223 343.3,218.8 346.3,218 349.4,220.9 352.4,221.2 355.5,222.2 358.5,220.6 361.6,225.9 364.6,220.7 367.7,221.9 370.7,226.1 373.7,215.5 376.8,227.5 379.8,227.6 382.9,224 385.9,232.9 389,229.6 392,232.7 395.1,231.3 398.1,229.4 401.1,228.9 404.2,227 407.2,229.1 410.3,228.5 413.3,231.6 416.4,236.1 419.4,231 422.5,237.3 425.5,238.5 428.6,231.1 431.6,234.2 434.6,236.7 437.7,235.3 440.7,235.2 443.8,243.9 446.8,239.6 449.9,244.5 452.9,240.1 456,243.5 459,236.5 462,240.3 465.1,246.2 468.1,244.3 471.2,249.7 474.2,246.3 477.3,245.2 480.3,247.5 483.4,257.2 486.4,253 489.5,251.7 492.5,254.8 495.5,254.3 498.6,266.1 501.6,262.5 504.7,269.9 507.7,269.8 510.8,271.7 513.8,274.3 516.9,282.5 519.9,283.4 523,291.5 526,295.6 529,291.5 532.1,297.3 535.1,306.6 538.2,307 541.2,307.1 544.3,304.8 547.3,310.1 550.4,314.2 553.4,327.4 556.4,325.1 559.5,327.1 562.5,332 565.6,336.5 568.6,343.3 571.7,340.4 574.7,346 577.8,356.8 580.8,365.2 583.9,359.7 586.9,376.4 589.9,377.6 593,383.5 596,403.5 599.1,409.4 602.1,423 605.2,431.7 608.2,444.1 611.3,450.5 614.3,470.3 617.3,494.8 620.4,516.5 623.4,538.9" fill="none" stroke="#ffe800" stroke-width="1" stroke-linejoin="round"/>
<polyline points="127.1,148.2 130.1,118.8 133.2,111.5 136.2,118.2 139.3,120.3 142.3,142.8 145.4,149.8 148.4,153.1 151.5,164.4 154.5,158.8 157.6,165.2 160.6,177.1 163.6,183.8 166.7,192.5 169.7,197.5 172.8,194.7 175.8,197.7 178.9,201.6 181.9,204.9 185,210.6 188,208.6 191,216.4 194.1,210.6 197.1,202.1 200.2,199.6 203.2,203.1 206.3,198.6 209.3,187.2 212.4,177.5 215.4,177.1 218.4,156.7 221.5,141 224.5,131.5 227.6,137.1 230.6,133.3 233.7,142.5 236.7,143.1 239.8,160.4 242.8,169.9 245.9,177.6 248.9,179.5 251.9,188.7 255,203.2 258,204.6 261.1,215 264.1,217.4 267.2,222.5 270.2,224.4 273.3,223 276.3,224.8 279.4,219.6 282.4,219.5 285.4,224.1 288.5,227.6 291.5,220.8 294.6,231.9 297.6,231.6 300.7,221.9 303.7,222.8 306.8,222.1 309.8,227 312.8,231.7 315.9,229.1 318.9,225.3 322,230.2 325,230.6 328.1,233.5 331.1,233.2 334.2,225.9 337.2,227.7 340.2,234 343.3,234.1 346.3,232.4 349.4,228.5 352.4,234.8 355.5,231.2 358.5,238.8 361.6,235.5 364.6,229.6 367.7,228.1 370.7,236 373.7,234.6 376.8,229 379.8,233.5 382.9,233.7 385.9,229.9 389,230.8 392,227.4 395.1,229 398.1,234.2 401.1,232.4 404.2,232.5 407.2,237 410.3,235.8 413.3,228.8 416.4,238.7 419.4,229.5 422.5,232.6 425.5,234.7 428.6,232.4 431.6,232.9 434.6,230.6 437.7,236.8 440.7,237 443.8,237.4 446.8,230.3 449.9,234.5 452.9,242.4 456,241.2 459,243.9 462,242.1 465.1,242.5 468.1,235.9 471.2,252.3 474.2,242.9 477.3,246.2 480.3,251.9 483.4,251.1 486.4,253.6 489.5,252.7 492.5,250.8 495.5,262 498.6,253.5 501.6,261.7 504.7,256.5 507.7,262.6 510.8,261 513.8,265.5 516.9,265.9 519.9,271.5 523,277.1 526,274.2 529,276.1 532.1,273.5 535.1,291.2 538.2,287.1 541.2,285.5 544.3,297.5 547.3,297.5 550.4,292.9 553.4,299.7 556.4,312.8 559.5,309.1 562.5,315.3 565.6,322.4 568.6,329.6 571.7,335.6 574.7,345.1 577.8,349.3 580.8,350.4 583.9,358.3 586.9,358.2 589.9,373.1 593,388.7 596,390.8 599.1,399.2 602.1,410.7 605.2,424.7 608.2,441.3 611.3,446 614.3,469.5 617.3,486.5 620.4,519.7 623.4,542.2" fill="none" stroke="#ffac00" stroke-width="1" stroke-linejoin="round"/>
<polyline points="127.1,158.2 130.1,119.5 133.2,105.9 136.2,112.5 139.3,116.7 142.3,123.6 145.4,139.8 148.4,136.7 151.5,145.3 154.5,148.8 157.6,160.2 160.6,160 163.6,167.8 166.7,177.1 169.7,171.5 172.8,182.2 175.8,188.7 178.9,190.6 181.9,190.8 185,192.9 188,196.9 191,195.5 194.1,194.2 197.1,201.4 200.2,195.8 203.2,194.7 206.3,187.1 209.3,177.3 212.4,172.2 215.4,165.5 218.4,145.8 221.5,125.7 224.5,123.6 227.6,118 230.6,118.5 233.7,134.8 236.7,138.2 239.8,151.6 242.8,159.1 245.9,172.5 248.9,179.4 251.9,186.7 255,192 258,199.7 261.1,204.2 264.1,202 267.2,207.6 270.2,216.9 273.3,218 276.3,210.4 279.4,218.4 282.4,212.8 285.4,212.6 288.5,221 291.5,220.2 294.6,219 297.6,222.6 300.7,223.2 303.7,221.1 306.8,217 309.8,221.7 312.8,220.8 315.9,222.2 318.9,225.4 322,215 325,229.2 328.1,223.3 331.1,219.1 334.2,226.7 337.2,219.7 340.2,218 343.3,226.3 346.3,223.2 349.4,228.2 352.4,223.1 355.5,225.6 358.5,225.8 361.6,222.5 364.6,226.9 367.7,224.5 370.7,228 373.7,235.6 376.8,231.5 379.8,231.4 382.9,239.5 385.9,230.1 389,235.4 392,234.7 395.1,239.8 398.1,236.8 401.1,236.8 404.2,240.1 407.2,239 410.3,247.6 413.3,235.4 416.4,245.1 419.4,249.5 422.5,245.1 425.5,244.9 428.6,239.6 431.6,245.1 434.6,241.1 437.7,245.5 440.7,233.8 443.8,240.2 446.8,234.8 449.9,245.9 452.9,239.7 456,245.9 459,240.5 462,240.2 465.1,248.7 468.1,247.1 471.2,247.1 474.2,248.7 477.3,245.8 480.3,246.8 483.4,249.2 486.4,243.8 489.5,242.8 492.5,250.7 495.5,249.2 498.6,248.6 501.6,250.8 504.7,254.3 507.7,250.6 510.8,252.5 513.8,255.4 516.9,261.1 519.9,255.8 523,259.1 526,269.6 529,271.4 532.1,269.9 535.1,280.5 538.2,279.7 541.2,284.8 544.3,291.7 547.3,294.6 550.4,304.1 553.4,305.1 556.4,315.2 559.5,304.4 562.5,312.8 565.6,319.6 568.6,328.8 571.7,331.9 574.7,336.4 577.8,343 580.8,349.3 583.9,362.1 586.9,363.3 589.9,373.7 593,384.1 596,393.7 599.1,398.5 602.1,408.1 605.2,429.9 608.2,431.7 611.3,446 614.3,468.3 617.3,490.7 620.4,518.7 623.4,534.1" fill="none" stroke="#ff7000" stroke-width="1" stroke-linejoin="round"/>
<polyline points="127.1,145.2 130.1,104.1 133.2,103.5 136.2,97 139.3,109.9 142.3,124.4 145.4,135.7 148.4,136.1 151.5,142.9 154.5,147.3 157.6,164 160.6,169 163.6,170.8 166.7,185.7 169.7,189.2 172.8,198.2 175.8,189.4 178.9,196.7 181.9,203.3 185,207.9 188,212.9 191,214.6 194.1,211.5 197.1,214 200.2,204.6 203.2,208.6 206.3,207.2 209.3,194.6 212.4,192.2 215.4,176.7 218.4,162.2 221.5,151.6 224.5,128.8 227.6,128.9 230.6,122.5 233.7,143.7 236.7,161.3 239.8,166.7 242.8,175 245.9,183.4 248.9,194.5 251.9,194.2 255,209.9 258,212.3 261.1,217.3 264.1,218.8 267.2,216.8 270.2,222.9 273.3,218.7 276.3,218.2 279.4,226.5 282.4,224.2 285.4,220.7 288.5,220.7 291.5,216.9 294.6,225 297.6,214.6 300.7,213.9 303.7,216.7 306.8,221 309.8,215.4 312.8,217 315.9,212.3 318.9,214.5 322,211.5 325,215.3 328.1,208.5 331.1,222.4 334.2,217.7 337.2,212.7 340.2,220.2 343.3,212.3 346.3,220 349.4,216.1 352.4,220.2 355.5,219.1 358.5,217.4 361.6,218.7 364.6,220.5 367.7,211.8 370.7,220.4 373.7,224.9 376.8,218.9 379.8,220.2 382.9,219.5 385.9,218.5 389,229.8 392,223.1 395.1,223.9 398.1,229.3 401.1,229.1 404.2,242 407.2,234.2 410.3,226.7 413.3,241 416.4,237.4 419.4,235.2 422.5,235 425.5,231.7 428.6,245.4 431.6,239.6 434.6,237.7 437.7,246.5 440.7,242.7 443.8,236.6 446.8,239.2 449.9,243 452.9,255.4 456,247.1 459,246.3 462,249.2 465.1,249.2 468.1,238.3 471.2,251.2 474.2,254.8 477.3,251.4 480.3,254.4 483.4,255.6 486.4,256.4 489.5,254.5 492.5,258.2 495.5,265.2 498.6,263.3 501.6,262.7 504.7,268.3 507.7,264.6 510.8,268.2 513.8,276.9 516.9,274.5 519.9,270.7 523,274.9 526,283.8 529,283.3 532.1,291.8 535.1,298.1 538.2,294.7 541.2,299.6 544.3,302.7 547.3,308.9 550.4,312.1 553.4,319.8 556.4,321.4 559.5,325.6 562.5,334.5 565.6,336.6 568.6,351.3 571.7,353.2 574.7,350.6 577.8,355.3 580.8,367.2 583.9,375.5 586.9,387.6 589.9,390 593,397.4 596,415 599.1,417.5 602.1,428.2 605.2,438.9 608.2,455.2 611.3,460.9 614.3,483 617.3,493.9 620.4,521.5 623.4,542" fill="none" stroke="#ff3400" stroke-width="1" stroke-linejoin="round"/>
<polyline points="127.1,166.6 130.1,124.5 133.2,102.2 136.2,117.2 139.3,118.6 142.3,126.7 145.4,144.6 148.4,144.8 151.5,149.9 154.5,158.1 157.6,158.5 160.6,171.3 163.6,183.3 166.7,185.4 169.7,194.4 172.8,202.8 175.8,206.9 178.9,197.8 181.9,212.3 185,213.8 188,218.5 191,217 194.1,218.4 197.1,216 200.2,215.9 203.2,213.6 206.3,207.4 209.3,198.3 212.4,182.8 215.4,172.8 218.4,151.6 221.5,139.3 224.5,130 227.6,127.8 230.6,124.3 233.7,141.8 236.7,149.2 239.8,153.9 242.8,166.6 245.9,170.2 248.9,182.5 251.9,193.3 255,197.2 258,202.7 261.1,201.2 264.1,202.3 267.2,215.2 270.2,215.3 273.3,216.2 276.3,218 279.4,222.4 282.4,218.1 285.4,218.1 288.5,218.8 291.5,225.4 294.6,222.2 297.6,229.3 300.7,220.4 303.7,228 306.8,225.8 309.8,227.2 312.8,228.5 315.9,230.6 318.9,233.9 322,221.3 325,227.1 328.1,227.6 331.1,220.9 334.2,229.3 337.2,227.1 340.2,229.5 343.3,225.3 346.3,228 349.4,228.8 352.4,231.1 355.5,229.3 358.5,226.1 361.6,238.2 364.6,231.4 367.7,232.5 370.7,232.4 373.7,238.7 376.8,229.4 379.8,235.7 382.9,234.1 385.9,235.6 389,240.3 392,236.6 395.1,242.7 398.1,239.8 401.1,238.4 404.2,238.1 407.2,239 410.3,240.3 413.3,232.8 416.4,239.9 419.4,246.4 422.5,244.5 425.5,245.3 428.6,244.1 431.6,246 434.6,247.1 437.7,237.7 440.7,244 443.8,245 446.8,244.6 449.9,244.5 452.9,238.4 456,241.6 459,239.1 462,254.5 465.1,241.4 468.1,238.4 471.2,235.1 474.2,242.2 477.3,248.5 480.3,240.1 483.4,244.5 486.4,249.1 489.5,245.5 492.5,240.2 495.5,241.2 498.6,244.5 501.6,252.2 504.7,240.7 507.7,255.5 510.8,253 513.8,260.2 516.9,251.8 519.9,257.1 523,257.8 526,263.2 529,265.9 532.1,267.3 535.1,278.4 538.2,271.3 541.2,275.4 544.3,284.9 547.3,288.2 550.4,291.8 553.4,292.3 556.4,301.9 559.5,309.2 562.5,317.5 565.6,327.6 568.6,330.7 571.7,334.5 574.7,342 577.8,347.4 580.8,351.7 583.9,359.8 586.9,366.8 589.9,372.5 593,382.4 596,392.9 599.1,401.6 602.1,421.4 605.2,423 608.2,445.1 611.3,450.2 614.3,468.5 617.3,486.7 620.4,518.9 623.4,541" fill="none" stroke="#f70000" stroke-width="1" stroke-linejoin="round"/>
<polyline points="127.1,162.7 130.1,118.3 133.2,120.1 136.2,115.5 139.3,122 142.3,137.5 145.4,149.8 148.4,147.1 151.5,154.4 154.5,165.2 157.6,164.4 160.6,170.9 163.6,186.4 166.7,178.3 169.7,196.7 172.8,198.1 175.8,205.3 178.9,204.2 181.9,212.5 185,210.6 188,208.5 191,212.8 194.1,214.3 197.1,204.7 200.2,210.7 203.2,200.4 206.3,201.4 209.3,194.4 212.4,186.8 215.4,173.1 218.4,155.9 221.5,142 224.5,130.1 227.6,120.2 230.6,124.5 233.7,138.4 236.7,151.6 239.8,164 242.8,169.9 245.9,175.2 248.9,182.1 251.9,192.2 255,197.2 258,208.1 261.1,218 264.1,210.6 267.2,219 270.2,217.3 273.3,218.6 276.3,212 279.4,218.9 282.4,213.1 285.4,215.7 288.5,218.5 291.5,219.5 294.6,212 297.6,212.1 300.7,210.5 303.7,206.8 306.8,212.7 309.8,212.5 312.8,214.2 315.9,213.8 318.9,215.8 322,217.8 325,207.5 328.1,222.3 331.1,214.7 334.2,214.7 337.2,216.7 340.2,221.4 343.3,219.2 346.3,220.9 349.4,224 352.4,220.8 355.5,222.6 358.5,223.8 361.6,219.5 364.6,226.7 367.7,221.6 370.7,226.1 373.7,222.5 376.8,224.4 379.8,224.1 382.9,229.2 385.9,228.8 389,229.6 392,225.8 395.1,224 398.1,223.1 401.1,229.2 404.2,227.2 407.2,233.9 410.3,236 413.3,231.6 416.4,231.4 419.4,234.8 422.5,236 425.5,227.8 428.6,233 431.6,236.4 434.6,221.9 437.7,230.3 440.7,232.3 443.8,229 446.8,234.8 449.9,226.9 452.9,238.9 456,238.7 459,235 462,237.9 465.1,230.9 468.1,242.9 471.2,240.4 474.2,238 477.3,238 480.3,237.8 483.4,241.7 486.4,236.2 489.5,248 492.5,247.6 495.5,247.2 498.6,254.3 501.6,256.7 504.7,259.9 507.7,262.9 510.8,267.5 513.8,268.3 516.9,274.8 519.9,270.7 523,280.7 526,270.2 529,274.4 532.1,279.9 535.1,288.3 538.2,293.3 541.2,290.8 544.3,298.9 547.3,301.9 550.4,311.3 553.4,309.7 556.4,322.2 559.5,324.6 562.5,336.9 565.6,338.6 568.6,339.8 571.7,349 574.7,354.8 577.8,356.3 580.8,365.9 583.9,368.1 586.9,389.1 589.9,386.4 593,395.4 596,412.3 599.1,421.5 602.1,424.3 605.2,442.4 608.2,451.7 611.3,459.1 614.3,477.1 617.3,496.3 620.4,524.9 623.4,536.8" fill="none" stroke="#bb0000" stroke-width="1" stroke-linejoin="round"/>
<polyline points="127.1,163 130.1,121.8 133.2,124.8 136.2,125.4 139.3,132.4 142.3,129.9 145.4,146.9 148.4,146.1 151.5,148.8 154.5,159.2 157.6,160.8 160.6,177 163.6,176.7 166.7,187.2 169.7,185.5 172.8,190.1 175.8,197.1 178.9,194.6 181.9,200 185,206.1 188,208.3 191,213.6 194.1,209.1 197.1,198 200.2,205.7 203.2,199.3 206.3,199.7 209.3,190.7 212.4,184.3 215.4,173.9 218.4,162.7 221.5,142.4 224.5,126.4 227.6,127 230.6,126.7 233.7,141.7 236.7,161.9 239.8,166.6 242.8,175.9 245.9,187.3 248.9,194.1 251.9,199.9 255,210.7 258,214.2 261.1,221 264.1,232.9 267.2,228 270.2,231.2 273.3,232.9 276.3,229.4 279.4,232.9 282.4,229.2 285.4,227.3 288.5,231.1 291.5,237.2 294.6,233.8 297.6,227.5 300.7,231.1 303.7,232.8 306.8,230 309.8,227.4 312.8,227.8 315.9,226 318.9,231.1 322,228.7 325,228 328.1,227 331.1,234.3 334.2,227.2 337.2,231.4 340.2,221.6 343.3,221.2 346.3,220.9 349.4,224.4 352.4,229.7 355.5,225 358.5,229.9 361.6,227.5 364.6,233.5 367.7,233 370.7,229.4 373.7,225.2 376.8,232.6 379.8,225.2 382.9,223.6 385.9,238.5 389,234.1 392,237.7 395.1,234.7 398.1,236.4 401.1,234.4 404.2,230.6 407.2,230.5 410.3,232.9 413.3,233.6 416.4,232.9 419.4,232.3 422.5,230.1 425.5,231.7 428.6,229.1 431.6,235 434.6,227 437.7,223 440.7,228.3 443.8,233.8 446.8,223.5 449.9,229.9 452.9,240 456,230.2 459,227.5 462,228.8 465.1,226.4 468.1,229.3 471.2,232.1 474.2,240.9 477.3,238.6 480.3,235.2 483.4,234.7 486.4,242.5 489.5,242.5 492.5,240 495.5,250.5 498.6,252.5 501.6,248.3 504.7,249.1 507.7,254.2 510.8,263.2 513.8,257.1 516.9,264.8 519.9,260.1 523,265.4 526,267 529,268.4 532.1,275.5 535.1,273 538.2,274.1 541.2,279.7 544.3,279.3 547.3,289.6 550.4,287.2 553.4,293.1 556.4,301.7 559.5,302.2 562.5,308 565.6,312.5 568.6,315.1 571.7,317 574.7,327.7 577.8,331.7 580.8,343 583.9,342.9 586.9,344.6 589.9,351.6 593,359.7 596,372.9 599.1,385.5 602.1,394.6 605.2,413.1 608.2,428.3 611.3,436.7 614.3,460.4 617.3,472.3 620.4,519.5 623.4,536.2" fill="none" stroke="#7f0000" stroke-width="1" stroke-linejoin="round"/>
<polyline points="849.3,176.5 852.2,157.5 855.1,144.1 858.1,135.5 861,138.1 863.9,138.1 866.8,124.4 869.8,103.3 872.7,97.5 875.6,108.4 878.5,131 881.5,136.2 884.4,148.2 887.3,155.9 890.2,155.6 893.2,155.2 896.1,160.7 899,168.3 901.9,168 904.9,174.5 907.8,175.3 910.7,176.2 913.6,184.9 916.6,178.1 919.5,184.4 922.4,188.2 925.3,195.7 928.3,198.8 931.2,198.9 934.1,189.3 937,177.8 940,180.9 942.9,176.2 945.8,178.4 948.8,174.5 951.7,151.4 954.6,140.1 957.5,140.6 960.4,143.6 963.4,158.3 966.3,188 969.2,202.8 972.1,208.8 975.1,215.1 978,219.1 980.9,217.8 983.8,217.6 986.8,225 989.7,222.1 992.6,221.7 995.5,223 998.5,221.9 1001.4,226.6 1004.3,222.9 1007.2,218.8 1010.2,222.9 1013.1,227.3 1016,223.1 1018.9,220.7 1021.9,223.5 1024.8,226.3 1027.7,219.3 1030.6,228.2 1033.6,222.5 1036.5,223.9 1039.4,227.2 1042.3,219.1 1045.3,221.2 1048.2,224.6 1051.1,216.8 1054,217.5 1057,220 1059.9,214.1 1062.8,210.1 1065.8,209.5 1068.7,213.6 1071.6,218.3 1074.5,222.4 1077.4,230 1080.4,230 1083.3,234.7 1086.2,235.6 1089.1,236.2 1092.1,242.2 1095,242.2 1097.9,236.1 1100.8,240.8 1103.8,243 1106.7,241.3 1109.6,244.5 1112.5,242.5 1115.5,246 1118.4,243.1 1121.3,249.8 1124.2,241.2 1127.2,247.5 1130.1,251.6 1133,247.9 1135.9,249.2 1138.9,248.2 1141.8,253.1 1144.7,248.7 1147.6,239.2 1150.6,256 1153.5,251.8 1156.4,254.6 1159.3,254.3 1162.3,261.8 1165.2,261 1168.1,256.9 1171,259.6 1174,255.8 1176.9,265.3 1179.8,264.8 1182.8,258 1185.7,271.9 1188.6,275.1 1191.5,275 1194.4,277.3 1197.4,276.9 1200.3,281.5 1203.2,286.3 1206.2,285.4 1209.1,279.7 1212,285.7 1214.9,300.4 1217.8,293.2 1220.8,297 1223.7,294 1226.6,298.4 1229.5,293.7 1232.5,299.2 1235.4,301.8 1238.3,306.8 1241.2,310.3 1244.2,312 1247.1,312.1 1250,318.1 1252.9,324.9 1255.9,324 1258.8,332.3 1261.7,338.7 1264.7,346.8 1267.6,352.2 1270.5,358.6 1273.4,372.5 1276.3,367.4 1279.3,376.4 1282.2,386.6 1285.1,390.3 1288,400.4 1291,409 1293.9,426.6 1296.8,428.8 1299.8,436.9 1302.7,444.8 1305.6,456 1308.5,469.5 1311.4,489.9 1314.4,504.9 1317.3,507 1320.2,518.5 1323.2,523.9 1326.1,534.2" fill="none" stroke="#0000d1" stroke-width="1.0" stroke-linejoin="round"/>
<polyline points="849.3,159.4 852.2,149.7 855.1,141 858.1,136.5 861,130.7 863.9,121.4 866.8,120.7 869.8,110 872.7,92.7 875.6,99.8 878.5,107 881.5,105 884.4,102.3 887.3,102.2 890.2,103.8 893.2,103.4 896.1,111.5 899,110.6 901.9,110.7 904.9,118.3 907.8,123.1 910.7,124.6 913.6,125.3 916.6,124.4 919.5,128.9 922.4,126.8 925.3,124.2 928.3,132 931.2,129.8 934.1,135.1 937,141.7 940,140.6 942.9,144.5 945.8,140.2 948.8,147.3 951.7,140.1 954.6,143.1 957.5,152.1 960.4,144.2 963.4,143 966.3,152.2 969.2,148.4 972.1,159.5 975.1,155.6 978,164.8 980.9,162 983.8,173.6 986.8,179.3 989.7,171.8 992.6,167.7 995.5,178.1 998.5,174.6 1001.4,177.7 1004.3,180 1007.2,178 1010.2,175.7 1013.1,186.4 1016,182.1 1018.9,184.3 1021.9,191.1 1024.8,182 1027.7,181.1 1030.6,190.5 1033.6,181.7 1036.5,187 1039.4,187.6 1042.3,181.8 1045.3,186 1048.2,186.3 1051.1,183.5 1054,185.8 1057,188.5 1059.9,197.2 1062.8,198.5 1065.8,190.2 1068.7,197 1071.6,193.6 1074.5,197.9 1077.4,195.5 1080.4,199.4 1083.3,190.6 1086.2,199.8 1089.1,197.8 1092.1,198.7 1095,194.7 1097.9,203.3 1100.8,199.1 1103.8,199.8 1106.7,197.5 1109.6,197.7 1112.5,201 1115.5,198.7 1118.4,200.4 1121.3,197.6 1124.2,199.1 1127.2,200.6 1130.1,198.5 1133,197.4 1135.9,191.2 1138.9,200.1 1141.8,197.6 1144.7,194.2 1147.6,206.5 1150.6,206.5 1153.5,205.9 1156.4,203.8 1159.3,197.2 1162.3,205 1165.2,204 1168.1,210 1171,218.4 1174,219.2 1176.9,209.9 1179.8,213.8 1182.8,220 1185.7,214.1 1188.6,224 1191.5,217.2 1194.4,217.9 1197.4,226.6 1200.3,229.6 1203.2,225.2 1206.2,233.5 1209.1,229.1 1212,237.9 1214.9,233.7 1217.8,238.2 1220.8,242 1223.7,245.7 1226.6,244.2 1229.5,253.1 1232.5,249.9 1235.4,252.2 1238.3,251.1 1241.2,259.7 1244.2,253 1247.1,262.4 1250,268.6 1252.9,264.4 1255.9,268.1 1258.8,279 1261.7,286.5 1264.7,289.2 1267.6,297.7 1270.5,303.5 1273.4,304.9 1276.3,316.1 1279.3,324.4 1282.2,331.3 1285.1,340.6 1288,346.1 1291,354.5 1293.9,367.3 1296.8,375 1299.8,376.8 1302.7,392.6 1305.6,404.2 1308.5,407.4 1311.4,425.5 1314.4,443 1317.3,451.5 1320.2,468.5 1323.2,475.7 1326.1,478.9" fill="none" stroke="#0000b5" stroke-width="1.0" stroke-linejoin="round"/>
<polyline points="849.3,159.2 852.2,150.5 855.1,132.1 858.1,130.5 861,128 863.9,143.4 866.8,131.6 869.8,125.8 872.7,112.9 875.6,115 878.5,130.1 881.5,138.8 884.4,144.7 887.3,150.6 890.2,162.7 893.2,168.7 896.1,168.5 899,169.8 901.9,174.5 904.9,178.2 907.8,175.4 910.7,176.2 913.6,177.7 916.6,184.1 919.5,183.5 922.4,189.2 925.3,197.8 928.3,193.3 931.2,197.9 934.1,195.8 937,181 940,181.3 942.9,180.3 945.8,178.4 948.8,174.3 951.7,169.8 954.6,162 957.5,156.2 960.4,163 963.4,171.7 966.3,194.3 969.2,203.9 972.1,208 975.1,216.3 978,224.3 980.9,224.9 983.8,228.5 986.8,232 989.7,228.2 992.6,231.6 995.5,235.8 998.5,229.6 1001.4,234.3 1004.3,231.6 1007.2,237.9 1010.2,232 1013.1,234 1016,232.9 1018.9,234.5 1021.9,220.7 1024.8,226.9 1027.7,224.9 1030.6,221.2 1033.6,224.2 1036.5,221.1 1039.4,226.1 1042.3,220 1045.3,220.7 1048.2,216.2 1051.1,214.6 1054,216.7 1057,215.9 1059.9,211.3 1062.8,205 1065.8,207 1068.7,209.9 1071.6,221.9 1074.5,229.2 1077.4,227.7 1080.4,231.5 1083.3,240.8 1086.2,239.4 1089.1,242.5 1092.1,247 1095,246.9 1097.9,244.6 1100.8,245.3 1103.8,246.6 1106.7,239.8 1109.6,248.3 1112.5,247.4 1115.5,250.9 1118.4,248.6 1121.3,245.8 1124.2,245.2 1127.2,247.3 1130.1,245.4 1133,246.3 1135.9,252.2 1138.9,256.6 1141.8,238.6 1144.7,243 1147.6,246 1150.6,251.2 1153.5,249.9 1156.4,241.7 1159.3,255 1162.3,248 1165.2,245.6 1168.1,249.3 1171,249 1174,253.8 1176.9,248.4 1179.8,262.3 1182.8,266.4 1185.7,264.4 1188.6,264.2 1191.5,272.5 1194.4,272.4 1197.4,281.1 1200.3,286.5 1203.2,281.6 1206.2,283.9 1209.1,286.7 1212,295.8 1214.9,300.5 1217.8,302.5 1220.8,301.8 1223.7,301.2 1226.6,303.5 1229.5,311.9 1232.5,309 1235.4,311.9 1238.3,314.1 1241.2,317.5 1244.2,320.9 1247.1,322 1250,327.1 1252.9,330.7 1255.9,338.1 1258.8,339.2 1261.7,345.9 1264.7,358 1267.6,355.6 1270.5,364.4 1273.4,367.3 1276.3,378.3 1279.3,385.6 1282.2,392.5 1285.1,401.1 1288,410.5 1291,423.3 1293.9,420.1 1296.8,440.5 1299.8,447.1 1302.7,455.5 1305.6,468.5 1308.5,480.3 1311.4,491.9 1314.4,502.1 1317.3,516.2 1320.2,517.8 1323.2,538.8 1326.1,541.8" fill="none" stroke="#0027ff" stroke-width="1.0" stroke-linejoin="round"/>
<polyline points="849.3,162.2 852.2,154.1 855.1,140.4 858.1,131.7 861,136.5 863.9,145.1 866.8,134.1 869.8,128.3 872.7,112.9 875.6,123 878.5,130.9 881.5,138.4 884.4,138.4 887.3,153.9 890.2,156.2 893.2,162.3 896.1,163.8 899,167.4 901.9,167 904.9,177.9 907.8,175.5 910.7,171.5 913.6,178.8 916.6,178.6 919.5,183.2 922.4,193.1 925.3,189.7 928.3,188.2 931.2,194.9 934.1,195 937,178.7 940,176.6 942.9,172.1 945.8,169.5 948.8,162.3 951.7,139.4 954.6,130.1 957.5,115.2 960.4,126.9 963.4,145.4 966.3,175.1 969.2,194.9 972.1,207.7 975.1,217 978,225.5 980.9,223.2 983.8,225.2 986.8,231.3 989.7,227.1 992.6,230.7 995.5,230.5 998.5,235.6 1001.4,240 1004.3,232.8 1007.2,233.8 1010.2,236.8 1013.1,237.9 1016,237.4 1018.9,236.9 1021.9,237.5 1024.8,242.2 1027.7,232.8 1030.6,239.8 1033.6,235.6 1036.5,235.2 1039.4,232.5 1042.3,237.6 1045.3,227.5 1048.2,227.3 1051.1,224.1 1054,219.2 1057,222.2 1059.9,226.9 1062.8,214 1065.8,211 1068.7,213.7 1071.6,222.7 1074.5,225.6 1077.4,228.9 1080.4,239.6 1083.3,234.9 1086.2,236.2 1089.1,230 1092.1,238.6 1095,232.7 1097.9,239.1 1100.8,245.9 1103.8,235.1 1106.7,246.7 1109.6,243.4 1112.5,241.7 1115.5,250.3 1118.4,254.4 1121.3,248.3 1124.2,253.2 1127.2,258.7 1130.1,259.8 1133,258.9 1135.9,256.5 1138.9,261.8 1141.8,259.9 1144.7,258.1 1147.6,260.5 1150.6,261.3 1153.5,263.2 1156.4,273 1159.3,264.6 1162.3,268 1165.2,270.6 1168.1,274.7 1171,277.6 1174,277.2 1176.9,275 1179.8,280.2 1182.8,280.9 1185.7,282.1 1188.6,279.8 1191.5,285 1194.4,286.5 1197.4,283.6 1200.3,290.6 1203.2,289.8 1206.2,296.8 1209.1,293.8 1212,296 1214.9,297.7 1217.8,302.1 1220.8,305.8 1223.7,305.4 1226.6,308.1 1229.5,305.8 1232.5,308.3 1235.4,317.8 1238.3,315.1 1241.2,321.5 1244.2,321.7 1247.1,327.9 1250,334.6 1252.9,330.3 1255.9,336 1258.8,345.6 1261.7,352.3 1264.7,352.9 1267.6,360.1 1270.5,363 1273.4,366.1 1276.3,369.9 1279.3,382.5 1282.2,384.2 1285.1,392.5 1288,405.5 1291,417.8 1293.9,418.4 1296.8,428.8 1299.8,434 1302.7,448.8 1305.6,463.4 1308.5,473 1311.4,494 1314.4,501.8 1317.3,514.2 1320.2,517.6 1323.2,529.8 1326.1,548.3" fill="none" stroke="#0052ff" stroke-width="1.0" stroke-linejoin="round"/>
<polyline points="849.3,158.1 852.2,146.4 855.1,135.5 858.1,124.4 861,130.8 863.9,124.7 866.8,129.3 869.8,113.9 872.7,103.3 875.6,100.9 878.5,108.1 881.5,126.7 884.4,135 887.3,145.6 890.2,143.4 893.2,153.2 896.1,161.9 899,159.3 901.9,166.5 904.9,166.7 907.8,171.1 910.7,172.8 913.6,174.8 916.6,180.1 919.5,185 922.4,182.6 925.3,191.4 928.3,193.8 931.2,198.5 934.1,200.1 937,188.9 940,178.7 942.9,184.7 945.8,181.7 948.8,176.6 951.7,158.2 954.6,147.5 957.5,143.6 960.4,147 963.4,163.7 966.3,188.7 969.2,200.1 972.1,206.4 975.1,214.1 978,211.5 980.9,219.5 983.8,221.4 986.8,224.3 989.7,219.2 992.6,225.8 995.5,228 998.5,226.1 1001.4,221 1004.3,226.6 1007.2,218.3 1010.2,221.9 1013.1,226 1016,221.3 1018.9,214.2 1021.9,222 1024.8,223.1 1027.7,217.1 1030.6,214.3 1033.6,215.7 1036.5,220.1 1039.4,218.8 1042.3,218.7 1045.3,216 1048.2,212.4 1051.1,218.3 1054,212.6 1057,216.7 1059.9,212.9 1062.8,218.1 1065.8,219.3 1068.7,219.5 1071.6,228.9 1074.5,229.2 1077.4,239.1 1080.4,242 1083.3,247.1 1086.2,249.5 1089.1,249.4 1092.1,247.5 1095,241.6 1097.9,255.5 1100.8,250.8 1103.8,252.5 1106.7,255 1109.6,251.3 1112.5,255 1115.5,252.8 1118.4,248.8 1121.3,259.5 1124.2,252.6 1127.2,252.4 1130.1,257.4 1133,253.4 1135.9,254.8 1138.9,258.1 1141.8,254.5 1144.7,263.9 1147.6,258.7 1150.6,262.6 1153.5,266.3 1156.4,265 1159.3,266.7 1162.3,264.2 1165.2,272.8 1168.1,270.1 1171,271.9 1174,267.2 1176.9,277.1 1179.8,271.8 1182.8,283 1185.7,278.3 1188.6,281.7 1191.5,282.2 1194.4,288.2 1197.4,294.5 1200.3,295.7 1203.2,289 1206.2,294.9 1209.1,300.5 1212,297 1214.9,304.9 1217.8,307.4 1220.8,311.5 1223.7,306.7 1226.6,307.3 1229.5,319.4 1232.5,318.8 1235.4,320 1238.3,319.7 1241.2,337.4 1244.2,333.1 1247.1,335.3 1250,345.7 1252.9,343.3 1255.9,348 1258.8,350.1 1261.7,358.6 1264.7,359.8 1267.6,368.2 1270.5,369.6 1273.4,376.9 1276.3,385.2 1279.3,395.3 1282.2,392.7 1285.1,402.3 1288,411.2 1291,424.6 1293.9,432.4 1296.8,435.7 1299.8,449.8 1302.7,467 1305.6,476.9 1308.5,489.3 1311.4,502.7 1314.4,517 1317.3,521.1 1320.2,533.2 1323.2,544.3 1326.1,555.7" fill="none" stroke="#007dff" stroke-width="1.0" stroke-linejoin="round"/>
<polyline points="849.3,161.5 852.2,153.3 855.1,142.8 858.1,122.5 861,132.4 863.9,142.4 866.8,134.1 869.8,120.6 872.7,111.8 875.6,120.9 878.5,126.9 881.5,138.7 884.4,146.1 887.3,151.4 890.2,161.1 893.2,163.4 896.1,169.6 899,174.1 901.9,173.8 904.9,181.5 907.8,180.7 910.7,184.5 913.6,182.8 916.6,184.7 919.5,181.3 922.4,188.4 925.3,192.3 928.3,189.3 931.2,205.1 934.1,194.5 937,189.7 940,178 942.9,174.7 945.8,170.9 948.8,162 951.7,148.3 954.6,128.6 957.5,131 960.4,139.1 963.4,157.7 966.3,178.4 969.2,194.8 972.1,198.8 975.1,203 978,207.1 980.9,214 983.8,209.8 986.8,218.2 989.7,219.2 992.6,215.7 995.5,216.9 998.5,217.4 1001.4,218.9 1004.3,217.9 1007.2,219.6 1010.2,222.6 1013.1,214.4 1016,219.6 1018.9,216.4 1021.9,212.6 1024.8,214.4 1027.7,204.9 1030.6,217.6 1033.6,215.1 1036.5,212.1 1039.4,207.6 1042.3,212.1 1045.3,215 1048.2,205.5 1051.1,210.3 1054,205.7 1057,199.6 1059.9,202.7 1062.8,201.1 1065.8,198.8 1068.7,204.2 1071.6,207.6 1074.5,217.4 1077.4,220.3 1080.4,228.2 1083.3,238.2 1086.2,230.1 1089.1,236.3 1092.1,236.8 1095,244.6 1097.9,243.2 1100.8,244.7 1103.8,250.5 1106.7,245.9 1109.6,251.5 1112.5,251.1 1115.5,256.8 1118.4,250.2 1121.3,252.2 1124.2,254.6 1127.2,259.7 1130.1,259.3 1133,254.3 1135.9,259.9 1138.9,258.8 1141.8,259.8 1144.7,264.4 1147.6,256.4 1150.6,268.1 1153.5,261.5 1156.4,263 1159.3,268.2 1162.3,262.5 1165.2,262 1168.1,264 1171,266.9 1174,263.5 1176.9,262.5 1179.8,266.3 1182.8,262.6 1185.7,267.1 1188.6,269.2 1191.5,269.7 1194.4,278.6 1197.4,279.9 1200.3,278.3 1203.2,279.8 1206.2,278.7 1209.1,282 1212,287 1214.9,288.9 1217.8,292.8 1220.8,295.6 1223.7,298.5 1226.6,297.1 1229.5,304.9 1232.5,307.4 1235.4,309.3 1238.3,315.6 1241.2,318.2 1244.2,328.4 1247.1,324.7 1250,331.6 1252.9,334.9 1255.9,340 1258.8,352.5 1261.7,345.1 1264.7,358.3 1267.6,365 1270.5,378.2 1273.4,377.6 1276.3,385.8 1279.3,396 1282.2,401.8 1285.1,406.7 1288,420 1291,430.4 1293.9,432.1 1296.8,445 1299.8,457.2 1302.7,460.8 1305.6,479.9 1308.5,493.4 1311.4,504.4 1314.4,518.4 1317.3,527.6 1320.2,537.9 1323.2,549.1 1326.1,554.9" fill="none" stroke="#00a8ff" stroke-width="1.0" stroke-linejoin="round"/>
<polyline points="849.3,163.6 852.2,148 855.1,144.2 858.1,129.4 861,132.3 863.9,134.8 866.8,136.1 869.8,129.1 872.7,128.8 875.6,127.5 878.5,132.3 881.5,140.1 884.4,146 887.3,151.1 890.2,153.7 893.2,163.4 896.1,160.8 899,168.7 901.9,165 904.9,169.6 907.8,178.2 910.7,180.6 913.6,172.2 916.6,179.7 919.5,182.5 922.4,191.2 925.3,194.9 928.3,195.6 931.2,198.4 934.1,199.2 937,183.9 940,184.6 942.9,187.7 945.8,179.6 948.8,175.9 951.7,159.7 954.6,156.6 957.5,151.4 960.4,159.5 963.4,164.5 966.3,193.9 969.2,201.4 972.1,216.7 975.1,214.8 978,216.4 980.9,220.3 983.8,220.1 986.8,228.4 989.7,220.2 992.6,220.2 995.5,229.7 998.5,229 1001.4,229 1004.3,227.4 1007.2,226.8 1010.2,235.1 1013.1,225 1016,227.5 1018.9,229.3 1021.9,222.3 1024.8,225.2 1027.7,219.5 1030.6,220.5 1033.6,222.1 1036.5,216.6 1039.4,216.1 1042.3,219.1 1045.3,221.1 1048.2,215.3 1051.1,208.5 1054,207.9 1057,198.2 1059.9,200.6 1062.8,199.1 1065.8,197.9 1068.7,204.7 1071.6,206.5 1074.5,213 1077.4,223.5 1080.4,226.2 1083.3,223.7 1086.2,229.9 1089.1,231.3 1092.1,237.8 1095,236.9 1097.9,234 1100.8,238.5 1103.8,242.6 1106.7,237.9 1109.6,245 1112.5,248 1115.5,244.6 1118.4,255.7 1121.3,250.3 1124.2,257.2 1127.2,257.1 1130.1,257.5 1133,255.7 1135.9,256.8 1138.9,256.6 1141.8,257.7 1144.7,254.4 1147.6,253.6 1150.6,257.1 1153.5,257.3 1156.4,261.2 1159.3,264 1162.3,259.1 1165.2,261.4 1168.1,259.7 1171,269.7 1174,256.4 1176.9,271 1179.8,268.7 1182.8,268.1 1185.7,278.3 1188.6,278.5 1191.5,286.7 1194.4,288.2 1197.4,292.9 1200.3,289.2 1203.2,291.7 1206.2,296.5 1209.1,294.2 1212,297.2 1214.9,304.3 1217.8,307.7 1220.8,310.5 1223.7,314.1 1226.6,311.3 1229.5,317.3 1232.5,321.8 1235.4,324.5 1238.3,325.1 1241.2,331.6 1244.2,332.9 1247.1,337.7 1250,336.9 1252.9,341.4 1255.9,354.1 1258.8,355 1261.7,357.1 1264.7,366.1 1267.6,367.7 1270.5,375.5 1273.4,381 1276.3,390 1279.3,396.1 1282.2,402.8 1285.1,416.9 1288,422.9 1291,431.7 1293.9,431.4 1296.8,445.2 1299.8,455.4 1302.7,467.4 1305.6,481.5 1308.5,494.5 1311.4,501.7 1314.4,517.6 1317.3,522.4 1320.2,536.9 1323.2,545.9 1326.1,554" fill="none" stroke="#00d3ff" stroke-width="1.0" stroke-linejoin="round"/>
<polyline points="849.3,166.3 852.2,148.6 855.1,139 858.1,128.5 861,127.3 863.9,138.5 866.8,132.6 869.8,123.4 872.7,115.3 875.6,120.5 878.5,125.7 881.5,132.6 884.4,137.4 887.3,141.6 890.2,154.2 893.2,156.1 896.1,159.8 899,161.9 901.9,162.8 904.9,171.5 907.8,173.8 910.7,173 913.6,182.7 916.6,183.2 919.5,185.8 922.4,189.4 925.3,194.7 928.3,201 931.2,196 934.1,200.6 937,190.2 940,184.1 942.9,184.1 945.8,184.6 948.8,175.1 951.7,159 954.6,152.8 957.5,147.3 960.4,155.3 963.4,165.1 966.3,194.8 969.2,205.2 972.1,219.9 975.1,217.8 978,226.7 980.9,227 983.8,233 986.8,231.7 989.7,232.4 992.6,234.7 995.5,229.9 998.5,238.9 1001.4,232 1004.3,226 1007.2,237.5 1010.2,235 1013.1,239.8 1016,234.7 1018.9,240 1021.9,231.9 1024.8,235.3 1027.7,239.4 1030.6,237.2 1033.6,237.6 1036.5,232.5 1039.4,227.4 1042.3,230.8 1045.3,232.1 1048.2,228.7 1051.1,222.4 1054,226.9 1057,213.1 1059.9,210.4 1062.8,217.2 1065.8,205 1068.7,216.6 1071.6,215.8 1074.5,216.2 1077.4,230.5 1080.4,235.4 1083.3,230.1 1086.2,231.5 1089.1,230.3 1092.1,233.2 1095,234.7 1097.9,237 1100.8,238 1103.8,242.2 1106.7,240.8 1109.6,244.3 1112.5,249.9 1115.5,242.7 1118.4,254.8 1121.3,250.3 1124.2,257.3 1127.2,255.2 1130.1,256.2 1133,256.6 1135.9,256.4 1138.9,264.5 1141.8,253.3 1144.7,261.6 1147.6,266.2 1150.6,268.5 1153.5,256.4 1156.4,258.5 1159.3,264 1162.3,261.7 1165.2,259.5 1168.1,263.4 1171,265.3 1174,264.4 1176.9,262.2 1179.8,266.4 1182.8,271.7 1185.7,266.7 1188.6,276.4 1191.5,275.5 1194.4,270.8 1197.4,276.3 1200.3,278.7 1203.2,280.9 1206.2,279.8 1209.1,285.3 1212,293.8 1214.9,288.9 1217.8,302 1220.8,300.8 1223.7,291.6 1226.6,296 1229.5,303.9 1232.5,305.3 1235.4,308.2 1238.3,308.5 1241.2,318.2 1244.2,322.4 1247.1,325.5 1250,327 1252.9,331.4 1255.9,338.1 1258.8,338.6 1261.7,350.4 1264.7,353.2 1267.6,361.6 1270.5,369 1273.4,368.9 1276.3,381.1 1279.3,391.2 1282.2,395.9 1285.1,407.6 1288,410.9 1291,419.1 1293.9,427.8 1296.8,444.7 1299.8,453.1 1302.7,458.8 1305.6,478.4 1308.5,486.3 1311.4,497.8 1314.4,519.2 1317.3,521.9 1320.2,533.4 1323.2,541.6 1326.1,546" fill="none" stroke="#00feff" stroke-width="1.0" stroke-linejoin="round"/>
<polyline points="849.3,160.4 852.2,148.7 855.1,139.7 858.1,123.3 861,129 863.9,130.7 866.8,126.4 869.8,110.7 872.7,103 875.6,118.5 878.5,129.8 881.5,132.5 884.4,142.4 887.3,155.9 890.2,157.8 893.2,163.4 896.1,165.6 899,162.9 901.9,173.1 904.9,168.1 907.8,177.7 910.7,180.6 913.6,174.2 916.6,177.1 919.5,178.5 922.4,181.2 925.3,188.3 928.3,190.9 931.2,202.2 934.1,195.6 937,182.3 940,180.9 942.9,178.1 945.8,178.7 948.8,162.4 951.7,138.7 954.6,128.8 957.5,126.4 960.4,138.2 963.4,157.4 966.3,187.9 969.2,204.7 972.1,209.5 975.1,216.3 978,225.9 980.9,224 983.8,227.1 986.8,227.7 989.7,230.8 992.6,227.8 995.5,227.6 998.5,231.7 1001.4,228.3 1004.3,226.3 1007.2,225.7 1010.2,230.1 1013.1,229.3 1016,224.8 1018.9,226.8 1021.9,214.2 1024.8,222.9 1027.7,221.7 1030.6,216 1033.6,218.6 1036.5,223.4 1039.4,215.6 1042.3,217.5 1045.3,214.6 1048.2,215.9 1051.1,211.2 1054,206 1057,202.4 1059.9,203.2 1062.8,200.5 1065.8,201.8 1068.7,202.5 1071.6,208.7 1074.5,217.8 1077.4,217.3 1080.4,226.2 1083.3,229 1086.2,235.1 1089.1,233.3 1092.1,236.3 1095,237.5 1097.9,237.3 1100.8,238.3 1103.8,240.3 1106.7,241.4 1109.6,247 1112.5,244.1 1115.5,252 1118.4,253.5 1121.3,248.5 1124.2,249.1 1127.2,244.7 1130.1,248.8 1133,249 1135.9,255.2 1138.9,254.5 1141.8,254.6 1144.7,258.9 1147.6,261.3 1150.6,264.2 1153.5,269.8 1156.4,271.9 1159.3,276 1162.3,272.3 1165.2,277.1 1168.1,280.9 1171,280 1174,285.3 1176.9,282.4 1179.8,282.1 1182.8,289.6 1185.7,295.8 1188.6,300.8 1191.5,292.2 1194.4,299.9 1197.4,307.9 1200.3,302.9 1203.2,313.5 1206.2,311.8 1209.1,313.3 1212,315.6 1214.9,320.1 1217.8,311.3 1220.8,322.7 1223.7,322.7 1226.6,326.4 1229.5,334.4 1232.5,334.3 1235.4,335.4 1238.3,336.6 1241.2,344.2 1244.2,345.6 1247.1,351.8 1250,352.6 1252.9,366.6 1255.9,361.3 1258.8,370.1 1261.7,374.3 1264.7,386.5 1267.6,386 1270.5,386.3 1273.4,387 1276.3,403.1 1279.3,409.8 1282.2,413.4 1285.1,421.7 1288,432.4 1291,439.3 1293.9,448.6 1296.8,454.9 1299.8,465.2 1302.7,473.8 1305.6,488.8 1308.5,502.2 1311.4,516.4 1314.4,526 1317.3,543.4 1320.2,543.6 1323.2,558.3 1326.1,561.9" fill="none" stroke="#2affd4" stroke-width="1.0" stroke-linejoin="round"/>
<polyline points="849.3,167.9 852.2,158.9 855.1,144.6 858.1,125.5 861,129.5 863.9,133 866.8,130.8 869.8,134.7 872.7,122.2 875.6,129 878.5,134.2 881.5,137.2 884.4,143.1 887.3,150 890.2,148 893.2,155 896.1,162.8 899,166.1 901.9,165.8 904.9,171.7 907.8,175.3 910.7,181.7 913.6,180.6 916.6,184.6 919.5,190.1 922.4,186.2 925.3,195.3 928.3,199 931.2,202.7 934.1,193.1 937,180.1 940,182.4 942.9,179.8 945.8,184.8 948.8,171.7 951.7,156.2 954.6,143 957.5,145.4 960.4,151.9 963.4,162.4 966.3,187.6 969.2,194 972.1,208 975.1,214.3 978,218 980.9,218.5 983.8,224.3 986.8,226.2 989.7,229.5 992.6,219.8 995.5,221.8 998.5,220.9 1001.4,223.1 1004.3,218.6 1007.2,227.6 1010.2,220.8 1013.1,227.4 1016,226.3 1018.9,228.9 1021.9,225 1024.8,227 1027.7,225.7 1030.6,230.1 1033.6,233.4 1036.5,227.8 1039.4,226.3 1042.3,228.5 1045.3,231.6 1048.2,229.6 1051.1,234.8 1054,227.9 1057,219.9 1059.9,218.7 1062.8,220.8 1065.8,216.4 1068.7,224.6 1071.6,228.2 1074.5,241.4 1077.4,243.8 1080.4,245.6 1083.3,244.9 1086.2,245.9 1089.1,249.2 1092.1,251.4 1095,250.6 1097.9,250.5 1100.8,258.7 1103.8,255.7 1106.7,256.5 1109.6,256.2 1112.5,254.5 1115.5,262.9 1118.4,257.8 1121.3,265.3 1124.2,262.6 1127.2,262.3 1130.1,262.1 1133,263.9 1135.9,263.8 1138.9,263.9 1141.8,263.8 1144.7,269.1 1147.6,268.2 1150.6,265.3 1153.5,262.5 1156.4,261.1 1159.3,255.7 1162.3,264.9 1165.2,268.4 1168.1,266.4 1171,265.6 1174,268.8 1176.9,274.5 1179.8,274 1182.8,276.5 1185.7,283.6 1188.6,286 1191.5,281.9 1194.4,296 1197.4,292 1200.3,296.9 1203.2,295.4 1206.2,301.2 1209.1,309.3 1212,306.2 1214.9,315.6 1217.8,311.2 1220.8,315.8 1223.7,324.7 1226.6,325.7 1229.5,331.1 1232.5,338.1 1235.4,335.3 1238.3,341.2 1241.2,343.7 1244.2,346.8 1247.1,349.7 1250,354.8 1252.9,362.8 1255.9,366.3 1258.8,369.8 1261.7,375.8 1264.7,381 1267.6,379.8 1270.5,390 1273.4,391.3 1276.3,406.3 1279.3,410.9 1282.2,419.7 1285.1,427.4 1288,435.1 1291,443 1293.9,452.7 1296.8,455.1 1299.8,469.4 1302.7,485.6 1305.6,497.1 1308.5,505.5 1311.4,518.7 1314.4,534.5 1317.3,541 1320.2,558.7 1323.2,564.5 1326.1,564.8" fill="none" stroke="#55ffa9" stroke-width="1.0" stroke-linejoin="round"/>
<polyline points="849.3,161.6 852.2,153.4 855.1,139 858.1,125.8 861,121.8 863.9,129.9 866.8,118.5 869.8,108.7 872.7,108.4 875.6,111.7 878.5,124.4 881.5,124.7 884.4,133.6 887.3,140.4 890.2,145.3 893.2,150.7 896.1,155.8 899,159.3 901.9,160.3 904.9,169.8 907.8,173.1 910.7,171.3 913.6,168.6 916.6,173.3 919.5,177.4 922.4,179.2 925.3,187 928.3,197 931.2,196.5 934.1,196.4 937,182.5 940,181.8 942.9,178.5 945.8,173.3 948.8,178.3 951.7,166.6 954.6,161 957.5,164.7 960.4,158.7 963.4,170.2 966.3,191.1 969.2,207.5 972.1,221.6 975.1,222 978,228 980.9,233.7 983.8,235.2 986.8,234.8 989.7,231.3 992.6,229.4 995.5,237.8 998.5,229.8 1001.4,233.2 1004.3,231.7 1007.2,229.6 1010.2,235.1 1013.1,228.3 1016,234.7 1018.9,231.7 1021.9,232.2 1024.8,223.7 1027.7,223.4 1030.6,225.9 1033.6,226.4 1036.5,229.2 1039.4,221.7 1042.3,222.2 1045.3,222.9 1048.2,224.3 1051.1,222.1 1054,216.3 1057,204.1 1059.9,202.4 1062.8,192.7 1065.8,189.2 1068.7,200.1 1071.6,207.3 1074.5,219.8 1077.4,225.8 1080.4,227.3 1083.3,228.4 1086.2,231.2 1089.1,235.7 1092.1,240.3 1095,232.2 1097.9,239.7 1100.8,242 1103.8,237.9 1106.7,244.9 1109.6,247.7 1112.5,246.5 1115.5,246.1 1118.4,246.5 1121.3,247 1124.2,247 1127.2,251.8 1130.1,251.1 1133,254.4 1135.9,257.7 1138.9,256.1 1141.8,257.8 1144.7,254.5 1147.6,260.3 1150.6,266.3 1153.5,264 1156.4,268.4 1159.3,264.3 1162.3,276.8 1165.2,275.3 1168.1,277.3 1171,276.4 1174,279.1 1176.9,286 1179.8,289.1 1182.8,285 1185.7,283.4 1188.6,285.9 1191.5,294.2 1194.4,293.7 1197.4,300.3 1200.3,304 1203.2,297.5 1206.2,301.3 1209.1,306.2 1212,307.8 1214.9,305.6 1217.8,309.4 1220.8,313.5 1223.7,313.7 1226.6,317.1 1229.5,320.6 1232.5,323.9 1235.4,321.4 1238.3,329.3 1241.2,334.9 1244.2,329 1247.1,335 1250,341.5 1252.9,347.8 1255.9,351.8 1258.8,362.3 1261.7,364.3 1264.7,370 1267.6,379.1 1270.5,384.5 1273.4,395.9 1276.3,401 1279.3,414.8 1282.2,418.6 1285.1,429.3 1288,440.5 1291,446.5 1293.9,454.3 1296.8,466.1 1299.8,472.2 1302.7,489 1305.6,496 1308.5,509.2 1311.4,526 1314.4,531.8 1317.3,552 1320.2,556.3 1323.2,566.6 1326.1,571.8" fill="none" stroke="#80ff7e" stroke-width="1.0" stroke-linejoin="round"/>
<polyline points="849.3,246.9 852.2,181.1 855.1,149 858.1,129.4 861,134.4 863.9,143.2 866.8,161.2 869.8,166.1 872.7,178.1 875.6,173.9 878.5,175.1 881.5,181.4 884.4,173.2 887.3,178.9 890.2,175.5 893.2,177.1 896.1,175.4 899,174.4 901.9,174.9 904.9,170.3 907.8,159.5 910.7,171.2 913.6,173 916.6,184 919.5,184.4 922.4,186.8 925.3,192.3 928.3,192.9 931.2,176.5 934.1,145.8 937,113.2 940,125 942.9,144.4 945.8,151.3 948.8,142.7 951.7,134.2 954.6,129.3 957.5,124.4 960.4,122.8 963.4,117.8 966.3,138.1 969.2,161.5 972.1,171.3 975.1,192 978,203.1 980.9,217.3 983.8,217.6 986.8,217.5 989.7,219.5 992.6,217.6 995.5,216.3 998.5,216 1001.4,217.2 1004.3,221.7 1007.2,216.3 1010.2,221.3 1013.1,219.7 1016,223.5 1018.9,227.6 1021.9,230.8 1024.8,223.5 1027.7,225.9 1030.6,223.3 1033.6,219.5 1036.5,225.9 1039.4,225.2 1042.3,217.5 1045.3,215.8 1048.2,216.4 1051.1,215.2 1054,216.6 1057,209.8 1059.9,209.8 1062.8,204.1 1065.8,200.8 1068.7,203.4 1071.6,198.6 1074.5,199.5 1077.4,203.3 1080.4,209.9 1083.3,220.5 1086.2,226.4 1089.1,232 1092.1,239.8 1095,239.8 1097.9,239.8 1100.8,237.7 1103.8,237.9 1106.7,235.3 1109.6,246.8 1112.5,244.1 1115.5,250 1118.4,246.7 1121.3,250.9 1124.2,242.8 1127.2,245.1 1130.1,251.6 1133,248.2 1135.9,247.8 1138.9,245.7 1141.8,249.7 1144.7,253.1 1147.6,255.1 1150.6,254 1153.5,256.3 1156.4,260 1159.3,263.7 1162.3,257.6 1165.2,264.5 1168.1,264.4 1171,262 1174,266.1 1176.9,263.7 1179.8,272.5 1182.8,268 1185.7,276.5 1188.6,279 1191.5,279.4 1194.4,277.8 1197.4,282.4 1200.3,286.8 1203.2,280.7 1206.2,289.9 1209.1,289.7 1212,291 1214.9,296 1217.8,295.8 1220.8,297.8 1223.7,302.9 1226.6,302 1229.5,310.2 1232.5,315 1235.4,314.1 1238.3,321.3 1241.2,320.4 1244.2,325.4 1247.1,330.3 1250,330.8 1252.9,335.2 1255.9,350.6 1258.8,346.6 1261.7,350.3 1264.7,354.3 1267.6,363.3 1270.5,371.3 1273.4,373.6 1276.3,378.5 1279.3,394.4 1282.2,399.7 1285.1,404.3 1288,418.5 1291,420.5 1293.9,424.8 1296.8,440.2 1299.8,446.5 1302.7,460.5 1305.6,467.6 1308.5,478.5 1311.4,488.6 1314.4,506.1 1317.3,516.9 1320.2,532.2 1323.2,546.3 1326.1,549.6" fill="none" stroke="#f9ff05" stroke-width="1.5" stroke-linejoin="round"/>
<polyline points="849.3,241.8 852.2,185 855.1,148.8 858.1,127.2 861,131 863.9,145.8 866.8,157 869.8,166.7 872.7,170 875.6,173.6 878.5,172.4 881.5,181 884.4,177.9 887.3,172.7 890.2,170.9 893.2,172.1 896.1,168 899,168.6 901.9,165.6 904.9,163.6 907.8,167 910.7,161.5 913.6,166.3 916.6,173.9 919.5,176.5 922.4,179.2 925.3,186.3 928.3,180.6 931.2,165 934.1,135.2 937,105.2 940,127.5 942.9,131.1 945.8,139.3 948.8,132.5 951.7,126.7 954.6,127.5 957.5,129.8 960.4,114.6 963.4,126 966.3,142 969.2,151.1 972.1,176.4 975.1,184.3 978,198.2 980.9,205.2 983.8,210.6 986.8,213.8 989.7,219.8 992.6,217.6 995.5,213.6 998.5,215.8 1001.4,213.5 1004.3,216.3 1007.2,216.4 1010.2,212.6 1013.1,210.9 1016,212.9 1018.9,215.7 1021.9,217.9 1024.8,206.1 1027.7,215.7 1030.6,214.2 1033.6,212.9 1036.5,206.6 1039.4,210.8 1042.3,205.6 1045.3,205.7 1048.2,209.2 1051.1,203.9 1054,206.7 1057,201.9 1059.9,197.6 1062.8,199.3 1065.8,200.4 1068.7,197.5 1071.6,195.5 1074.5,194.4 1077.4,208.8 1080.4,216.6 1083.3,217.4 1086.2,225.8 1089.1,231.3 1092.1,235 1095,237.8 1097.9,239.7 1100.8,238.7 1103.8,237.5 1106.7,239.2 1109.6,240.9 1112.5,245.2 1115.5,242.1 1118.4,247.2 1121.3,246.4 1124.2,244.9 1127.2,245.8 1130.1,243.5 1133,245.2 1135.9,247.3 1138.9,251.1 1141.8,251.2 1144.7,253 1147.6,247.5 1150.6,252.5 1153.5,257.1 1156.4,258.6 1159.3,252.9 1162.3,260.4 1165.2,257.3 1168.1,259 1171,257 1174,264.3 1176.9,261.2 1179.8,263.4 1182.8,262.9 1185.7,262.8 1188.6,268.4 1191.5,271.6 1194.4,270.3 1197.4,279.8 1200.3,277.1 1203.2,283.2 1206.2,286.3 1209.1,290 1212,293 1214.9,288 1217.8,290.8 1220.8,296.2 1223.7,296.7 1226.6,303.2 1229.5,308.2 1232.5,313.5 1235.4,311.1 1238.3,314.5 1241.2,317 1244.2,327.6 1247.1,329.8 1250,337.2 1252.9,333.6 1255.9,339.4 1258.8,344.5 1261.7,350.9 1264.7,356.1 1267.6,362 1270.5,363.1 1273.4,374.5 1276.3,376 1279.3,384.5 1282.2,395.4 1285.1,404 1288,409.3 1291,415.1 1293.9,427.7 1296.8,431 1299.8,439.4 1302.7,452.1 1305.6,470.4 1308.5,484.1 1311.4,486 1314.4,497.7 1317.3,517.6 1320.2,527.9 1323.2,541.7 1326.1,552.4" fill="none" stroke="#ffe100" stroke-width="1.5" stroke-linejoin="round"/>
<polyline points="849.3,240.5 852.2,175.1 855.1,138.5 858.1,123.2 861,129.8 863.9,143.5 866.8,157.8 869.8,159.4 872.7,164.4 875.6,171.4 878.5,175.2 881.5,178 884.4,186.4 887.3,173.6 890.2,171.4 893.2,172.7 896.1,175.7 899,171.5 901.9,167.4 904.9,160.2 907.8,161.6 910.7,167.6 913.6,175.2 916.6,183.4 919.5,184.7 922.4,191.8 925.3,191.1 928.3,186.3 931.2,168.6 934.1,133.6 937,102.6 940,115.5 942.9,135.9 945.8,148.1 948.8,138.9 951.7,132 954.6,136.2 957.5,129.7 960.4,128.9 963.4,125 966.3,133 969.2,155 972.1,166.7 975.1,189 978,203.3 980.9,214.9 983.8,211.2 986.8,213.3 989.7,221.4 992.6,218.9 995.5,214.5 998.5,221 1001.4,217.8 1004.3,225.7 1007.2,222.8 1010.2,217.6 1013.1,224.1 1016,225.3 1018.9,225.3 1021.9,222 1024.8,226 1027.7,220.9 1030.6,218 1033.6,213.9 1036.5,219 1039.4,210.8 1042.3,212.7 1045.3,213.8 1048.2,209.7 1051.1,204.4 1054,202.4 1057,202.9 1059.9,203.7 1062.8,198.8 1065.8,199.1 1068.7,197.3 1071.6,195.5 1074.5,190.9 1077.4,206.6 1080.4,212.1 1083.3,223.3 1086.2,223.2 1089.1,228.4 1092.1,231.9 1095,239.1 1097.9,238.6 1100.8,237.1 1103.8,239.4 1106.7,239.5 1109.6,240.3 1112.5,240.7 1115.5,242.5 1118.4,241.2 1121.3,247.9 1124.2,244.8 1127.2,248.4 1130.1,245 1133,247.7 1135.9,244.4 1138.9,242.6 1141.8,251.7 1144.7,251.4 1147.6,249 1150.6,246.6 1153.5,249.8 1156.4,252.2 1159.3,255.6 1162.3,258.3 1165.2,257.3 1168.1,258.5 1171,261.3 1174,265.5 1176.9,271 1179.8,270.6 1182.8,271.4 1185.7,276.3 1188.6,273.6 1191.5,281.6 1194.4,280.5 1197.4,280.8 1200.3,281.7 1203.2,285.8 1206.2,285 1209.1,293 1212,295.9 1214.9,292.2 1217.8,300.8 1220.8,301 1223.7,308.7 1226.6,302 1229.5,306.2 1232.5,314.1 1235.4,320.6 1238.3,317.3 1241.2,320.7 1244.2,321.5 1247.1,323.3 1250,332.7 1252.9,338.4 1255.9,343.1 1258.8,348.1 1261.7,356.6 1264.7,360.5 1267.6,363.6 1270.5,374.6 1273.4,380 1276.3,378.3 1279.3,391.1 1282.2,393.2 1285.1,399.4 1288,410.4 1291,415.6 1293.9,427.2 1296.8,438.6 1299.8,446 1302.7,455.8 1305.6,466.7 1308.5,478.3 1311.4,491.9 1314.4,500.8 1317.3,518.9 1320.2,532.7 1323.2,539.7 1326.1,555.5" fill="none" stroke="#ffbd00" stroke-width="1.5" stroke-linejoin="round"/>
<polyline points="849.3,239.2 852.2,179.3 855.1,150 858.1,129.9 861,125 863.9,147.2 866.8,156.2 869.8,164.1 872.7,163.9 875.6,175.1 878.5,174.2 881.5,180.8 884.4,179.7 887.3,177.6 890.2,170.9 893.2,173.7 896.1,173.6 899,167.3 901.9,166.8 904.9,157.1 907.8,161.8 910.7,167.1 913.6,172.3 916.6,167.8 919.5,176.5 922.4,185.6 925.3,186.8 928.3,189.1 931.2,170.3 934.1,145.4 937,116.1 940,124.7 942.9,131.5 945.8,137 948.8,133.6 951.7,126.5 954.6,129.2 957.5,115.6 960.4,108 963.4,111.4 966.3,125.3 969.2,147.7 972.1,174.9 975.1,188.1 978,199.9 980.9,205.2 983.8,211.9 986.8,219.2 989.7,216.7 992.6,215.4 995.5,221.4 998.5,215.3 1001.4,215.7 1004.3,211.3 1007.2,215.1 1010.2,216.6 1013.1,215 1016,214.6 1018.9,211.5 1021.9,217.7 1024.8,221.8 1027.7,205.2 1030.6,210.8 1033.6,212.2 1036.5,203.3 1039.4,213.5 1042.3,211 1045.3,208.8 1048.2,204.5 1051.1,205.9 1054,200.4 1057,202.6 1059.9,195.6 1062.8,196.8 1065.8,202.5 1068.7,195.9 1071.6,198.3 1074.5,195.7 1077.4,201.5 1080.4,204.1 1083.3,220.6 1086.2,231.9 1089.1,232.6 1092.1,241.1 1095,233.7 1097.9,238.8 1100.8,237 1103.8,244.4 1106.7,247.4 1109.6,243.9 1112.5,250 1115.5,249.2 1118.4,249.2 1121.3,247.8 1124.2,253 1127.2,255.4 1130.1,244.4 1133,251.3 1135.9,250.7 1138.9,248.7 1141.8,249.5 1144.7,253.4 1147.6,253.3 1150.6,247.1 1153.5,248.9 1156.4,251.5 1159.3,249.4 1162.3,261.8 1165.2,256.5 1168.1,259.2 1171,265.7 1174,259.7 1176.9,260.4 1179.8,263.8 1182.8,272.7 1185.7,269.9 1188.6,271.1 1191.5,275 1194.4,276 1197.4,278.1 1200.3,277.7 1203.2,284.4 1206.2,279.1 1209.1,289.7 1212,292.3 1214.9,293.3 1217.8,298.6 1220.8,302 1223.7,299.5 1226.6,313.2 1229.5,314.7 1232.5,304.8 1235.4,312 1238.3,315.6 1241.2,319.4 1244.2,322.7 1247.1,329.7 1250,330.9 1252.9,336.9 1255.9,333.8 1258.8,339.8 1261.7,345.9 1264.7,350.5 1267.6,358.2 1270.5,367.6 1273.4,364.8 1276.3,374.9 1279.3,384.8 1282.2,389.6 1285.1,394.9 1288,403.3 1291,413.4 1293.9,421.9 1296.8,435.1 1299.8,440.4 1302.7,452.8 1305.6,464.3 1308.5,483.5 1311.4,489.3 1314.4,502.8 1317.3,516.3 1320.2,540.6 1323.2,549.6 1326.1,552.1" fill="none" stroke="#ff9900" stroke-width="1.5" stroke-linejoin="round"/>
<polyline points="849.3,243.5 852.2,180.4 855.1,147.9 858.1,130.1 861,133.1 863.9,147.7 866.8,159.6 869.8,161 872.7,166.6 875.6,166.4 878.5,168.8 881.5,175.4 884.4,176.3 887.3,171.7 890.2,171.8 893.2,174 896.1,180.2 899,168.5 901.9,166.4 904.9,164.9 907.8,163.3 910.7,164.8 913.6,170.3 916.6,176.6 919.5,182 922.4,183.4 925.3,185.9 928.3,180.5 931.2,174.4 934.1,138.5 937,111.9 940,123.5 942.9,125.7 945.8,138.9 948.8,133.8 951.7,125.2 954.6,114.4 957.5,111.8 960.4,107.8 963.4,107 966.3,121.8 969.2,142.6 972.1,160.6 975.1,181.9 978,193.7 980.9,198.5 983.8,206.7 986.8,206.1 989.7,208.9 992.6,207.4 995.5,204.8 998.5,208.5 1001.4,205.6 1004.3,208.8 1007.2,211.2 1010.2,214.9 1013.1,212.6 1016,217.9 1018.9,212.5 1021.9,220.4 1024.8,221.4 1027.7,220.3 1030.6,222.8 1033.6,216.5 1036.5,218.5 1039.4,216.7 1042.3,212.2 1045.3,220.4 1048.2,212.8 1051.1,209.1 1054,205.3 1057,206 1059.9,206.8 1062.8,199.8 1065.8,198.4 1068.7,192.3 1071.6,190.9 1074.5,199 1077.4,199.7 1080.4,212.8 1083.3,225.2 1086.2,225.9 1089.1,229.9 1092.1,246 1095,235.9 1097.9,244.1 1100.8,236.9 1103.8,242.1 1106.7,242.8 1109.6,239.3 1112.5,245.5 1115.5,238 1118.4,248.4 1121.3,247.6 1124.2,249.5 1127.2,244.6 1130.1,246.8 1133,244.5 1135.9,244 1138.9,245.6 1141.8,245.3 1144.7,245.8 1147.6,250.6 1150.6,253.7 1153.5,255.3 1156.4,250.8 1159.3,256 1162.3,258.6 1165.2,259.4 1168.1,258.8 1171,258.8 1174,262.3 1176.9,266.7 1179.8,263.5 1182.8,275 1185.7,271 1188.6,269.3 1191.5,274.3 1194.4,274.2 1197.4,280.6 1200.3,281.9 1203.2,286.6 1206.2,290.8 1209.1,291.4 1212,292.4 1214.9,305.1 1217.8,304.2 1220.8,311.2 1223.7,310.6 1226.6,314.9 1229.5,315.2 1232.5,317.5 1235.4,316.3 1238.3,318.5 1241.2,328.3 1244.2,330.3 1247.1,329.9 1250,337.7 1252.9,340.4 1255.9,349.1 1258.8,344.8 1261.7,350.7 1264.7,359.5 1267.6,365.8 1270.5,370.8 1273.4,372.2 1276.3,381.9 1279.3,391.2 1282.2,395.3 1285.1,398.9 1288,405.3 1291,413.3 1293.9,426.1 1296.8,435.1 1299.8,445.2 1302.7,454.7 1305.6,466.2 1308.5,482.9 1311.4,494.3 1314.4,506.8 1317.3,517.2 1320.2,534.3 1323.2,546.5 1326.1,550.2" fill="none" stroke="#ff7500" stroke-width="1.5" stroke-linejoin="round"/>
<polyline points="849.3,242 852.2,187.1 855.1,145.1 858.1,132.9 861,132.7 863.9,147.3 866.8,150.6 869.8,172.1 872.7,167 875.6,176.8 878.5,180.4 881.5,178.4 884.4,184.3 887.3,176.2 890.2,173.4 893.2,179.8 896.1,171 899,172.7 901.9,174.7 904.9,170.2 907.8,171.4 910.7,172.3 913.6,175.5 916.6,178.6 919.5,184.4 922.4,190.5 925.3,193.5 928.3,193.7 931.2,176.8 934.1,147 937,122.2 940,132.7 942.9,140.9 945.8,138.5 948.8,138.3 951.7,135.8 954.6,126.2 957.5,124.4 960.4,120.9 963.4,124.1 966.3,136.2 969.2,154.6 972.1,166.4 975.1,183.8 978,196.2 980.9,207 983.8,211.4 986.8,212.3 989.7,209.5 992.6,218.3 995.5,216.1 998.5,218.5 1001.4,220.3 1004.3,215.7 1007.2,213.3 1010.2,220.5 1013.1,214.4 1016,215.9 1018.9,216.9 1021.9,214.5 1024.8,221.1 1027.7,214 1030.6,219.8 1033.6,216.4 1036.5,222.1 1039.4,212.9 1042.3,214.9 1045.3,215.7 1048.2,215.8 1051.1,210.2 1054,204.9 1057,205.4 1059.9,206.3 1062.8,205.8 1065.8,204.7 1068.7,200.5 1071.6,203.2 1074.5,199.4 1077.4,200.6 1080.4,213.5 1083.3,221.7 1086.2,229.3 1089.1,231 1092.1,235.4 1095,234.7 1097.9,242.9 1100.8,245 1103.8,244.3 1106.7,247 1109.6,244 1112.5,245.9 1115.5,248 1118.4,246.1 1121.3,243.6 1124.2,245.1 1127.2,250.2 1130.1,248.7 1133,248.5 1135.9,248.4 1138.9,252.4 1141.8,256.4 1144.7,252.1 1147.6,257.4 1150.6,256.7 1153.5,257.8 1156.4,255 1159.3,260.9 1162.3,260.4 1165.2,263.2 1168.1,265.7 1171,262.6 1174,268.8 1176.9,267.7 1179.8,270.1 1182.8,278.8 1185.7,280.3 1188.6,287.3 1191.5,278.5 1194.4,280.7 1197.4,285.4 1200.3,287.4 1203.2,288.7 1206.2,291.6 1209.1,291.6 1212,294 1214.9,298.9 1217.8,293.6 1220.8,297.2 1223.7,304.4 1226.6,298.8 1229.5,300.5 1232.5,307.2 1235.4,310.3 1238.3,319.2 1241.2,321.7 1244.2,329.7 1247.1,330 1250,329.4 1252.9,338.3 1255.9,347 1258.8,341.4 1261.7,345.7 1264.7,352.7 1267.6,368.2 1270.5,366.9 1273.4,378.6 1276.3,383.2 1279.3,387.4 1282.2,391.7 1285.1,405.8 1288,412.4 1291,423.4 1293.9,427.8 1296.8,440.2 1299.8,448.6 1302.7,455 1305.6,468.5 1308.5,479.5 1311.4,491.1 1314.4,503.1 1317.3,515.2 1320.2,536.5 1323.2,549.3 1326.1,552" fill="none" stroke="#ff5100" stroke-width="1.5" stroke-linejoin="round"/>
<polyline points="849.3,242.6 852.2,183.8 855.1,153.2 858.1,129.9 861,129.2 863.9,139.9 866.8,154.8 869.8,165.4 872.7,169.9 875.6,172.8 878.5,176.5 881.5,178.2 884.4,180 887.3,169.2 890.2,173.9 893.2,172.4 896.1,170.1 899,169.5 901.9,171.3 904.9,170.9 907.8,168.2 910.7,166.7 913.6,170.9 916.6,175.3 919.5,177.4 922.4,179.4 925.3,188.7 928.3,176.7 931.2,159.2 934.1,131.7 937,102.1 940,115.7 942.9,135.7 945.8,137 948.8,136.9 951.7,125.8 954.6,122.2 957.5,109.1 960.4,111.6 963.4,113.6 966.3,133.6 969.2,145.9 972.1,167.1 975.1,194.5 978,204.4 980.9,209 983.8,216.6 986.8,214.8 989.7,217.1 992.6,221.4 995.5,219.3 998.5,217 1001.4,218.9 1004.3,218.3 1007.2,217.5 1010.2,219 1013.1,214.5 1016,223 1018.9,217.5 1021.9,220.9 1024.8,217.8 1027.7,215.7 1030.6,215.4 1033.6,214 1036.5,212.2 1039.4,211.6 1042.3,212.6 1045.3,208.1 1048.2,205.6 1051.1,203.9 1054,203.8 1057,201.6 1059.9,206.8 1062.8,201.2 1065.8,197.5 1068.7,191.9 1071.6,190 1074.5,193.6 1077.4,203.9 1080.4,208.1 1083.3,215 1086.2,222.4 1089.1,233.6 1092.1,239.5 1095,241 1097.9,243.2 1100.8,238.1 1103.8,241.5 1106.7,236.8 1109.6,239.6 1112.5,242.7 1115.5,249.2 1118.4,245.9 1121.3,247.6 1124.2,254.3 1127.2,254.9 1130.1,253.9 1133,248.3 1135.9,254 1138.9,258.2 1141.8,253.9 1144.7,253.1 1147.6,259.6 1150.6,250.3 1153.5,259.9 1156.4,255 1159.3,257.1 1162.3,262.5 1165.2,261.4 1168.1,262.1 1171,264.5 1174,262.1 1176.9,266.1 1179.8,273.5 1182.8,269.6 1185.7,275.6 1188.6,274.7 1191.5,275.7 1194.4,279.1 1197.4,277.8 1200.3,283.6 1203.2,287.1 1206.2,282.6 1209.1,288.3 1212,293.7 1214.9,295.8 1217.8,300.1 1220.8,301.2 1223.7,307.4 1226.6,301.7 1229.5,306.5 1232.5,320.9 1235.4,319.7 1238.3,320.2 1241.2,325.7 1244.2,334.3 1247.1,329 1250,339 1252.9,337.3 1255.9,342.4 1258.8,343.7 1261.7,356.3 1264.7,352.6 1267.6,367.7 1270.5,364.7 1273.4,372.2 1276.3,380.6 1279.3,392.1 1282.2,390.1 1285.1,399.8 1288,415.2 1291,426.2 1293.9,428.4 1296.8,438.2 1299.8,443.1 1302.7,455.6 1305.6,466.1 1308.5,480.3 1311.4,487.8 1314.4,506.3 1317.3,523.3 1320.2,539.3 1323.2,541.2 1326.1,554.4" fill="none" stroke="#ff2e00" stroke-width="1.5" stroke-linejoin="round"/>
<polyline points="849.3,182.9 852.2,156.7 855.1,141.4 858.1,134.1 861,135.8 863.9,136.3 866.8,137.9 869.8,135.3 872.7,137 875.6,138 878.5,129.1 881.5,123.8 884.4,120 887.3,118.6 890.2,118.8 893.2,116.9 896.1,116.6 899,122.8 901.9,130.5 904.9,135.9 907.8,129.6 910.7,137.4 913.6,137 916.6,136.2 919.5,134 922.4,141.2 925.3,137.3 928.3,144.2 931.2,157.9 934.1,152.5 937,154.9 940,162.2 942.9,160.1 945.8,161.5 948.8,165.8 951.7,166.8 954.6,167.8 957.5,172.3 960.4,171.5 963.4,175.6 966.3,170.2 969.2,175.1 972.1,170.1 975.1,168.4 978,170.6 980.9,178.6 983.8,177.1 986.8,181.1 989.7,181.1 992.6,187.8 995.5,190.9 998.5,190.3 1001.4,194.4 1004.3,189.3 1007.2,191.6 1010.2,193.4 1013.1,195.1 1016,195.5 1018.9,191.9 1021.9,195.2 1024.8,196.1 1027.7,190.8 1030.6,197 1033.6,199 1036.5,199.5 1039.4,195.2 1042.3,201.4 1045.3,202.1 1048.2,197.5 1051.1,198.4 1054,198.5 1057,206.5 1059.9,203.1 1062.8,206.5 1065.8,203.1 1068.7,209.1 1071.6,204.1 1074.5,199.3 1077.4,201.6 1080.4,209.6 1083.3,198.7 1086.2,202 1089.1,205.8 1092.1,206.2 1095,207.4 1097.9,203.3 1100.8,207.3 1103.8,213 1106.7,211.3 1109.6,204.2 1112.5,206.9 1115.5,208.9 1118.4,215.1 1121.3,212 1124.2,211.6 1127.2,215.7 1130.1,214.7 1133,214.5 1135.9,215.4 1138.9,217.4 1141.8,217.5 1144.7,223 1147.6,219.8 1150.6,216.1 1153.5,212.9 1156.4,217.7 1159.3,214.8 1162.3,218.3 1165.2,221.8 1168.1,217.9 1171,218.3 1174,223.5 1176.9,224.4 1179.8,222.3 1182.8,225.1 1185.7,223.2 1188.6,230.3 1191.5,224.8 1194.4,230.8 1197.4,229.2 1200.3,237.1 1203.2,231 1206.2,235.6 1209.1,231.4 1212,245.9 1214.9,248.6 1217.8,242.5 1220.8,244 1223.7,254.6 1226.6,248.9 1229.5,249.6 1232.5,249.9 1235.4,256.2 1238.3,264.2 1241.2,268.5 1244.2,259.1 1247.1,268.5 1250,270.6 1252.9,279.2 1255.9,283.2 1258.8,288.1 1261.7,295.6 1264.7,298.9 1267.6,308.1 1270.5,313.2 1273.4,315.9 1276.3,327.2 1279.3,337 1282.2,336.7 1285.1,345.5 1288,357.3 1291,370.9 1293.9,369.4 1296.8,377.7 1299.8,392.8 1302.7,395.6 1305.6,412.7 1308.5,421.3 1311.4,433.5 1314.4,445.3 1317.3,460.4 1320.2,467.9 1323.2,483.4 1326.1,488.1" fill="none" stroke="#a04848" stroke-width="1.0" stroke-linejoin="round"/>
<polyline points="849.3,246.1 852.2,183.9 855.1,148.9 858.1,137.5 861,130.4 863.9,139.3 866.8,158.3 869.8,172.9 872.7,172.6 875.6,179.5 878.5,185.2 881.5,183.1 884.4,183.4 887.3,180.1 890.2,173.3 893.2,176.3 896.1,179.2 899,174 901.9,176.2 904.9,170 907.8,169.9 910.7,170.3 913.6,177.1 916.6,181.6 919.5,182.4 922.4,185.2 925.3,188.7 928.3,185.3 931.2,177.4 934.1,145.4 937,112.2 940,128.1 942.9,142.9 945.8,135.8 948.8,136 951.7,124.2 954.6,120.9 957.5,114.3 960.4,105.2 963.4,113.8 966.3,128.8 969.2,154.1 972.1,172 975.1,188.7 978,194.8 980.9,211.1 983.8,214.2 986.8,212.9 989.7,218.1 992.6,221.6 995.5,224.4 998.5,216.1 1001.4,222.4 1004.3,217.8 1007.2,217.4 1010.2,222.6 1013.1,218 1016,226.3 1018.9,220 1021.9,222.8 1024.8,218.3 1027.7,217.9 1030.6,217 1033.6,214.6 1036.5,217.1 1039.4,218.2 1042.3,216 1045.3,207.4 1048.2,212.4 1051.1,208.3 1054,204.2 1057,203.9 1059.9,204.9 1062.8,207.1 1065.8,195.9 1068.7,199.6 1071.6,202 1074.5,199.4 1077.4,203.9 1080.4,220.2 1083.3,222 1086.2,229.2 1089.1,234 1092.1,240.1 1095,245.4 1097.9,249 1100.8,245.4 1103.8,247.3 1106.7,241.3 1109.6,247.6 1112.5,246 1115.5,247.6 1118.4,253.6 1121.3,246 1124.2,250 1127.2,253.4 1130.1,247.7 1133,245.5 1135.9,250.3 1138.9,251.2 1141.8,252.9 1144.7,253.1 1147.6,248.7 1150.6,253 1153.5,252.8 1156.4,253.4 1159.3,265.7 1162.3,257 1165.2,257.2 1168.1,259.9 1171,267.1 1174,266.7 1176.9,263.9 1179.8,266.9 1182.8,268.9 1185.7,276.5 1188.6,274.4 1191.5,273.1 1194.4,280.2 1197.4,279 1200.3,283.2 1203.2,286 1206.2,293.6 1209.1,296.4 1212,299.4 1214.9,296.5 1217.8,298.9 1220.8,309.1 1223.7,312.7 1226.6,311.2 1229.5,310.4 1232.5,316.6 1235.4,318.5 1238.3,322.2 1241.2,325.1 1244.2,330.9 1247.1,332.3 1250,335.6 1252.9,341.9 1255.9,340.3 1258.8,353.5 1261.7,355.8 1264.7,361.9 1267.6,361.2 1270.5,366.9 1273.4,378.9 1276.3,382.6 1279.3,391.1 1282.2,400.9 1285.1,406.3 1288,410.3 1291,417.7 1293.9,430.4 1296.8,437.4 1299.8,444.8 1302.7,453.6 1305.6,468 1308.5,483.3 1311.4,497.8 1314.4,506.2 1317.3,521.4 1320.2,535.4 1323.2,547.1 1326.1,556.2" fill="none" stroke="#e50000" stroke-width="1.5" stroke-linejoin="round"/>
<path d="M127.1 88.8 L127.1 580.8 L625 580.8" fill="none" stroke="#8c8c8c" stroke-width="1.5"/>
<line x1="127.1" y1="580.8" x2="127.1" y2="574.8" stroke="#8c8c8c" stroke-width="1.5"/>
<line x1="228.6" y1="580.8" x2="228.6" y2="574.8" stroke="#8c8c8c" stroke-width="1.5"/>
<line x1="330.1" y1="580.8" x2="330.1" y2="574.8" stroke="#8c8c8c" stroke-width="1.5"/>
<line x1="431.6" y1="580.8" x2="431.6" y2="574.8" stroke="#8c8c8c" stroke-width="1.5"/>
<line x1="533.1" y1="580.8" x2="533.1" y2="574.8" stroke="#8c8c8c" stroke-width="1.5"/>
<line x1="127.1" y1="88.8" x2="133.1" y2="88.8" stroke="#8c8c8c" stroke-width="1.5"/>
<line x1="127.1" y1="170.8" x2="133.1" y2="170.8" stroke="#8c8c8c" stroke-width="1.5"/>
<line x1="127.1" y1="252.8" x2="133.1" y2="252.8" stroke="#8c8c8c" stroke-width="1.5"/>
<line x1="127.1" y1="334.8" x2="133.1" y2="334.8" stroke="#8c8c8c" stroke-width="1.5"/>
<line x1="127.1" y1="416.8" x2="133.1" y2="416.8" stroke="#8c8c8c" stroke-width="1.5"/>
<line x1="127.1" y1="498.8" x2="133.1" y2="498.8" stroke="#8c8c8c" stroke-width="1.5"/>
<line x1="127.1" y1="580.8" x2="133.1" y2="580.8" stroke="#8c8c8c" stroke-width="1.5"/>
<path d="M849.3 89 L849.3 580.3 L1326.7 580.3" fill="none" stroke="#4d4d4d" stroke-width="1.5"/>
<line x1="849.3" y1="580.3" x2="849.3" y2="574.3" stroke="#4d4d4d" stroke-width="1.5"/>
<line x1="946.8" y1="580.3" x2="946.8" y2="574.3" stroke="#4d4d4d" stroke-width="1.5"/>
<line x1="1044.3" y1="580.3" x2="1044.3" y2="574.3" stroke="#4d4d4d" stroke-width="1.5"/>
<line x1="1141.8" y1="580.3" x2="1141.8" y2="574.3" stroke="#4d4d4d" stroke-width="1.5"/>
<line x1="1239.3" y1="580.3" x2="1239.3" y2="574.3" stroke="#4d4d4d" stroke-width="1.5"/>
<line x1="849.3" y1="100.3" x2="855.3" y2="100.3" stroke="#4d4d4d" stroke-width="1.5"/>
<line x1="849.3" y1="180.3" x2="855.3" y2="180.3" stroke="#4d4d4d" stroke-width="1.5"/>
<line x1="849.3" y1="260.3" x2="855.3" y2="260.3" stroke="#4d4d4d" stroke-width="1.5"/>
<line x1="849.3" y1="340.3" x2="855.3" y2="340.3" stroke="#4d4d4d" stroke-width="1.5"/>
<line x1="849.3" y1="420.3" x2="855.3" y2="420.3" stroke="#4d4d4d" stroke-width="1.5"/>
<line x1="849.3" y1="500.3" x2="855.3" y2="500.3" stroke="#4d4d4d" stroke-width="1.5"/>
<line x1="849.3" y1="580.3" x2="855.3" y2="580.3" stroke="#4d4d4d" stroke-width="1.5"/>
<path d="M128.3 742.5 L128.3 1270.7 L612.4 1270.7" fill="none" stroke="#7a7a7a" stroke-width="1.5"/>
<path d="M128.3 742.5 L612.4 742.5 L612.4 1270.7" fill="none" stroke="#7a7a7a" stroke-width="1.5"/>
<line x1="128.3" y1="1270.7" x2="128.3" y2="1264.7" stroke="#7a7a7a" stroke-width="1.5"/>
<line x1="128.3" y1="742.5" x2="128.3" y2="748.5" stroke="#7a7a7a" stroke-width="1.5"/>
<line x1="266.6" y1="1270.7" x2="266.6" y2="1264.7" stroke="#7a7a7a" stroke-width="1.5"/>
<line x1="266.6" y1="742.5" x2="266.6" y2="748.5" stroke="#7a7a7a" stroke-width="1.5"/>
<line x1="404.9" y1="1270.7" x2="404.9" y2="1264.7" stroke="#7a7a7a" stroke-width="1.5"/>
<line x1="404.9" y1="742.5" x2="404.9" y2="748.5" stroke="#7a7a7a" stroke-width="1.5"/>
<line x1="543.3" y1="1270.7" x2="543.3" y2="1264.7" stroke="#7a7a7a" stroke-width="1.5"/>
<line x1="543.3" y1="742.5" x2="543.3" y2="748.5" stroke="#7a7a7a" stroke-width="1.5"/>
<line x1="128.3" y1="766.5" x2="134.3" y2="766.5" stroke="#7a7a7a" stroke-width="1.5"/>
<line x1="612.4" y1="766.5" x2="606.4" y2="766.5" stroke="#7a7a7a" stroke-width="1.5"/>
<line x1="128.3" y1="886.5" x2="134.3" y2="886.5" stroke="#7a7a7a" stroke-width="1.5"/>
<line x1="612.4" y1="886.5" x2="606.4" y2="886.5" stroke="#7a7a7a" stroke-width="1.5"/>
<line x1="128.3" y1="1006.6" x2="134.3" y2="1006.6" stroke="#7a7a7a" stroke-width="1.5"/>
<line x1="612.4" y1="1006.6" x2="606.4" y2="1006.6" stroke="#7a7a7a" stroke-width="1.5"/>
<line x1="128.3" y1="1126.7" x2="134.3" y2="1126.7" stroke="#7a7a7a" stroke-width="1.5"/>
<line x1="612.4" y1="1126.7" x2="606.4" y2="1126.7" stroke="#7a7a7a" stroke-width="1.5"/>
<line x1="128.3" y1="1246.7" x2="134.3" y2="1246.7" stroke="#7a7a7a" stroke-width="1.5"/>
<line x1="612.4" y1="1246.7" x2="606.4" y2="1246.7" stroke="#7a7a7a" stroke-width="1.5"/>
<path d="M863.5 742.5 L863.5 1270.7 L1347 1270.7" fill="none" stroke="#5c5c5c" stroke-width="1.5"/>
<path d="M863.5 742.5 L1347 742.5 L1347 1270.7" fill="none" stroke="#5c5c5c" stroke-width="1.5"/>
<line x1="863.5" y1="1270.7" x2="863.5" y2="1264.7" stroke="#5c5c5c" stroke-width="1.5"/>
<line x1="863.5" y1="742.5" x2="863.5" y2="748.5" stroke="#5c5c5c" stroke-width="1.5"/>
<line x1="1083.3" y1="1270.7" x2="1083.3" y2="1264.7" stroke="#5c5c5c" stroke-width="1.5"/>
<line x1="1083.3" y1="742.5" x2="1083.3" y2="748.5" stroke="#5c5c5c" stroke-width="1.5"/>
<line x1="1303" y1="1270.7" x2="1303" y2="1264.7" stroke="#5c5c5c" stroke-width="1.5"/>
<line x1="1303" y1="742.5" x2="1303" y2="748.5" stroke="#5c5c5c" stroke-width="1.5"/>
<line x1="863.5" y1="766.5" x2="869.5" y2="766.5" stroke="#5c5c5c" stroke-width="1.5"/>
<line x1="1347" y1="766.5" x2="1341" y2="766.5" stroke="#5c5c5c" stroke-width="1.5"/>
<line x1="863.5" y1="886.5" x2="869.5" y2="886.5" stroke="#5c5c5c" stroke-width="1.5"/>
<line x1="1347" y1="886.5" x2="1341" y2="886.5" stroke="#5c5c5c" stroke-width="1.5"/>
<line x1="863.5" y1="1006.6" x2="869.5" y2="1006.6" stroke="#5c5c5c" stroke-width="1.5"/>
<line x1="1347" y1="1006.6" x2="1341" y2="1006.6" stroke="#5c5c5c" stroke-width="1.5"/>
<line x1="863.5" y1="1126.7" x2="869.5" y2="1126.7" stroke="#5c5c5c" stroke-width="1.5"/>
<line x1="1347" y1="1126.7" x2="1341" y2="1126.7" stroke="#5c5c5c" stroke-width="1.5"/>
<line x1="863.5" y1="1246.7" x2="869.5" y2="1246.7" stroke="#5c5c5c" stroke-width="1.5"/>
<line x1="1347" y1="1246.7" x2="1341" y2="1246.7" stroke="#5c5c5c" stroke-width="1.5"/>
<text x="10" y="36.1" font-family='"Liberation Sans", sans-serif' font-size="37" font-weight="normal" text-anchor="start" fill="#000" textLength="204" lengthAdjust="spacingAndGlyphs">ANALYTICAL</text>
<text x="730.5" y="36.1" font-family='"Liberation Sans", sans-serif' font-size="37" font-weight="normal" text-anchor="start" fill="#000" textLength="282" lengthAdjust="spacingAndGlyphs">CONCENTRATIVE</text>
<text x="8" y="70.8" font-family='"Liberation Sans", sans-serif' font-size="32.5" font-weight="bold" text-anchor="start" fill="#000" >A</text>
<text x="733" y="70.7" font-family='"Liberation Sans", sans-serif' font-size="32.5" font-weight="bold" text-anchor="start" fill="#000" >B</text>
<text x="7.5" y="721.3" font-family='"Liberation Sans", sans-serif' font-size="32.5" font-weight="bold" text-anchor="start" fill="#000" >C</text>
<text x="733" y="721.3" font-family='"Liberation Sans", sans-serif' font-size="32.5" font-weight="bold" text-anchor="start" fill="#000" >D</text>
<text transform="translate(117 102.2) scale(1 1.05)" x="0" y="0" font-family='"Liberation Sans", sans-serif' font-size="35.5" font-weight="normal" text-anchor="end" fill="#1a1a1a" >-30</text>
<text transform="translate(117 184.2) scale(1 1.05)" x="0" y="0" font-family='"Liberation Sans", sans-serif' font-size="35.5" font-weight="normal" text-anchor="end" fill="#1a1a1a" >-40</text>
<text transform="translate(117 266.2) scale(1 1.05)" x="0" y="0" font-family='"Liberation Sans", sans-serif' font-size="35.5" font-weight="normal" text-anchor="end" fill="#1a1a1a" >-50</text>
<text transform="translate(117 348.2) scale(1 1.05)" x="0" y="0" font-family='"Liberation Sans", sans-serif' font-size="35.5" font-weight="normal" text-anchor="end" fill="#1a1a1a" >-60</text>
<text transform="translate(117 430.2) scale(1 1.05)" x="0" y="0" font-family='"Liberation Sans", sans-serif' font-size="35.5" font-weight="normal" text-anchor="end" fill="#1a1a1a" >-70</text>
<text transform="translate(117 512.2) scale(1 1.05)" x="0" y="0" font-family='"Liberation Sans", sans-serif' font-size="35.5" font-weight="normal" text-anchor="end" fill="#1a1a1a" >-80</text>
<text transform="translate(117 594.2) scale(1 1.05)" x="0" y="0" font-family='"Liberation Sans", sans-serif' font-size="35.5" font-weight="normal" text-anchor="end" fill="#1a1a1a" >-90</text>
<text transform="translate(127.1 626) scale(1 1.05)" x="0" y="0" font-family='"Liberation Sans", sans-serif' font-size="35.5" font-weight="normal" text-anchor="middle" fill="#1a1a1a" >0</text>
<text transform="translate(228.6 626) scale(1 1.05)" x="0" y="0" font-family='"Liberation Sans", sans-serif' font-size="35.5" font-weight="normal" text-anchor="middle" fill="#1a1a1a" >10</text>
<text transform="translate(330.1 626) scale(1 1.05)" x="0" y="0" font-family='"Liberation Sans", sans-serif' font-size="35.5" font-weight="normal" text-anchor="middle" fill="#1a1a1a" >20</text>
<text transform="translate(431.6 626) scale(1 1.05)" x="0" y="0" font-family='"Liberation Sans", sans-serif' font-size="35.5" font-weight="normal" text-anchor="middle" fill="#1a1a1a" >30</text>
<text transform="translate(533.1 626) scale(1 1.05)" x="0" y="0" font-family='"Liberation Sans", sans-serif' font-size="35.5" font-weight="normal" text-anchor="middle" fill="#1a1a1a" >40</text>
<text x="376.1" y="670" font-family='"Liberation Sans", sans-serif' font-size="35.5" font-weight="normal" text-anchor="middle" fill="#1a1a1a" >Hz</text>
<text transform="translate(839 114.1) scale(1 1.05)" x="0" y="0" font-family='"Liberation Sans", sans-serif' font-size="35.5" font-weight="normal" text-anchor="end" fill="#1a1a1a" >-40</text>
<text transform="translate(839 194.1) scale(1 1.05)" x="0" y="0" font-family='"Liberation Sans", sans-serif' font-size="35.5" font-weight="normal" text-anchor="end" fill="#1a1a1a" >-50</text>
<text transform="translate(839 274.1) scale(1 1.05)" x="0" y="0" font-family='"Liberation Sans", sans-serif' font-size="35.5" font-weight="normal" text-anchor="end" fill="#1a1a1a" >-60</text>
<text transform="translate(839 354.1) scale(1 1.05)" x="0" y="0" font-family='"Liberation Sans", sans-serif' font-size="35.5" font-weight="normal" text-anchor="end" fill="#1a1a1a" >-70</text>
<text transform="translate(839 434.1) scale(1 1.05)" x="0" y="0" font-family='"Liberation Sans", sans-serif' font-size="35.5" font-weight="normal" text-anchor="end" fill="#1a1a1a" >-80</text>
<text transform="translate(839 514.1) scale(1 1.05)" x="0" y="0" font-family='"Liberation Sans", sans-serif' font-size="35.5" font-weight="normal" text-anchor="end" fill="#1a1a1a" >-90</text>
<text transform="translate(839 594.1) scale(1 1.05)" x="0" y="0" font-family='"Liberation Sans", sans-serif' font-size="35.5" font-weight="normal" text-anchor="end" fill="#1a1a1a" >-100</text>
<text transform="translate(849.3 625.8) scale(1 1.05)" x="0" y="0" font-family='"Liberation Sans", sans-serif' font-size="35.5" font-weight="normal" text-anchor="middle" fill="#1a1a1a" >0</text>
<text transform="translate(946.8 625.8) scale(1 1.05)" x="0" y="0" font-family='"Liberation Sans", sans-serif' font-size="35.5" font-weight="normal" text-anchor="middle" fill="#1a1a1a" >10</text>
<text transform="translate(1044.3 625.8) scale(1 1.05)" x="0" y="0" font-family='"Liberation Sans", sans-serif' font-size="35.5" font-weight="normal" text-anchor="middle" fill="#1a1a1a" >20</text>
<text transform="translate(1141.8 625.8) scale(1 1.05)" x="0" y="0" font-family='"Liberation Sans", sans-serif' font-size="35.5" font-weight="normal" text-anchor="middle" fill="#1a1a1a" >30</text>
<text transform="translate(1239.3 625.8) scale(1 1.05)" x="0" y="0" font-family='"Liberation Sans", sans-serif' font-size="35.5" font-weight="normal" text-anchor="middle" fill="#1a1a1a" >40</text>
<text x="1088" y="669.8" font-family='"Liberation Sans", sans-serif' font-size="35.5" font-weight="normal" text-anchor="middle" fill="#1a1a1a" >Hz</text>
<text transform="translate(117.3 779.8) scale(1 1.06)" x="0" y="0" font-family='"Liberation Sans", sans-serif' font-size="35" font-weight="normal" text-anchor="end" fill="#1a1a1a" >10</text>
<text transform="translate(117.3 899.8) scale(1 1.06)" x="0" y="0" font-family='"Liberation Sans", sans-serif' font-size="35" font-weight="normal" text-anchor="end" fill="#1a1a1a" >5</text>
<text transform="translate(117.3 1019.9) scale(1 1.06)" x="0" y="0" font-family='"Liberation Sans", sans-serif' font-size="35" font-weight="normal" text-anchor="end" fill="#1a1a1a" >0</text>
<text transform="translate(117.3 1140) scale(1 1.06)" x="0" y="0" font-family='"Liberation Sans", sans-serif' font-size="35" font-weight="normal" text-anchor="end" fill="#1a1a1a" >-5</text>
<text transform="translate(117.3 1260) scale(1 1.06)" x="0" y="0" font-family='"Liberation Sans", sans-serif' font-size="35" font-weight="normal" text-anchor="end" fill="#1a1a1a" >-10</text>
<text transform="translate(128.3 1317.5) scale(1 0.975)" x="0" y="0" font-family='"Liberation Sans", sans-serif' font-size="36" font-weight="normal" text-anchor="middle" fill="#1a1a1a" >baseline</text>
<text transform="translate(266.6 1317.5) scale(1 1.06)" x="0" y="0" font-family='"Liberation Sans", sans-serif' font-size="35" font-weight="normal" text-anchor="middle" fill="#1a1a1a" >20</text>
<text transform="translate(404.9 1317.5) scale(1 1.06)" x="0" y="0" font-family='"Liberation Sans", sans-serif' font-size="35" font-weight="normal" text-anchor="middle" fill="#1a1a1a" >40</text>
<text transform="translate(543.3 1317.5) scale(1 1.06)" x="0" y="0" font-family='"Liberation Sans", sans-serif' font-size="35" font-weight="normal" text-anchor="middle" fill="#1a1a1a" >60</text>
<text transform="translate(369.9 1364.9) scale(1 0.975)" x="0" y="0" font-family='"Liberation Sans", sans-serif' font-size="38.7" font-weight="normal" text-anchor="middle" fill="#1a1a1a" >time (min)</text>
<text transform="translate(852.6 779.8) scale(1 1.06)" x="0" y="0" font-family='"Liberation Sans", sans-serif' font-size="35" font-weight="normal" text-anchor="end" fill="#1a1a1a" >10</text>
<text transform="translate(852.6 899.8) scale(1 1.06)" x="0" y="0" font-family='"Liberation Sans", sans-serif' font-size="35" font-weight="normal" text-anchor="end" fill="#1a1a1a" >5</text>
<text transform="translate(852.6 1019.9) scale(1 1.06)" x="0" y="0" font-family='"Liberation Sans", sans-serif' font-size="35" font-weight="normal" text-anchor="end" fill="#1a1a1a" >0</text>
<text transform="translate(852.6 1140) scale(1 1.06)" x="0" y="0" font-family='"Liberation Sans", sans-serif' font-size="35" font-weight="normal" text-anchor="end" fill="#1a1a1a" >-5</text>
<text transform="translate(852.6 1260) scale(1 1.06)" x="0" y="0" font-family='"Liberation Sans", sans-serif' font-size="35" font-weight="normal" text-anchor="end" fill="#1a1a1a" >-10</text>
<text transform="translate(863.5 1317.5) scale(1 0.975)" x="0" y="0" font-family='"Liberation Sans", sans-serif' font-size="36" font-weight="normal" text-anchor="middle" fill="#1a1a1a" >baseline</text>
<text transform="translate(1083.3 1317.5) scale(1 1.06)" x="0" y="0" font-family='"Liberation Sans", sans-serif' font-size="35" font-weight="normal" text-anchor="middle" fill="#1a1a1a" >50</text>
<text transform="translate(1303 1317.5) scale(1 1.06)" x="0" y="0" font-family='"Liberation Sans", sans-serif' font-size="35" font-weight="normal" text-anchor="middle" fill="#1a1a1a" >100</text>
<text transform="translate(1104.8 1364.9) scale(1 0.975)" x="0" y="0" font-family='"Liberation Sans", sans-serif' font-size="38.7" font-weight="normal" text-anchor="middle" fill="#1a1a1a" >time (min)</text>
<text transform="translate(54.2 1007.3) rotate(-90)" font-family='"Liberation Sans", sans-serif' font-size="38" text-anchor="middle" fill="#1a1a1a">dB</text>
<text transform="translate(788.9 1007.3) rotate(-90)" font-family='"Liberation Sans", sans-serif' font-size="38" text-anchor="middle" fill="#1a1a1a">dB</text>
<text transform="rotate(-90) scale(1.1 1)" x="-398.6" y="51.4" font-family='"Liberation Serif", serif' font-size="34" text-anchor="middle" fill="#1a1a1a">1</text>
<text transform="rotate(-90) scale(1.1 1)" x="-383.2" y="51.4" font-family='"Liberation Serif", serif' font-size="34" text-anchor="middle" fill="#1a1a1a">0</text>
<text transform="rotate(-90) scale(1.1 1)" x="-363.5" y="51.4" font-family='"Liberation Serif", serif' font-size="34" font-style="italic" text-anchor="middle" fill="#1a1a1a">L</text>
<text transform="rotate(-90) scale(1.1 1)" x="-345.8" y="51.4" font-family='"Liberation Serif", serif' font-size="34" font-style="italic" text-anchor="middle" fill="#1a1a1a">o</text>
<text transform="rotate(-90) scale(1.1 1)" x="-330.5" y="51.4" font-family='"Liberation Serif", serif' font-size="34" font-style="italic" text-anchor="middle" fill="#1a1a1a">g</text>
<text transform="rotate(-90) scale(1.1 1)" x="-317.4" y="56.4" font-family='"Liberation Serif", serif' font-size="23" text-anchor="middle" fill="#1a1a1a">1</text>
<text transform="rotate(-90) scale(1.1 1)" x="-307.0" y="56.4" font-family='"Liberation Serif", serif' font-size="23" text-anchor="middle" fill="#1a1a1a">0</text>
<text transform="rotate(-90) scale(1.1 1)" x="-292.8" y="51.8" font-family='"Liberation Serif", serif' font-size="38" text-anchor="middle" fill="#1a1a1a">(</text>
<text transform="rotate(-90) scale(1.1 1)" x="-274.9" y="51.4" font-family='"Liberation Serif", serif' font-size="34" font-style="italic" text-anchor="middle" fill="#1a1a1a">P</text>
<text transform="rotate(-90) scale(1.1 1)" x="-251.5" y="51.4" font-family='"Liberation Serif", serif' font-size="34" font-style="italic" text-anchor="middle" fill="#1a1a1a">S</text>
<text transform="rotate(-90) scale(1.1 1)" x="-227.6" y="51.4" font-family='"Liberation Serif", serif' font-size="34" font-style="italic" text-anchor="middle" fill="#1a1a1a">D</text>
<text transform="rotate(-90) scale(1.1 1)" x="-209.1" y="51.8" font-family='"Liberation Serif", serif' font-size="38" text-anchor="middle" fill="#1a1a1a">)</text>
<text transform="rotate(-90) scale(1.1 1)" x="-400.1" y="753.8" font-family='"Liberation Serif", serif' font-size="34" text-anchor="middle" fill="#1a1a1a">1</text>
<text transform="rotate(-90) scale(1.1 1)" x="-384.6" y="753.8" font-family='"Liberation Serif", serif' font-size="34" text-anchor="middle" fill="#1a1a1a">0</text>
<text transform="rotate(-90) scale(1.1 1)" x="-364.8" y="753.8" font-family='"Liberation Serif", serif' font-size="34" font-style="italic" text-anchor="middle" fill="#1a1a1a">L</text>
<text transform="rotate(-90) scale(1.1 1)" x="-346.9" y="753.8" font-family='"Liberation Serif", serif' font-size="34" font-style="italic" text-anchor="middle" fill="#1a1a1a">o</text>
<text transform="rotate(-90) scale(1.1 1)" x="-331.4" y="753.8" font-family='"Liberation Serif", serif' font-size="34" font-style="italic" text-anchor="middle" fill="#1a1a1a">g</text>
<text transform="rotate(-90) scale(1.1 1)" x="-318.2" y="758.8" font-family='"Liberation Serif", serif' font-size="23" text-anchor="middle" fill="#1a1a1a">1</text>
<text transform="rotate(-90) scale(1.1 1)" x="-307.8" y="758.8" font-family='"Liberation Serif", serif' font-size="23" text-anchor="middle" fill="#1a1a1a">0</text>
<text transform="rotate(-90) scale(1.1 1)" x="-293.5" y="754.2" font-family='"Liberation Serif", serif' font-size="38" text-anchor="middle" fill="#1a1a1a">(</text>
<text transform="rotate(-90) scale(1.1 1)" x="-275.5" y="753.8" font-family='"Liberation Serif", serif' font-size="34" font-style="italic" text-anchor="middle" fill="#1a1a1a">P</text>
<text transform="rotate(-90) scale(1.1 1)" x="-251.8" y="753.8" font-family='"Liberation Serif", serif' font-size="34" font-style="italic" text-anchor="middle" fill="#1a1a1a">S</text>
<text transform="rotate(-90) scale(1.1 1)" x="-227.8" y="753.8" font-family='"Liberation Serif", serif' font-size="34" font-style="italic" text-anchor="middle" fill="#1a1a1a">D</text>
<text transform="rotate(-90) scale(1.1 1)" x="-209.1" y="754.2" font-family='"Liberation Serif", serif' font-size="38" text-anchor="middle" fill="#1a1a1a">)</text>
<line x1="718.2" y1="84.3" x2="722.9" y2="1047.8" stroke="#3f6fc6" stroke-width="3.6"/>
<line x1="724.5" y1="1374.8" x2="724.5" y2="1406.3" stroke="#3f6fc6" stroke-width="3.4"/>
<rect x="682.4" y="1073.3" width="84" height="284.1" fill="#ffffff" stroke="#6e6e6e" stroke-width="1.3"/>
<line x1="687.2" y1="1090.3" x2="732.7" y2="1090.3" stroke="#0000ff" stroke-width="3.2"/>
<circle cx="709.8" cy="1090.3" r="4.5" fill="#0000ff"/>
<text x="737" y="1099.7" font-family='"Liberation Serif", serif' font-style="italic" font-size="22" fill="#1a1a1a">δ</text>
<line x1="687.2" y1="1119.9" x2="732.7" y2="1119.9" stroke="#0080ff" stroke-width="3.2"/>
<circle cx="709.8" cy="1119.9" r="4.5" fill="#0080ff"/>
<text x="737" y="1129.3000000000002" font-family='"Liberation Serif", serif' font-style="italic" font-size="22" fill="#1a1a1a">θ</text>
<line x1="687.2" y1="1153.7" x2="732.7" y2="1153.7" stroke="#00ffff" stroke-width="3.2"/>
<circle cx="709.8" cy="1153.7" r="4.5" fill="#00ffff"/>
<text x="737" y="1158.7" font-family='"Liberation Serif", serif' font-style="italic" font-size="22" fill="#1a1a1a">α</text>
<text x="751.5" y="1168.7" font-family='"Liberation Sans", sans-serif' font-size="16.5" fill="#1a1a1a">1</text>
<line x1="687.2" y1="1192.2" x2="732.7" y2="1192.2" stroke="#80ff80" stroke-width="3.2"/>
<circle cx="709.8" cy="1192.2" r="4.5" fill="#80ff80"/>
<text x="737" y="1197.2" font-family='"Liberation Serif", serif' font-style="italic" font-size="22" fill="#1a1a1a">α</text>
<text x="751.5" y="1207.2" font-family='"Liberation Sans", sans-serif' font-size="16.5" fill="#1a1a1a">2</text>
<line x1="687.2" y1="1230.4" x2="732.7" y2="1230.4" stroke="#ffff00" stroke-width="3.2"/>
<circle cx="709.8" cy="1230.4" r="4.5" fill="#ffff00"/>
<text x="737" y="1235.4" font-family='"Liberation Serif", serif' font-style="italic" font-size="22" fill="#1a1a1a">α</text>
<text x="751.5" y="1245.4" font-family='"Liberation Sans", sans-serif' font-size="16.5" fill="#1a1a1a">3</text>
<line x1="687.2" y1="1268.8" x2="732.7" y2="1268.8" stroke="#ff8000" stroke-width="3.2"/>
<circle cx="709.8" cy="1268.8" r="4.5" fill="#ff8000"/>
<text x="737" y="1273.8" font-family='"Liberation Serif", serif' font-style="italic" font-size="22" fill="#1a1a1a">β</text>
<text x="751.5" y="1283.8" font-family='"Liberation Sans", sans-serif' font-size="16.5" fill="#1a1a1a">1</text>
<line x1="687.2" y1="1307.2" x2="732.7" y2="1307.2" stroke="#ff0000" stroke-width="3.2"/>
<circle cx="709.8" cy="1307.2" r="4.5" fill="#ff0000"/>
<text x="737" y="1312.2" font-family='"Liberation Serif", serif' font-style="italic" font-size="22" fill="#1a1a1a">β</text>
<text x="751.5" y="1322.2" font-family='"Liberation Sans", sans-serif' font-size="16.5" fill="#1a1a1a">2</text>
<line x1="687.2" y1="1341.1" x2="732.7" y2="1341.1" stroke="#800000" stroke-width="3.2"/>
<circle cx="709.8" cy="1341.1" r="4.5" fill="#800000"/>
<text x="737" y="1350.5" font-family='"Liberation Serif", serif' font-style="italic" font-size="22" fill="#1a1a1a">γ</text>
</svg></body></html>
